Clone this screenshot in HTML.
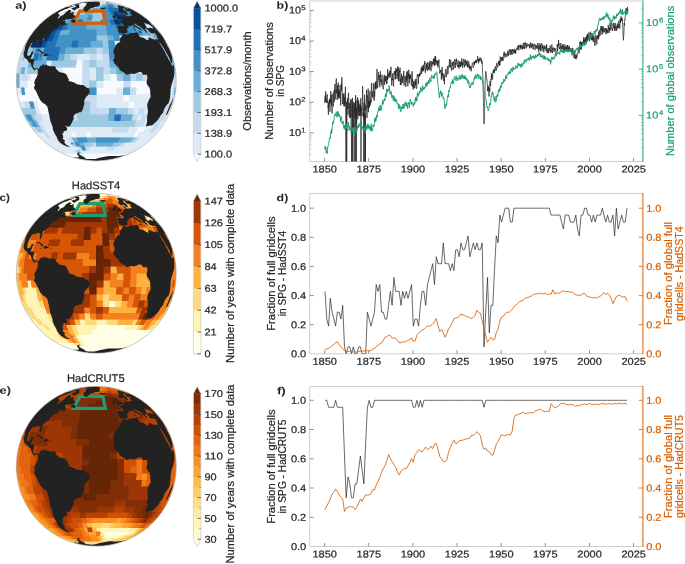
<!DOCTYPE html>
<html lang="en"><head><meta charset="utf-8"><title>Observation coverage: HadSST4 and HadCRUT5</title>
<style>
html,body{margin:0;padding:0;background:#ffffff;}
body{width:685px;height:564px;overflow:hidden;font-family:"Liberation Sans",sans-serif;}
svg{display:block;font-family:"Liberation Sans",sans-serif;will-change:transform;opacity:0.999;}
</style></head><body>
<svg width="685" height="564" viewBox="0 0 685 564">
<defs>
<path id="land" d="M-33.1,63.9 -33.9,63.5 -34.6,63 -35.6,62.2 -36.6,61.3 -37.4,60.4 -38.2,59.5 -38.6,58.5 -39,57.5 -39.4,56.6 -39.8,55.6 -40.5,54.6 -41.1,53.5 -41.7,52.5 -42.2,51.4 -42.6,50.6 -42.9,49.8 -43.3,49 -43.6,48.1 -43.7,47 -43.8,45.9 -44.2,44.7 -44.5,43.6 -45,42.4 -45.5,41.2 -45.9,40 -46.1,39 -46.4,38 -46.6,36.9 -46.7,35.9 -46.9,34.9 -47.1,33.8 -47.4,32.5 -47.7,31.3 -48,30 -48.3,28.7 -48.5,27.4 -48.9,26.2 -49.3,25.1 -50.3,24.3 -51.2,23.4 -52.3,22.7 -53.4,22.1 -54.6,20.8 -55.8,19.6 -56.5,18.3 -57.2,17 -57.8,15.7 -58.5,14.3 -59.1,12.9 -59.7,11.5 -60.3,10.3 -60.9,9.1 -61.5,8.7 -62,8.4 -62.1,7.3 -62.3,6.1 -61.8,5.4 -61.4,4.6 -61.2,3.5 -62.1,2.5 -61.9,1.6 -61.7,0.7 -61.5,-0.2 -61.3,-1.1 -60.4,-2.1 -59.9,-3.5 -59.4,-4.4 -58.9,-5.3 -58.7,-6.5 -58.5,-7.7 -58.5,-8.7 -58.5,-9.7 -58.5,-10.7 -58.4,-11.6 -58.7,-11.1 -59.2,-11.8 -59.6,-12.5 -60.7,-11.4 -61.7,-10.2 -62.3,-10.8 -62.8,-11.4 -63.4,-12.2 -63.9,-12.9 -64.4,-14.1 -64.9,-15.3 -65.3,-16.6 -65.7,-18 -66.3,-18.2 -66.8,-18.4 -67.4,-18.7 -67.9,-19.4 -68.4,-20 -68.9,-20.7 -69.3,-21.4 -69.7,-22.1 -70.2,-22.2 -70.7,-22.3 -71.2,-22.5 -71.5,-23 -71.8,-23.6 -72.1,-24.2 -72.4,-24.7 -72.5,-25.4 -72.6,-26 -72.7,-26.7 -72.7,-27.4 -72.4,-28.5 -72.1,-29.5 -71.7,-30.6 -71.6,-31.5 -71.5,-32.3 -71.3,-33.2 -71.1,-34.1 -70.8,-35.1 -70.5,-36.1 -70.1,-37.1 -69.7,-38.2 -69.2,-39.2 -68.6,-40.2 -68.1,-41.2 -68.6,-40.6 -69,-40 -68.5,-41 -67.9,-42 -67.4,-43 -66.9,-43.8 -66.4,-44.5 -65.9,-45.3 -65.1,-46.5 -64.3,-47.6 -63.5,-48.7 -62.6,-49.8 -61.7,-50.9 -60.8,-52 -59.9,-53 -59,-54 -58,-55.1 -57.1,-56.1 -56.1,-57.1 -55.1,-58 -54,-59 -53,-59.9 -52,-60.8 -50.9,-61.7 -49.8,-62.6 -48.7,-63.5 -47.6,-64.3 -46.5,-65.1 -45.3,-65.9 -44.2,-66.7 -43,-67.5 -41.8,-68.2 -40.6,-68.9 -39.4,-69.6 -38.2,-70.3 -36.9,-71 -35.7,-71.6 -34.4,-72.2 -33.2,-72.8 -31.9,-73.4 -30.6,-73.9 -29.3,-74.4 -28,-74.9 -28.3,-74.8 -28.5,-74.7 -28.8,-74.6 -29,-74.5 -29.2,-74.4 -29.3,-74.4 -29.4,-74.3 -29.5,-74.2 -29.3,-74.2 -29.1,-74.3 -28.8,-74.3 -28.6,-74.4 -28.3,-74.4 -28.3,-74.3 -28.2,-74.2 -28,-74.2 -27.8,-74.2 -27.6,-74.2 -27.4,-74.2 -26.6,-74.4 -25.8,-74.7 -25,-74.9 -24.9,-74.9 -24.9,-74.8 -24.8,-74.7 -25,-74.5 -25.1,-74.3 -25.3,-74.2 -24.1,-74.6 -22.9,-75 -22.6,-75 -22.4,-75 -22.1,-75 -21.9,-75 -22.4,-74.7 -22.9,-74.4 -23.7,-74.2 -24.5,-73.9 -25.3,-73.6 -25.9,-73.5 -26.5,-73.3 -27.1,-73.1 -28.3,-72.6 -29.5,-72 -30,-71.9 -30.4,-71.8 -30.9,-71.7 -31.7,-71.3 -32.6,-71 -33.6,-70.5 -34.5,-70.1 -35.5,-69.6 -36.5,-69 -37.4,-68.4 -37.9,-67.8 -38.4,-67.2 -38.1,-67.2 -37.7,-67.2 -37.6,-67.1 -37.5,-66.9 -37.4,-66.7 -37.4,-66.4 -37.3,-66.1 -37.2,-65.9 -36.9,-65.7 -36.6,-65.6 -36.3,-65.5 -36.9,-64.9 -37.5,-64.3 -38.1,-63.7 -38.4,-63.1 -38.6,-62.4 -38.2,-62.4 -37.8,-62.4 -37.4,-63 -37,-63.5 -36,-64.3 -35.1,-65.1 -34.1,-65.5 -33.1,-65.9 -32.3,-66.6 -31.5,-67.3 -31.2,-67.9 -30.9,-68.4 -30,-69 -29,-69.6 -28.3,-70.3 -27.5,-70.9 -27.1,-70.9 -26.7,-70.9 -26.2,-70.9 -25.8,-70.9 -25.4,-70.8 -25.4,-70.5 -25.5,-70.2 -25.1,-70 -24.8,-69.8 -25.7,-69.2 -26.5,-68.6 -26.1,-68.4 -25.7,-68.2 -25,-68.4 -24.2,-68.6 -23.3,-69 -22.5,-69.5 -22.5,-68.8 -22.5,-68.3 -22.5,-67.8 -22.7,-67.4 -22.9,-66.9 -22.8,-66.4 -22.7,-65.9 -22.2,-65.7 -21.6,-65.4 -21.4,-64.9 -21.1,-64.5 -21,-63.6 -22.1,-62.9 -22.8,-62.7 -23.5,-62.4 -24.5,-62 -25.6,-61.6 -26.3,-61.6 -27.1,-61.6 -27.8,-61.6 -28.6,-61.5 -29.4,-61.5 -30.1,-61.5 -30.8,-61.1 -31.5,-60.7 -32.4,-60.3 -33.2,-59.9 -34,-59.5 -35,-58.9 -35.9,-58.4 -34.7,-59.1 -33.5,-59.7 -32.8,-59.9 -32.1,-60.2 -31.4,-60.4 -31,-60.1 -30.5,-59.7 -30.8,-59.2 -31,-58.7 -30.9,-58.1 -30.7,-57.5 -29.9,-57.5 -29,-57.5 -28.3,-57.8 -27.5,-58 -28.5,-57.5 -29.4,-56.9 -30.5,-56.4 -31.5,-56 -32.6,-55.6 -33.3,-55.4 -34,-55.3 -34.1,-55.8 -34.2,-56.4 -34.9,-56.2 -35.6,-56 -36.4,-55.7 -37.3,-55.4 -38.4,-54.4 -38.2,-53.5 -38.9,-53.1 -39.6,-52.9 -40.3,-52.6 -41.3,-52.3 -42.2,-52.1 -42.9,-51.1 -43.7,-50.5 -44.4,-49.8 -45,-49.5 -45.6,-49.3 -45.8,-48.6 -46.1,-47.9 -46.6,-47 -47,-46.1 -48.1,-45.5 -48.9,-45.1 -49.7,-44.6 -50.7,-43.9 -51.6,-43.1 -52.4,-42.5 -53.2,-41.8 -53.6,-40.9 -54.1,-40 -54.2,-39.1 -54.3,-38.2 -54.5,-37.2 -54.7,-36.3 -55.1,-35.4 -55.6,-34.4 -56.3,-34.1 -56.5,-35.1 -56.5,-36 -56.4,-36.9 -56.2,-37.9 -55.9,-38.8 -56,-39.4 -56.2,-40 -56.6,-40 -57.1,-40 -57.7,-40.2 -58.2,-40.5 -58.9,-40.4 -59.6,-40.2 -60,-39.2 -60.5,-39 -61,-39.3 -61.4,-39.5 -62,-39.4 -62.5,-39.4 -63.1,-39.3 -63.9,-38.5 -64.8,-37.8 -65.3,-36.9 -65.8,-36 -66.3,-35.1 -66.9,-34 -67.4,-33 -67.9,-31.9 -68.2,-30.8 -68.5,-29.8 -68.9,-28.7 -68.9,-27.7 -69,-26.7 -69.1,-25.8 -68.8,-25.4 -68.5,-25 -67.9,-25.1 -67.3,-25.3 -66.7,-25.4 -65.8,-26.4 -65.4,-27.6 -64.9,-28.7 -64.2,-29 -63.5,-29.3 -63,-29.2 -62.4,-29.1 -63.1,-27.9 -63.7,-26.7 -64.3,-25.4 -64.8,-24.1 -65.4,-22.9 -65.8,-21.8 -65.4,-21.8 -64.9,-21.8 -64.3,-21.8 -63.7,-21.9 -63,-21.9 -62.5,-21.3 -61.9,-20.7 -62.3,-19.4 -62.7,-18 -62.9,-17 -63.1,-16.1 -63.2,-15.1 -62.9,-14.2 -62.6,-13.2 -62,-12.8 -61.4,-12.4 -60.5,-12.9 -59.5,-13.3 -58.8,-12.7 -58.1,-12 -57.3,-12.5 -56.7,-13.7 -56.1,-14.9 -55.3,-15.2 -54.5,-15.5 -53.6,-16.1 -52.7,-16.6 -51.8,-17.2 -52.1,-16.2 -52.3,-15.3 -51.8,-15 -51,-15.9 -50.3,-16.8 -49.6,-16 -48.9,-15.3 -48,-15.1 -47.1,-14.9 -46.2,-14.7 -45.1,-14.6 -44,-14.6 -42.8,-14.7 -41.7,-14.9 -40.6,-13.5 -40.4,-12.7 -40.2,-11.8 -39,-10.8 -37.9,-9.7 -37,-9.1 -36.1,-8.4 -34.9,-8.3 -33.6,-8.2 -32.7,-7.9 -31.8,-7.7 -30.6,-6.8 -29.5,-6 -29.1,-4.7 -28.6,-3.5 -28,-2.4 -27.4,-1.4 -27.8,0 -26.6,0.3 -25.4,0.7 -24.1,1 -23.1,1.3 -22,1.7 -21,2.4 -20,3.2 -19,3.4 -18,3.5 -16.6,3.8 -15.2,4 -14.2,4.1 -13.2,4.2 -12.1,4.9 -11.1,5.6 -10.1,6.3 -9,7 -8.2,7.2 -7.4,7.4 -7.1,8.6 -6.8,9.7 -6.8,11.1 -6.9,12.5 -7.8,13.5 -8.6,14.6 -9.4,15.4 -10.2,16.2 -10.9,17.1 -11.5,18 -11.8,19 -12.1,20 -12.1,21.2 -12,22.3 -12,23.4 -12.4,24.4 -12.8,25.4 -12.9,26.4 -13.1,27.4 -13.6,28.5 -14.2,29.7 -14.7,30.5 -15.3,31.3 -16.3,31.3 -17.2,31.3 -18.1,31.8 -18.9,32.3 -19.8,32.6 -20.7,32.9 -21.5,33.7 -22.3,34.4 -22.8,35.7 -22.7,36.8 -22.6,37.9 -23.1,39 -23.7,40 -24.1,40.9 -24.4,41.8 -25,42.7 -25.5,43.6 -25.9,44.3 -26.4,45 -27,45.4 -27.5,45.8 -28.4,45.7 -29.3,45.7 -30.4,45.2 -31.4,44.7 -30.5,45.6 -29.6,46.5 -29.3,47.2 -29.1,47.9 -29.3,48.8 -29.5,49.6 -30.3,49.9 -31.1,50.2 -32,50.3 -32.9,50.3 -32.7,51.3 -32.4,52.3 -33.1,52.3 -33.9,52.4 -34.6,52.5 -33.9,53.3 -33.2,54 -33.3,54.6 -33.5,55.1 -33.2,55.8 -32.8,56.6 -33.3,57 -33.8,57.4 -33.5,58 -32.6,58.7 -31.6,59.3 -31.6,60.1 -31.6,60.8 -31.8,61.3 -32,61.7 -31.2,62.5 -30.5,63.3 -29.9,63.8 -29.3,64.3 -28.7,64.6 -28.1,64.8 -27.4,65.1 -26.6,65.3 -26.8,65.4 -26.5,65.5 -26.9,65.7 -27.3,65.9 -27.8,65.9 -28.4,65.8 -29,65.8 -29.8,65.4 -30.6,65.1 -31.5,64.7 -32.3,64.3 -33.1,63.9ZM-25.6,62.6 -24.9,62.6 -24.2,62.5 -23.5,62.4 -23,63 -23.5,63.1 -24,63.2 -24.5,63.3 -25.6,62.6ZM-55.9,-24.5 -56.3,-24.8 -56.7,-25.1 -56.1,-25.3 -55.5,-25.4 -54.9,-24.7 -55.9,-24.5ZM-45.9,-25.4 -45.1,-25.3 -44.3,-25.3 -44.5,-24.7 -45.3,-24.7 -46,-24.7 -45.9,-25.4ZM-51.8,-25 -52.5,-25.1 -53.1,-25.3 -52.4,-26.2 -51.6,-27.2 -50.7,-27.2 -49.8,-27.2 -49.1,-26.9 -48.3,-26.6 -47.7,-26 -47.1,-25.5 -47.7,-25.3 -48.3,-25.1 -49.1,-25.1 -49.9,-25 -50.6,-24.3 -51.2,-24.7 -51.8,-25ZM-53.7,-27.2 -54.3,-27.2 -55,-27.2 -55.6,-27.2 -54.9,-28.1 -55.4,-28.5 -55.9,-28.9 -56.6,-29.4 -57.2,-30 -58,-30.2 -58.7,-30.4 -59.4,-30.1 -60.1,-29.8 -60.7,-29.8 -59.8,-30.5 -58.9,-31.1 -58,-31.3 -57.2,-31.4 -56.5,-31 -55.8,-30.6 -55.1,-30 -54.4,-29.3 -53.7,-28.7 -53,-28 -52.4,-27.5 -53,-27.4 -53.7,-27.2ZM-20.8,-59.1 -21.4,-58.2 -22.3,-58.3 -22.9,-58.4 -23.5,-58.4 -24,-58.7 -24.5,-59.1 -25.1,-59.1 -25.7,-59.1 -26.3,-59.2 -25.3,-60 -24.7,-60.6 -24.1,-61.1 -23.3,-61.7 -22.6,-62.3 -22.1,-62.4 -21.6,-62.5 -22,-61.8 -22.4,-61.1 -21.8,-60.9 -21.2,-60.7 -20.8,-60 -20.8,-59.1ZM8.5,-71.9 8,-71.8 7.6,-71.7 7.1,-71.5 6.5,-71.6 5.9,-71.6 5.2,-71.7 4.6,-71.8 4.4,-72.4 4,-72.6 3.5,-72.8 3.8,-73.1 4.2,-73.3 4.8,-73.2 5.4,-73.1 5.9,-73.1 6.5,-73.1 7,-73.2 7.5,-73.3 8,-73.3 8.5,-73.2 8.9,-72.9 9.4,-72.7 9.2,-72.2 8.8,-72.1 8.5,-71.9ZM-20.1,-74.6 -20.1,-74.8 -20.1,-75 -20,-75.2 -20.3,-75.2 -20.7,-75.2 -21,-75.2 -21.2,-75.2 -21.4,-75.2 -21.7,-75.3 -21.9,-75.3 -22.1,-75.3 -22.2,-75.4 -22.2,-75.5 -22.3,-75.6 -21.3,-76.1 -20.3,-76.5 -19.8,-76.6 -19.4,-76.7 -18.9,-76.7 -18.5,-76.8 -18.3,-76.8 -18.1,-76.8 -18,-76.8 -17.8,-76.8 -17.6,-76.7 -17.5,-76.7 -17.5,-76.6 -17.4,-76.5 -17.3,-76.4 -17.3,-76.3 -17.2,-76.2 -17.2,-76.1 -17.1,-76 -17,-75.9 -17,-75.7 -17,-75.5 -17,-75.4 -17,-75.2 -17.2,-74.9 -17.3,-74.7 -17.2,-74.4 -17.2,-74.2 -17.1,-73.9 -17,-73.7 -16.8,-73.6 -16.6,-73.4 -17.6,-73 -18.7,-72.5 -19.1,-72.4 -19.5,-72.4 -20.1,-71.8 -20.6,-71.3 -21.1,-70.8 -21.6,-70.3 -21.7,-70.6 -21.9,-70.8 -22.2,-70.9 -22.6,-70.9 -23,-71 -23.2,-71.1 -23.5,-71.3 -23.7,-71.4 -23.9,-71.6 -24.1,-71.8 -24.2,-72 -24.4,-72.2 -24.8,-72.2 -25.2,-72.2 -25.6,-72.2 -24.5,-72.7 -23.4,-73.1 -22.6,-73.4 -21.7,-73.6 -20.9,-73.9 -20.5,-74.3 -20.1,-74.6ZM-11.1,-75.4 -10.5,-75.9 -10,-76.3 -9.8,-76.6 -9.7,-76.9 -9.6,-77.2 -9.4,-77.5 -9.6,-77.5 -9.8,-77.6 -10,-77.6 -10.1,-77.7 -10.4,-77.7 -10.7,-77.7 -11,-77.7 -11.3,-77.6 -11.6,-77.6 -11.9,-77.6 -11.8,-77.8 -11.7,-77.9 -11.5,-78.1 -11.3,-78.2 -10.8,-78.3 -10.3,-78.4 -9.7,-78.5 -9.2,-78.6 -8.7,-78.7 -8.2,-78.8 -7.7,-78.9 -7.3,-78.9 -6.8,-79 -6.4,-79.1 -6,-79.2 -5.6,-79.2 -5.4,-79.2 -5.2,-79.2 -5,-79.3 -4.8,-79.3 -4.6,-79.3 -4.4,-79.3 -4.2,-79.3 -4,-79.3 -3.8,-79.3 -3.6,-79.3 -3.4,-79.3 -3.2,-79.3 -3,-79.4 -2.8,-79.4 -2.6,-79.4 -2.4,-79.4 -2.2,-79.4 -2,-79.4 -1.8,-79.4 -1.6,-79.5 -1.5,-79.5 -1.3,-79.5 -1.1,-79.5 -1,-79.5 -0.8,-79.5 -0.6,-79.5 -0.5,-79.5 -0.3,-79.5 -0.2,-79.5 0,-79.5 0.2,-79.5 0.3,-79.4 0.5,-79.4 0.7,-79.4 0.9,-79.4 1.1,-79.4 1.3,-79.3 1.5,-79.3 1.7,-79.3 1.9,-79.3 2.1,-79.3 2.3,-79.2 2.5,-79.2 2.7,-79.2 3,-79.2 3.2,-79.2 3.2,-79 3.2,-78.9 3.1,-78.8 3.2,-78.5 3.2,-78.3 3.4,-77.9 3.7,-77.6 3.8,-77.3 3.8,-76.9 3.6,-76.6 3.3,-76.3 3.3,-75.9 3.3,-75.4 2.9,-75.3 2.5,-75.3 2.1,-75.2 2.6,-75.1 3.1,-75.1 3.6,-75.1 3.2,-74.9 2.9,-74.8 2.5,-74.6 2,-74.4 1.5,-74.4 1,-74.3 0.5,-74.3 0,-74.2 -0.5,-74.1 -1.1,-74 -1.6,-73.9 -2.1,-73.6 -2.6,-73.4 -3.1,-73.1 -3.6,-73 -4.1,-72.9 -4.6,-72.9 -5.2,-72.7 -5.9,-72.5 -6.3,-72.1 -6.8,-71.6 -7.5,-71.1 -8.1,-70.6 -8.5,-70.1 -8.9,-69.6 -9.4,-69.2 -10,-69.4 -10.6,-69.5 -11.1,-69.7 -11.5,-69.8 -12,-70 -12.3,-70.5 -12.6,-71 -12.8,-71.4 -12.9,-71.9 -12.8,-72.5 -12.7,-73.1 -12.5,-73.5 -12.2,-73.9 -11.5,-74.3 -10.7,-74.6 -10,-74.9 -10.3,-75.1 -10.6,-75.2 -10.8,-75.3 -11.1,-75.4ZM-5.7,-79.3 -6.1,-79.2 -6.5,-79.2 -6.9,-79.1 -7.3,-79 -7.7,-79 -8.1,-78.9 -8.5,-78.9 -8.9,-78.8 -9.2,-78.7 -9.6,-78.7 -10,-78.6 -10.4,-78.6 -10.8,-78.5 -11.6,-78.3 -12.5,-78.2 -13.4,-77.9 -14.2,-77.8 -15,-77.6 -15.3,-77.5 -15.6,-77.5 -15.9,-77.5 -16.1,-77.5 -16.4,-77.5 -16.8,-77.4 -17.1,-77.4 -17.5,-77.3 -17.8,-77.2 -18.2,-77.2 -18.5,-77.1 -18.9,-77.1 -20,-76.8 -21.2,-76.4 -22.4,-76.1 -23.4,-75.8 -24.4,-75.5 -25.4,-75.2 -25.6,-75.1 -25.9,-75.1 -26.2,-75.1 -26.4,-75 -26.7,-75 -26.9,-74.9 -26.9,-75 -26.8,-75.1 -26.7,-75.2 -26.5,-75.3 -26.4,-75.3 -26.3,-75.4 -26.3,-75.5 -26.2,-75.5 -26.2,-75.6 -26.1,-75.6 -26,-75.6 -25.9,-75.7 -25.7,-75.8 -24.5,-76.2 -23.4,-76.5 -22.2,-76.9 -21,-77.2 -19.9,-77.5 -18.7,-77.8 -18.5,-77.8 -18.3,-77.9 -18,-77.9 -17.8,-78 -17.6,-78 -17.4,-78.1 -17.1,-78.1 -16.9,-78.2 -16.6,-78.2 -16.4,-78.3 -16.1,-78.3 -15.9,-78.3 -15.6,-78.4 -15.3,-78.4 -15.1,-78.5 -14.8,-78.5 -14.5,-78.5 -14.3,-78.6 -14,-78.6 -13.7,-78.7 -13.4,-78.7 -13,-78.8 -12.7,-78.8 -12.4,-78.8 -12,-78.9 -11.7,-78.9 -11.4,-79 -11,-79 -10.7,-79.1 -10.4,-79.1 -10.1,-79.1 -9.7,-79.2 -9.4,-79.2 -9.1,-79.2 -8.8,-79.3 -8.6,-79.3 -8.5,-79.3 -8.3,-79.3 -8.1,-79.3 -8,-79.3 -7.8,-79.3 -7.6,-79.3 -7.5,-79.3 -7.3,-79.4 -7.1,-79.4 -7,-79.4 -6.8,-79.4 -6.6,-79.4 -6.4,-79.4 -6.3,-79.4 -6.2,-79.4 -6.1,-79.4 -6,-79.3 -5.9,-79.3 -5.8,-79.3 -5.7,-79.3ZM-22.6,76.3 -22.4,76.3 -22.2,76.3 -22,76.3 -21.8,76.3 -21.6,76.4 -21.4,76.4 -21.2,76.4 -21,76.4 -20.7,76.4 -20.5,76.4 -20.3,76.4 -20,76.4 -19.8,76.4 -19.5,76.5 -19.3,76.5 -19,76.5 -18.7,76.5 -18.5,76.5 -18.2,76.5 -17.9,76.5 -17.9,76.4 -17.8,76.3 -17.7,76.3 -17.6,76.2 -17.5,76.1 -17.5,75.9 -17.6,75.7 -17.6,75.6 -17.6,75.4 -17.6,75.2 -18,74.8 -18.5,74.3 -18.8,73.9 -19,73.5 -19.1,73.1 -19.1,72.8 -19.1,72.5 -19,72.2 -18.7,72.1 -18.5,71.9 -18.2,71.7 -17.8,71.6 -17.3,71.6 -16.8,71.5 -16.3,71.5 -16.5,71.8 -16.7,72.2 -17,72.4 -17.3,72.6 -17.6,72.8 -17.1,73.3 -16.6,73.7 -16.1,74.2 -15.2,74.7 -14.3,75.2 -13.4,75.6 -12.8,76 -12.2,76.4 -11.5,76.7 -11.3,77 -11,77.3 -10.9,77.5 -10.8,77.6 -10.7,77.8 -10.3,77.9 -9.9,77.9 -9.5,78 -9.1,78 -8.7,78.1 -8.4,78.1 -8.1,78.1 -7.8,78.1 -7.5,78.1 -7.2,78.1 -6.9,78.2 -6.7,78.2 -6.4,78.2 -6.1,78.2 -5.8,78.2 -5.5,78.2 -5.2,78.2 -4.9,78.2 -4.6,78.2 -4.3,78.2 -4.1,78.2 -3.8,78.2 -3.5,78.2 -3.2,78.2 -2.9,78.3 -2.6,78.2 -2.4,78.2 -2.1,78.2 -1.8,78.1 -1.5,78.1 -1.2,78 -0.9,78 -0.6,77.9 -0.3,77.8 0,77.8 0.3,77.7 0.7,77.6 1,77.5 1.4,77.4 1.8,77.3 2.2,77.2 2.6,77.1 3,76.9 3.5,76.8 3.9,76.7 4.4,76.6 4.8,76.6 5.3,76.5 5.7,76.4 6.2,76.3 6.7,76.2 7.2,76.2 7.6,76.1 8.2,75.9 8.7,75.8 9.3,75.7 9.9,75.5 10.4,75.5 10.9,75.4 11.4,75.3 11.9,75.3 12.3,75.2 12.8,75.2 13.3,75.1 13.8,75.1 14.2,75.1 14.6,75.1 15,75.1 15.4,75.1 15.8,75.1 16.1,75.1 16.5,75.1 16.9,75.2 17.2,75.2 17.6,75.2 17.9,75.2 18.3,75.2 18.6,75.2 18.9,75.2 19.3,75.2 19.6,75.2 19.9,75.2 20.2,75.3 20.5,75.3 20.8,75.3 21.2,75.2 21.5,75.2 21.9,75.1 22.3,75.1 22.7,75.1 23.1,75 23.4,75 23.8,74.9 24.1,74.9 24.5,74.8 24.8,74.8 25.1,74.8 25.4,74.7 25.7,74.7 26,74.7 26.3,74.6 26.6,74.6 26.9,74.5 27.3,74.5 27.6,74.4 28,74.3 28.4,74.2 28.8,74.1 29.2,74 29.6,73.9 30,73.8 30.3,73.7 30.7,73.6 31.1,73.5 31.4,73.4 31.6,73.3 31.8,73.3 32,73.2 32.2,73.1 32.4,73.1 32.1,73.2 31.8,73.4 31.5,73.5 31.2,73.7 30.9,73.8 29.6,74.3 28.3,74.8 27,75.3 25.7,75.8 24.4,76.2 23.1,76.6 21.8,77 20.4,77.3 19.1,77.7 17.8,78 16.4,78.3 15.1,78.6 13.7,78.8 12.4,79 11,79.2 9.6,79.4 8.3,79.6 6.9,79.7 5.5,79.8 4.1,79.9 2.8,80 1.4,80 0,80 -1.3,80 -2.7,80 -4,79.9 -5.3,79.8 -6.7,79.7 -8,79.6 -9.3,79.5 -10.6,79.3 -12,79.1 -13.3,78.9 -14.6,78.7 -15.9,78.4 -17.2,78.1 -18.5,77.8 -19.8,77.5 -21.1,77.2 -22.4,76.8 -22.3,76.8 -22.2,76.8 -22.2,76.9 -22.1,76.9 -22,76.9 -22.1,76.9 -22.2,76.8 -22.3,76.7 -22.4,76.7 -22.5,76.6 -22.6,76.5 -22.6,76.4 -22.6,76.3ZM72,28 72.5,26.9 72.9,25.7 73.3,24.6 73.7,23.4 74.3,22.5 74.9,21.5 75.3,20.6 75.7,19.6 76.1,18.7 76.5,17.7 76.9,16.6 76.7,17.8 76.5,19 76.2,20.2 76,21.4 75.5,22.7 75,24.1 74.5,25.4 74,26.7 73.4,28 72.9,29.1 72.4,30.3 71.9,31.4 71.4,32.5 70.8,33.6 70.4,34 69.9,34.4 69.8,34.1 69.7,33.8 70.2,32.5 70.6,31.3 71.1,30.2 71.6,29.1 72,28ZM38.5,-48.1 39.2,-48.3 40,-48.4 40.7,-48.5 41.3,-48.3 41.9,-48.1 41.8,-47 42.4,-46.2 43.1,-45.3 42.8,-44.7 43.9,-43.9 44.6,-43.7 45.4,-43.5 46.3,-43.2 47.3,-43 48.4,-42.4 49.5,-41.7 50.6,-41.1 51.5,-40.8 52.4,-40.6 52.2,-41.5 52,-42.4 52.3,-42.9 52.6,-43.5 53.2,-43.3 53.8,-43.1 54.8,-42.6 55.8,-42 56.5,-41.8 57.3,-41.6 58.1,-41.3 58.8,-41.1 59.1,-41.4 59.4,-41.7 59.9,-41.6 60.4,-41.6 60.9,-40.8 61.5,-40 61.2,-40.7 61,-41.3 61.3,-41.6 61.6,-41.8 61.3,-42.6 60.9,-43.3 60.6,-44.3 60.1,-45.3 59.5,-46.5 59,-47.2 58.5,-47.9 58.2,-47.7 57.9,-47.5 57.4,-47.4 56.9,-47.4 56.5,-47.5 56,-47.6 55.5,-47.7 55,-47.7 54.6,-47.8 53.6,-48.4 52.9,-49.3 52.2,-50.1 51.5,-50.9 50.8,-51.6 50.2,-52.3 49.7,-52.2 49.1,-52.1 48.8,-52 48.5,-51.8 49,-51.3 49.4,-50.7 50.2,-50 51,-49.3 50.6,-49 51,-48.3 51.4,-47.6 50.7,-47.8 49.8,-48.7 48.9,-49.6 48.2,-50.2 47.4,-50.9 46.3,-51.8 45.8,-52.6 45.3,-53.3 44.5,-53.7 43.8,-54.2 43,-54.6 42.2,-55 41.4,-55.4 40.7,-55.8 39.4,-56.8 38.6,-57.3 38.2,-57.1 37.8,-57 38.2,-56.4 38.6,-55.9 39.3,-55.5 40,-55.2 40.7,-54.5 41.5,-53.8 42.2,-53.6 42.9,-53.3 43.9,-52.9 44.9,-52.5 45.8,-51.5 44.9,-52 44.4,-51.6 45.2,-51 45.3,-50.1 45.2,-49.5 44.7,-50.2 44.3,-50.9 43.2,-51.6 42.3,-52.2 41.4,-52.7 40.6,-53.1 39.8,-53.4 39,-53.9 38.1,-54.5 37.3,-55.4 36.7,-55.7 36,-56 35.5,-55.5 35.1,-55.1 34.7,-54.7 33.8,-54.8 32.9,-55 32.4,-54.8 32,-54.6 32.3,-54 32.6,-53.4 32.1,-53.1 31.5,-52.8 30.9,-52.5 30.8,-51.7 30.6,-50.9 31.3,-50.1 31.1,-49.5 31,-48.8 30.5,-48.4 29.9,-47.9 29.1,-47.9 28.4,-47.8 27.6,-47.8 27.2,-47.4 26.7,-47 25.8,-47.7 25.1,-48 24.4,-48.3 23.7,-48.2 23,-48.1 22.6,-49.1 22.2,-50 21.9,-50.1 22,-50.8 22.1,-51.4 21.9,-52.2 21.7,-53 21.2,-53.8 20.8,-54.6 21.2,-54.9 21.7,-55.3 22.6,-55.2 23.6,-55.2 24.5,-55.1 25.5,-55 26.1,-55 26.8,-55 27.5,-55 27.6,-55.6 27.4,-56.3 27.1,-57.1 26.1,-57.8 25.1,-58.8 24.2,-59 23.4,-59.3 22.7,-59.8 23.3,-60 23.9,-60.2 24.5,-60.1 25,-60.1 25.1,-60.7 25.6,-60.8 26.1,-60.9 26.4,-61.2 26.8,-61.5 26.5,-62.2 26.9,-62.3 27.2,-62.4 27.5,-63 27.5,-63.6 27.5,-64.1 28.1,-64.2 28.6,-64.3 29.1,-64.5 29.5,-64.7 28.7,-65.3 28,-65.9 27.6,-66.5 27.1,-67.1 27.5,-67.3 27.9,-67.5 28.5,-66.9 29.2,-66.3 29.5,-65.7 29.9,-65.1 30.5,-64.9 31.2,-64.7 31.7,-64.7 32.2,-64.7 32.7,-64.7 33,-64.9 33.4,-65 33.7,-65.1 34.3,-65.1 34.9,-65.1 35.4,-65 35.5,-65.3 35.7,-65.5 35,-66.1 34.3,-66.7 33.9,-67.5 34,-67.7 34.1,-67.8 33.6,-68.3 33,-68.8 33.4,-68.8 33.8,-68.9 34.1,-68.9 34.4,-68.9 34.3,-69.3 33.8,-69.4 33.3,-69.4 32.9,-69.5 32.6,-69.4 32.3,-69.4 32,-69.3 31.7,-69.3 31,-69.6 30.3,-70 29.6,-70.6 28.8,-71.3 28.7,-71.6 28.6,-71.9 28.4,-72.2 27.2,-72.8 26.8,-72.8 26.5,-72.8 26.1,-72.8 26.7,-72.3 27.3,-71.8 27.2,-71.6 27.2,-71.4 27.2,-71.2 27.7,-70.7 28.1,-70.3 29.1,-69.8 30.1,-69.3 30.1,-68.9 30.1,-68.6 30.9,-67.8 31.6,-67.1 31.5,-66.7 31.4,-66.3 31.1,-66.1 30.9,-65.9 29.8,-66.7 28.7,-67.5 27.6,-68.2 26.4,-68.9 26.3,-68.5 26.2,-68.1 25.8,-68 25.5,-67.8 24.7,-68.2 23.9,-68.6 23.3,-69.1 22.6,-69.6 22.2,-70.1 21.8,-70.6 22,-70.9 22.2,-71.2 22.4,-71.5 22.5,-71.7 22.5,-72 22.6,-72.2 22.4,-72.7 22.2,-73.1 21.7,-73.6 21.2,-74.2 21.2,-74.4 21.1,-74.6 21,-74.8 21.1,-75 21.2,-75.1 21.3,-75.2 21.3,-75.3 21.3,-75.4 21.3,-75.5 21.3,-75.6 21.6,-75.6 21.8,-75.6 22.1,-75.6 22.7,-75.5 23.3,-75.3 23.9,-75.2 24.3,-75.1 24.7,-75 25.1,-75 25.5,-74.9 25.8,-74.8 26.3,-74.7 26.8,-74.6 27.3,-74.4 27.8,-74.3 28.3,-74.2 29.2,-73.8 30.1,-73.4 29.8,-73.4 29.5,-73.5 29.2,-73.5 28.9,-73.6 28.6,-73.6 28.4,-73.6 28.3,-73.5 28.2,-73.5 29.4,-73 30.6,-72.5 31.2,-72.4 31.7,-72.2 31.8,-72.3 31.9,-72.3 32,-72.4 31.1,-72.9 30.2,-73.4 30.3,-73.4 30.5,-73.4 30.7,-73.4 29.6,-73.9 28.6,-74.3 28.8,-74.3 29,-74.3 29.2,-74.2 29.3,-74.2 29.5,-74.2 29.4,-74.3 29.3,-74.4 29.2,-74.4 29.1,-74.5 29,-74.5 28.9,-74.6 28.8,-74.6 28.7,-74.7 30,-74.2 31.2,-73.6 32.5,-73.1 33.8,-72.5 35,-71.9 36.3,-71.3 37.5,-70.7 38.7,-70 39.9,-69.3 41.1,-68.6 42.3,-67.9 43.5,-67.2 44.6,-66.4 45.8,-65.6 46.9,-64.8 48,-64 49.1,-63.1 50.2,-62.3 51.3,-61.4 52.3,-60.5 53.4,-59.6 54.4,-58.7 55.4,-57.7 56.4,-56.7 57.4,-55.8 58.3,-54.8 59.3,-53.7 60.2,-52.7 61.1,-51.6 62,-50.6 62.8,-49.5 63.7,-48.4 64.5,-47.3 65.3,-46.2 66.1,-45 66.9,-43.9 67.6,-42.7 68.4,-41.5 69.1,-40.3 69.8,-39.1 70.4,-37.9 71.1,-36.7 71.7,-35.5 72.3,-34.2 72.3,-34.3 72.2,-34.4 71.7,-35.4 71.2,-36.3 71.2,-36.2 71.1,-36.1 71.1,-35.9 70.7,-36.5 70.3,-37 69.9,-37.6 69.1,-38.8 68.2,-40 68.1,-40 67.9,-40 68.4,-39.1 68.9,-38.2 69.8,-36.9 70.6,-35.7 71.3,-34.4 71.8,-33.7 72.2,-32.9 72.3,-33 72.4,-33.1 72.5,-33.2 72.1,-34.1 71.7,-35.1 72.2,-34.1 72.7,-33.2 72.9,-32.7 73.2,-32.3 73.5,-31.5 73.9,-30.6 74.4,-29.5 74.8,-28.3 75.2,-27.2 75.6,-26 75.7,-25.4 75.9,-24.7 76,-24.1 76.1,-23.5 76.1,-22.9 76.1,-22.3 76.1,-21.6 76.1,-20.8 76,-20.1 75.9,-19.4 75.8,-18.8 75.6,-18.2 75.4,-17.6 75,-17.8 74.7,-18 74.3,-19.1 74,-20.3 73.6,-21.4 73,-22.7 72.4,-24.1 71.8,-25 71.3,-26 70.8,-27 70.1,-28.1 69.5,-29.3 68.8,-30.5 68.1,-31.6 67.4,-32.8 66.7,-33.9 65.9,-35.1 65,-36.3 64,-37.6 63.6,-38.5 63.1,-39.4 63.5,-38.2 63.2,-37.6 64.1,-36.3 64.9,-35.1 65.7,-33.8 66.5,-32.5 67.3,-31.3 68,-30 68.9,-28.7 69.3,-27.4 69.8,-26 70.3,-25.4 70.8,-24.7 71.4,-23.4 72,-22.1 72.6,-21 73.2,-20 73.8,-18.9 74.4,-17.7 75,-16.4 75.4,-15.5 75.8,-14.6 76,-14.8 76.2,-15 76.5,-15.3 76.8,-15.5 77,-15.9 77.2,-16.2 77.3,-16.5 77.5,-15.5 77.7,-14.6 77.9,-13.2 78,-11.8 78,-10.4 78,-9.1 78,-7.7 78,-6.3 77.8,-4.9 77.5,-3.5 77.2,-2.4 76.9,-1.4 76.6,-0.3 76.3,0.7 76,1.7 75.6,2.8 75.3,3.8 75,4.9 74.8,5.9 74.6,7 74.4,8 74.2,9.1 74.2,10.1 74.2,11.1 74.1,12.5 74,13.9 74,14.9 73.9,15.9 73.7,17.1 73.5,18.2 73.2,19.4 72.8,20.7 72.3,22.1 71.6,22.9 70.8,23.8 70.4,24.3 69.9,24.7 69.2,25.9 68.4,27.1 67.9,28.2 67.5,29.3 67.1,30.6 66.8,31.9 66,32.7 65.3,33.6 64.7,34.2 64.1,34.8 63.6,35.9 63.1,36.9 62.5,37.7 61.9,38.5 61.1,39.5 60.3,40.4 59.5,41.2 58.6,42 57.8,42.7 57,43.5 56.2,44 55.4,44.5 54.9,44.6 54.3,44.7 53.7,44.7 53,44.7 52.1,45 51.3,45.2 50.3,45.7 50,45.4 49.7,45.1 49.8,44.2 50.2,43.3 50.5,42.4 50.6,41.5 50.7,40.6 50.8,39.5 50.9,38.4 50.8,37.4 50.7,36.3 50.9,35.1 51.2,33.8 51.4,32.8 51.5,31.7 51.7,30.6 51.6,29.6 51.4,28.7 51.3,27.4 51.1,26 51,25.1 50.9,24.1 51.2,22.7 51.6,21.4 52.2,20 52.8,18.7 53.4,17.7 54.1,16.6 54.2,15.6 54.3,14.6 54.1,13.5 53.9,12.5 53.9,11.1 54,9.7 53.4,8.4 53.3,7 52.4,5.6 51.6,4.5 50.8,3.5 50.5,2.4 50.1,1.4 50.4,0.6 50.7,-0.3 50.8,-1.2 51,-2.1 51.1,-3.1 51.1,-4.2 50.8,-5.6 50,-6.3 49.3,-6.2 48.6,-6.1 47.8,-6.1 47.1,-6 46,-7.3 45.5,-8 45,-8.8 44.2,-8.8 43.3,-8.9 42.4,-8.7 41.6,-8.5 40.4,-7.9 39.2,-7.4 38,-6.8 37.1,-7 36.2,-7.1 35.2,-7.2 34.3,-7.3 33.4,-7 32.4,-6.7 31.5,-6.4 30.5,-6.1 29.2,-7 27.9,-8.1 27,-8.7 26.1,-9.3 25.2,-9.7 23.8,-10.6 22.9,-11.8 22.6,-12.7 22.4,-13.5 21.5,-14.3 20.6,-15.1 19.6,-16.2 18.8,-16.7 18,-17.2 17.9,-17.9 17.8,-18.7 17.3,-19.5 16.7,-20.3 17.6,-21.6 18,-22.7 18.2,-23.7 18.3,-24.7 18.1,-25.7 17.9,-26.7 17.5,-27.7 17.1,-28.7 16.7,-29.3 17.5,-30.6 17.6,-31.5 17.7,-32.3 18.2,-33 18.8,-33.8 19,-34.6 19.2,-35.3 20.2,-36.3 20.7,-37.3 21.5,-37.7 22.3,-38.2 23,-38.7 23.6,-39.2 23.8,-39.9 23.9,-40.6 23.6,-41.8 24,-43 24.5,-43.6 25,-44.2 25.5,-44.6 26.1,-45 26.4,-46.1 26.5,-46.8 27.1,-46.9 27.9,-46.7 28.8,-46.5 29.6,-46.2 30.7,-46 31.6,-46.4 32.4,-46.8 33,-47.2 33.6,-47.6 34.2,-47.8 34.9,-47.9 35.8,-47.9 36.7,-47.9 37.6,-48 38.5,-48.1ZM53.2,-53.5 53.5,-53.5 53.9,-53.5 54.5,-53.2 55.1,-52.8 55.7,-52.6 56.3,-52.4 56.5,-52.4 56.7,-52.5 56.7,-52.8 56.7,-53.1 56.2,-53.7 55.6,-54.4 54.9,-54.8 54.2,-55.3 53.5,-55.7 52.9,-56.1 52.1,-56.6 51.6,-56.9 51.4,-56.8 51.1,-56.8 51.1,-56.4 51.1,-56.1 50.4,-56.7 49.8,-57.3 48.9,-57.7 48.5,-57.9 48.1,-58 48.3,-57.4 48.7,-56.6 49.2,-55.6 49.6,-54.6 50.1,-53.7 51,-52.8 51.7,-52.6 52.1,-52.6 52.5,-52.7 52.9,-52.7 53.1,-53.1 53.2,-53.5ZM58.2,-53.5 59.1,-52.6 60,-51.7 60.7,-50.8 61.5,-49.8 62.1,-49.1 62.7,-48.5 63.1,-48.2 63.4,-47.9 63.4,-48.2 63.3,-48.5 62.5,-49.4 61.7,-50.3 61.1,-51.2 60.4,-52 59.7,-52.7 58.9,-53.5 58.3,-54 57.7,-54.6 57.1,-55.2 56.6,-55.9 56.6,-56 56.6,-56.1 55.9,-56.8 55.2,-57.5 54.6,-57.9 54.1,-58.3 54.1,-58.2 54.1,-58 54.4,-57.5 54.6,-57.1 55.4,-56.3 56.1,-55.6 57.1,-54.6 58.2,-53.5ZM58.5,-45.4 58,-45.9 58.3,-46.1 58.5,-46.3 58.7,-46.6 59,-45.8 58.7,-45.6 58.5,-45.4ZM52.4,-46.5 53.1,-46.3 53.7,-46.2 54.4,-46.1 54.3,-45.9 53.8,-46 53.2,-46 52.6,-46.1 52.4,-46.5ZM42.6,-49.3 43.4,-49.3 44.1,-49.4 44.8,-49.5 45.2,-48.7 45.5,-47.9 44.8,-48.1 44.1,-48.3 43.4,-48.5 42.6,-49.3ZM38.7,-50.3 38.1,-51.4 37.4,-52.5 38,-52.5 38.5,-52.5 39,-51.5 39.5,-50.6 39.1,-50.5 38.7,-50.3ZM36.8,-54 37.2,-54.6 37.7,-53.8 38.1,-53 37.5,-53 36.8,-54ZM19.4,-64.3 19.5,-63.8 19.7,-63.2 19.2,-63 18.6,-62.7 17.8,-62.7 17,-62.7 16.6,-63.2 16.8,-64.1 16,-64.9 16.5,-65 17.1,-65 17,-65.7 17.6,-65.7 18.2,-65.7 19.3,-65.1 19.4,-64.3ZM19.5,-65.4 19,-65.9 18.6,-66.3 18,-66.9 17.5,-67.5 17.6,-67.9 17.6,-68.3 18.2,-68.3 18.8,-68.3 19.1,-67.6 19.6,-67.5 20.2,-67.5 20.2,-67 20.3,-66.6 21,-66.3 21.9,-65.5 22.6,-65.1 23.4,-64.7 24.3,-63.9 24.9,-63.8 25.5,-63.6 25.8,-63 26,-62.3 25.6,-62.2 25.1,-62.1 24.6,-61.9 24,-61.8 23.4,-61.7 22.8,-61.6 22.2,-61.5 21.7,-61.4 21.1,-61.4 21.4,-61.8 21.7,-62.2 22.2,-62.6 21.5,-62.7 20.8,-62.9 21.3,-63.3 20.6,-64.1 21.1,-64.2 21.6,-64.3 21.2,-64.8 20.8,-65.4 20.1,-65.4 19.5,-65.4ZM26.3,-75.5 26.2,-75.5 26.1,-75.6 25.9,-75.6 25.8,-75.6 24.5,-76.1 23.2,-76.5 22.4,-76.8 21.5,-77 20.7,-77.3 20.4,-77.4 20.1,-77.4 19.8,-77.5 19.5,-77.6 20.8,-77.2 22.1,-76.9 22.9,-76.6 23.8,-76.4 24.7,-76.1 25.5,-75.8 26.3,-75.5ZM10.2,-78.8 10.3,-78.8 10.4,-78.8 10.5,-78.8 10.6,-78.8 10.7,-78.8 10.8,-78.8 10.9,-78.8 11,-78.9 11.6,-78.8 12.2,-78.7 12.3,-78.6 12.4,-78.5 12.5,-78.5 12.6,-78.4 12.7,-78.3 13.2,-78.1 13.6,-77.9 13.2,-77.9 12.9,-78 12.6,-78 12.2,-78 11.3,-78.3 10.4,-78.5 9.6,-78.7 9.7,-78.7 9.8,-78.7 9.9,-78.7 10,-78.7 10.1,-78.8 10.2,-78.8Z" fill="#222222" fill-rule="evenodd"/>
<clipPath id="clipa"><circle cx="96.3" cy="80.9" r="80.0"/></clipPath>
<clipPath id="clipc"><circle cx="96.3" cy="273.3" r="80.0"/></clipPath>
<clipPath id="clipe"><circle cx="96.3" cy="466.2" r="80.0"/></clipPath>
</defs>
<g clip-path="url(#clipa)">
<circle cx="96.3" cy="80.9" r="80.0" fill="#ffffff"/>
<path d="M96.3,0.9 96.3,0.9 99.8,1 103.3,1.2 89.3,1.2 92.8,1ZM89.3,1.2 103.3,1.2 106.7,1.6 110.2,2.1 82.4,2.1 85.9,1.6ZM82.4,2.1 98.7,2.1 99.3,2.8 99.9,3.6 75.6,3.6 79,2.8ZM103.2,2.1 110.2,2.1 113.6,2.8 117,3.6 106.7,3.6 105,2.8ZM75.6,3.6 98.1,3.6 98.4,4.6 98.7,5.7 68.9,5.7 72.2,4.6ZM115.8,3.6 117,3.6 120.4,4.6 123.7,5.7 122,5.7 118.9,4.6ZM68.9,5.7 80.6,5.7 78.7,7 76.9,8.4 62.5,8.4 65.7,7ZM84.7,5.7 91.5,5.7 91,7 90.4,8.4 82,8.4 83.4,7ZM122.7,5.7 123.7,5.7 126.9,7 130.1,8.4 129,8.4 125.9,7ZM62.5,8.4 74.6,8.4 72.6,9.9 70.6,11.6 56.3,11.6 59.4,9.9ZM56.3,11.6 63.5,11.6 61.1,13.4 58.7,15.4 50.4,15.4 53.3,13.4ZM136.1,11.6 136.3,11.6 139.3,13.4 142.2,15.4 142,15.4 139.1,13.4ZM142,15.4 142.2,15.4 145,17.4 147.7,19.6 147.5,19.6 144.8,17.4ZM142.9,19.6 144.6,19.6 147.1,21.9 149.5,24.3 147.6,24.3 145.3,21.9ZM118.7,35 124,35 124.8,37.9 125.6,40.9 120,40.9 119.4,37.9ZM76.3,60.2 82.9,60.2 82.7,63.6 82.6,67 75.9,67 76.1,63.6ZM63,67 82.6,67 82.5,70.5 82.5,73.9 62.6,73.9 62.8,70.5ZM31,73.9 82.5,73.9 82.4,77.4 82.4,80.9 30.8,80.9 30.8,77.4ZM110.1,73.9 116.9,73.9 117,77.4 117,80.9 110.2,80.9 110.2,77.4ZM27,80.9 82.4,80.9 82.4,84.4 82.5,87.9 27.3,87.9 27.1,84.4ZM103.3,80.9 123.7,80.9 123.6,84.4 123.6,87.9 103.2,87.9 103.3,84.4ZM130.1,80.9 147.7,80.9 147.7,84.4 147.5,87.9 130,87.9 130.1,84.4ZM16.6,87.9 17.8,87.9 18.2,91.3 18.7,94.8 17.5,94.8 17,91.3ZM24.1,87.9 89.4,87.9 89.4,91.3 89.4,94.8 24.9,94.8 24.4,91.3ZM96.3,87.9 116.9,87.9 116.8,91.3 116.7,94.8 96.3,94.8 96.3,91.3ZM136.1,87.9 152.7,87.9 152.4,91.3 152,94.8 135.7,94.8 136,91.3ZM17.5,94.8 82.6,94.8 82.7,98.2 82.9,101.6 19,101.6 18.2,98.2ZM123.2,94.8 129.6,94.8 129.3,98.2 129,101.6 122.7,101.6 123,98.2ZM19,101.6 19.3,101.6 20.3,105 21.4,108.3 21.1,108.3 20,105ZM37.1,101.6 46.6,101.6 47.3,105 48,108.3 38.7,108.3 37.9,105ZM129,101.6 134.9,101.6 134.4,105 133.9,108.3 128.1,108.3 128.5,105ZM38.7,108.3 48,108.3 48.8,111.5 49.7,114.7 40.8,114.7 39.7,111.5ZM50,126.8 58.7,126.8 59.9,129.6 61.1,132.3 53,132.3 51.4,129.6ZM138.4,126.8 146.5,126.8 144.9,129.6 143.2,132.3 135.7,132.3 137.1,129.6ZM70.4,132.3 75.3,132.3 76.1,134.9 77,137.5 72.4,137.5 71.4,134.9ZM85.7,132.3 91,132.3 91.2,134.9 91.4,137.5 86.5,137.5 86.1,134.9ZM135.7,132.3 139.6,132.3 138,134.9 136.3,137.5 132.7,137.5 134.2,134.9ZM62.5,153.4 76.9,153.4 78.7,154.8 80.6,156.1 68.9,156.1 65.7,154.8ZM82,153.4 130.1,153.4 126.9,154.8 123.7,156.1 84.7,156.1 83.4,154.8ZM68.9,156.1 123.7,156.1 120.4,157.2 117,158.2 75.6,158.2 72.2,157.2ZM75.6,158.2 117,158.2 113.6,159 110.2,159.7 82.4,159.7 79,159ZM82.4,159.7 110.2,159.7 106.7,160.2 103.3,160.6 89.3,160.6 85.9,160.2ZM89.3,160.6 103.3,160.6 99.8,160.8 96.3,160.9 96.3,160.9 92.8,160.8Z" fill="#f7fbff" stroke="#f7fbff" stroke-width="0.6" shape-rendering="crispEdges"/><path d="M98.7,2.1 103.2,2.1 105,2.8 106.7,3.6 99.9,3.6 99.3,2.8ZM98.1,3.6 99.9,3.6 100.5,4.6 101.1,5.7 98.7,5.7 98.4,4.6ZM114.2,3.6 115.8,3.6 118.9,4.6 122,5.7 120,5.7 117.1,4.6ZM80.6,5.7 84.7,5.7 83.4,7 82,8.4 76.9,8.4 78.7,7ZM91.5,5.7 93.9,5.7 93.6,7 93.4,8.4 90.4,8.4 91,7ZM121.1,5.7 122.7,5.7 125.9,7 129,8.4 126.9,8.4 124,7ZM74.6,8.4 82,8.4 80.7,9.9 79.4,11.6 70.6,11.6 72.6,9.9ZM129.6,8.4 130.1,8.4 133.2,9.9 136.3,11.6 135.7,11.6 132.7,9.9ZM63.5,11.6 76.3,11.6 74.8,13.4 73.4,15.4 58.7,15.4 61.1,13.4ZM134.9,11.6 136.1,11.6 139.1,13.4 142,15.4 140.6,15.4 137.8,13.4ZM50.4,15.4 66.8,15.4 65,17.4 63.2,19.6 44.9,19.6 47.6,17.4ZM140.6,15.4 142,15.4 144.8,17.4 147.5,19.6 146,19.6 143.3,17.4ZM44.9,19.6 63.2,19.6 61.6,21.9 59.9,24.3 39.7,24.3 42.3,21.9ZM138.4,19.6 142.9,19.6 145.3,21.9 147.6,24.3 142.6,24.3 140.6,21.9ZM146.9,19.6 147.7,19.6 150.3,21.9 152.9,24.3 152,24.3 149.5,21.9ZM39.7,24.3 56.3,24.3 54.6,26.9 53,29.5 35,29.5 37.3,26.9ZM145.3,24.3 149.5,24.3 151.7,26.9 153.9,29.5 149.4,29.5 147.4,26.9ZM150.9,24.3 152,24.3 154.4,26.9 156.7,29.5 155.5,29.5 153.3,26.9ZM152.7,24.3 152.9,24.3 155.3,26.9 157.6,29.5 157.4,29.5 155.1,26.9ZM35,29.5 49.4,29.5 47.7,32.2 46.1,35 30.8,35 32.8,32.2ZM153.9,29.5 156.7,29.5 158.8,32.2 160.8,35 157.9,35 155.9,32.2ZM157.4,29.5 157.6,29.5 159.8,32.2 161.8,35 161.6,35 159.5,32.2ZM30.8,35 46.1,35 44.6,37.9 43.2,40.9 27,40.9 28.8,37.9ZM142.6,35 146.5,35 148,37.9 149.4,40.9 145.3,40.9 144,37.9ZM159.6,35 160.8,35 162.7,37.9 164.5,40.9 163.2,40.9 161.5,37.9ZM114.2,40.9 156.3,40.9 157.8,44 159.1,47.1 115.1,47.1 114.7,44ZM115.1,47.1 162,47.1 163.3,50.3 164.4,53.5 115.8,53.5 115.4,50.3ZM21.1,53.5 21.4,53.5 20.3,56.8 19.3,60.2 19,60.2 20,56.8ZM76.8,53.5 89.7,53.5 89.7,56.8 89.6,60.2 76.3,60.2 76.6,56.8ZM96.3,53.5 102.9,53.5 102.9,56.8 103,60.2 96.3,60.2 96.3,56.8ZM115.8,53.5 164.4,53.5 165.4,56.8 166.3,60.2 116.3,60.2 116,56.8ZM19,60.2 19.3,60.2 18.5,63.6 17.8,67 17.5,67 18.2,63.6ZM46.6,60.2 52,60.2 51.5,63.6 51.1,67 45.7,67 46.1,63.6ZM122.7,60.2 168.9,60.2 169.7,63.6 170.3,67 123.2,67 123,63.6ZM17.5,67 18.7,67 18.2,70.5 17.8,73.9 16.6,73.9 17,70.5ZM40.6,67 63,67 62.8,70.5 62.6,73.9 39.9,73.9 40.2,70.5ZM89.4,67 96.3,67 96.3,70.5 96.3,73.9 89.4,73.9 89.4,70.5ZM123.2,67 172.4,67 172.9,70.5 173.3,73.9 123.6,73.9 123.4,70.5ZM19.3,73.9 21.4,73.9 21.2,77.4 21.1,80.9 19,80.9 19.1,77.4ZM27.3,73.9 31,73.9 30.8,77.4 30.8,80.9 27,80.9 27.1,77.4ZM89.4,73.9 96.3,73.9 96.3,77.4 96.3,80.9 89.3,80.9 89.3,77.4ZM103.2,73.9 110.1,73.9 110.2,77.4 110.2,80.9 103.3,80.9 103.3,77.4ZM147.5,73.9 173.3,73.9 173.5,77.4 173.6,80.9 147.7,80.9 147.7,77.4ZM175.7,73.9 176,73.9 176.2,77.4 176.3,80.9 176,80.9 175.9,77.4ZM19,80.9 27,80.9 27.1,84.4 27.3,87.9 19.3,87.9 19.1,84.4ZM96.3,80.9 103.3,80.9 103.3,84.4 103.2,87.9 96.3,87.9 96.3,84.4ZM147.7,80.9 173.6,80.9 173.5,84.4 173.3,87.9 147.5,87.9 147.7,84.4ZM176,80.9 176.3,80.9 176.2,84.4 176,87.9 175.7,87.9 175.9,84.4ZM17.8,87.9 21.4,87.9 21.8,91.3 22.3,94.8 18.7,94.8 18.2,91.3ZM116.9,87.9 123.6,87.9 123.4,91.3 123.2,94.8 116.7,94.8 116.8,91.3ZM152.7,87.9 173.3,87.9 172.9,91.3 172.4,94.8 152,94.8 152.4,91.3ZM96.3,94.8 123.2,94.8 123,98.2 122.7,101.6 96.3,101.6 96.3,98.2ZM129.6,94.8 172.4,94.8 171.7,98.2 170.9,101.6 129,101.6 129.3,98.2ZM174.8,94.8 175.1,94.8 174.4,98.2 173.6,101.6 173.3,101.6 174.1,98.2ZM19.3,101.6 23.7,101.6 24.6,105 25.7,108.3 21.4,108.3 20.3,105ZM33,101.6 37.1,101.6 37.9,105 38.7,108.3 34.7,108.3 33.8,105ZM46.6,101.6 82.9,101.6 83.1,105 83.2,108.3 48,108.3 47.3,105ZM96.3,101.6 129,101.6 128.5,105 128.1,108.3 96.3,108.3 96.3,105ZM134.9,101.6 166.3,101.6 165.4,105 164.4,108.3 133.9,108.3 134.4,105ZM170.9,101.6 173.6,101.6 172.6,105 171.5,108.3 168.9,108.3 170,105ZM21.1,108.3 21.4,108.3 22.7,111.5 24.1,114.7 23.8,114.7 22.4,111.5ZM34.7,108.3 38.7,108.3 39.7,111.5 40.8,114.7 36.9,114.7 35.8,111.5ZM48,108.3 76.8,108.3 77.2,111.5 77.5,114.7 49.7,114.7 48.8,111.5ZM133.9,108.3 139.4,108.3 138.7,111.5 137.9,114.7 132.6,114.7 133.3,111.5ZM144.6,108.3 164.4,108.3 163.3,111.5 162,114.7 142.9,114.7 143.8,111.5ZM168.9,108.3 171.5,108.3 170.2,111.5 168.8,114.7 166.3,114.7 167.7,111.5ZM40.8,114.7 71.5,114.7 72,117.8 72.6,120.9 43.2,120.9 41.9,117.8ZM137.9,114.7 142.9,114.7 141.9,117.8 140.8,120.9 136,120.9 137,117.8ZM147.6,114.7 159.1,114.7 157.8,117.8 156.3,120.9 145.3,120.9 146.5,117.8ZM166.3,114.7 168.8,114.7 167.3,117.8 165.6,120.9 163.2,120.9 164.8,117.8ZM27,120.9 27.3,120.9 29.1,123.9 31,126.8 30.8,126.8 28.8,123.9ZM39.5,120.9 67,120.9 67.8,123.9 68.6,126.8 42.6,126.8 41,123.9ZM145.3,120.9 156.3,120.9 154.7,123.9 153.1,126.8 142.6,126.8 144,123.9ZM161.4,120.9 165.6,120.9 163.8,123.9 161.8,126.8 157.9,126.8 159.7,123.9ZM30.8,126.8 31.8,126.8 33.8,129.6 35.9,132.3 35,132.3 32.8,129.6ZM42.6,126.8 50,126.8 51.4,129.6 53,132.3 46.1,132.3 44.3,129.6ZM58.7,126.8 113.3,126.8 112.7,129.6 112.2,132.3 61.1,132.3 59.9,129.6ZM129.1,126.8 138.4,126.8 137.1,129.6 135.7,132.3 126.9,132.3 128,129.6ZM146.5,126.8 153.1,126.8 151.3,129.6 149.4,132.3 143.2,132.3 144.9,129.6ZM157.9,126.8 161.8,126.8 159.8,129.6 157.6,132.3 153.9,132.3 155.9,129.6ZM35,132.3 43.2,132.3 45.2,134.9 47.3,137.5 39.7,137.5 37.3,134.9ZM46.1,132.3 70.4,132.3 71.4,134.9 72.4,137.5 50,137.5 48,134.9ZM75.3,132.3 85.7,132.3 86.1,134.9 86.5,137.5 77,137.5 76.1,134.9ZM91,132.3 135.7,132.3 134.2,134.9 132.7,137.5 91.4,137.5 91.2,134.9ZM139.6,132.3 157.6,132.3 155.3,134.9 152.9,137.5 136.3,137.5 138,134.9ZM39.7,137.5 68,137.5 69.3,139.9 70.6,142.2 44.9,142.2 42.3,139.9ZM139.6,137.5 152.9,137.5 150.3,139.9 147.7,142.2 135.7,142.2 137.7,139.9ZM44.9,142.2 70.6,142.2 71.9,144.4 73.4,146.4 50.4,146.4 47.6,144.4ZM125.8,142.2 147.7,142.2 145,144.4 142.2,146.4 122.6,146.4 124.2,144.4ZM50.4,146.4 76.9,146.4 78.1,148.4 79.4,150.2 56.3,150.2 53.3,148.4ZM88.3,146.4 108.2,146.4 107.4,148.4 106.7,150.2 89.4,150.2 88.8,148.4ZM115.7,146.4 142.2,146.4 139.3,148.4 136.3,150.2 113.2,150.2 114.5,148.4ZM56.3,150.2 73.4,150.2 75.1,151.9 76.9,153.4 62.5,153.4 59.4,151.9ZM79.4,150.2 136.3,150.2 133.2,151.9 130.1,153.4 82,153.4 80.7,151.9ZM76.9,153.4 82,153.4 83.4,154.8 84.7,156.1 80.6,156.1 78.7,154.8Z" fill="#deebf7" stroke="#deebf7" stroke-width="0.6" shape-rendering="crispEdges"/><path d="M99.9,3.6 101.7,3.6 102.5,4.6 103.4,5.7 101.1,5.7 100.5,4.6ZM112.2,3.6 114.2,3.6 117.1,4.6 120,5.7 117.3,5.7 114.7,4.6ZM93.9,5.7 96.3,5.7 96.3,7 96.3,8.4 93.4,8.4 93.6,7ZM117.3,5.7 121.1,5.7 124,7 126.9,8.4 122.2,8.4 119.8,7ZM82,8.4 87.5,8.4 86.7,9.9 85.9,11.6 79.4,11.6 80.7,9.9ZM128.1,8.4 129.6,8.4 132.7,9.9 135.7,11.6 133.9,11.6 131,9.9ZM76.3,11.6 79.4,11.6 78.1,13.4 76.9,15.4 73.4,15.4 74.8,13.4ZM132.6,11.6 134.9,11.6 137.8,13.4 140.6,15.4 137.9,15.4 135.3,13.4ZM66.8,15.4 70,15.4 68.4,17.4 66.8,19.6 63.2,19.6 65,17.4ZM137.9,15.4 140.6,15.4 143.3,17.4 146,19.6 142.9,19.6 140.4,17.4ZM144.6,19.6 146.9,19.6 149.5,21.9 152,24.3 149.5,24.3 147.1,21.9ZM142.6,24.3 145.3,24.3 147.4,26.9 149.4,29.5 146.5,29.5 144.6,26.9ZM149.5,24.3 150.9,24.3 153.3,26.9 155.5,29.5 153.9,29.5 151.7,26.9ZM152,24.3 152.7,24.3 155.1,26.9 157.4,29.5 156.7,29.5 154.4,26.9ZM151.8,29.5 153.9,29.5 155.9,32.2 157.9,35 155.7,35 153.8,32.2ZM156.7,29.5 157.4,29.5 159.5,32.2 161.6,35 160.8,35 158.8,32.2ZM124,35 142.6,35 144,37.9 145.3,40.9 125.6,40.9 124.8,37.9ZM146.5,35 150,35 151.6,37.9 153.1,40.9 149.4,40.9 148,37.9ZM155.7,35 159.6,35 161.5,37.9 163.2,40.9 159.1,40.9 157.4,37.9ZM161.6,35 161.8,35 163.8,37.9 165.6,40.9 165.3,40.9 163.5,37.9ZM27,40.9 27.3,40.9 25.6,44 24.1,47.1 23.8,47.1 25.3,44ZM161.4,40.9 163.2,40.9 164.8,44 166.3,47.1 164.4,47.1 163,44ZM23.8,47.1 24.9,47.1 23.5,50.3 22.3,53.5 21.1,53.5 22.4,50.3ZM96.3,47.1 102.6,47.1 102.7,50.3 102.9,53.5 96.3,53.5 96.3,50.3ZM166.3,47.1 168.5,47.1 169.9,50.3 171.2,53.5 168.9,53.5 167.7,50.3ZM21.4,53.5 23.7,53.5 22.6,56.8 21.7,60.2 19.3,60.2 20.3,56.8ZM25.7,53.5 31.2,53.5 30.2,56.8 29.4,60.2 23.7,60.2 24.6,56.8ZM70.6,53.5 76.8,53.5 76.6,56.8 76.3,60.2 69.9,60.2 70.2,56.8ZM89.7,53.5 96.3,53.5 96.3,56.8 96.3,60.2 89.6,60.2 89.7,56.8ZM102.9,53.5 109.4,53.5 109.5,56.8 109.7,60.2 103,60.2 102.9,56.8ZM168.9,53.5 171.5,53.5 172.6,56.8 173.6,60.2 170.9,60.2 170,56.8ZM19.3,60.2 29.4,60.2 28.7,63.6 28.1,67 17.8,67 18.5,63.6ZM82.9,60.2 89.6,60.2 89.5,63.6 89.4,67 82.6,67 82.7,63.6ZM96.3,60.2 109.7,60.2 109.9,63.6 110,67 96.3,67 96.3,63.6ZM173.3,60.2 173.6,60.2 174.4,63.6 175.1,67 174.8,67 174.1,63.6ZM18.7,67 20.2,67 19.7,70.5 19.3,73.9 17.8,73.9 18.2,70.5ZM24.9,67 28.1,67 27.6,70.5 27.3,73.9 24.1,73.9 24.4,70.5ZM82.6,67 89.4,67 89.4,70.5 89.4,73.9 82.5,73.9 82.5,70.5ZM103.2,67 110,67 110.1,70.5 110.1,73.9 103.2,73.9 103.2,70.5ZM172.4,67 173.9,67 174.4,70.5 174.8,73.9 173.3,73.9 172.9,70.5ZM174.8,67 175.1,67 175.6,70.5 176,73.9 175.7,73.9 175.3,70.5ZM21.4,73.9 27.3,73.9 27.1,77.4 27,80.9 21.1,80.9 21.2,77.4ZM82.5,73.9 89.4,73.9 89.3,77.4 89.3,80.9 82.4,80.9 82.4,77.4ZM130,73.9 136.1,73.9 136.3,77.4 136.3,80.9 130.1,80.9 130.1,77.4ZM142,73.9 147.5,73.9 147.7,77.4 147.7,80.9 142.2,80.9 142.1,77.4ZM173.3,73.9 175.7,73.9 175.9,77.4 176,80.9 173.6,80.9 173.5,77.4ZM82.4,80.9 89.3,80.9 89.3,84.4 89.4,87.9 82.5,87.9 82.4,84.4ZM123.7,80.9 130.1,80.9 130.1,84.4 130,87.9 123.6,87.9 123.6,84.4ZM173.6,80.9 176,80.9 175.9,84.4 175.7,87.9 173.3,87.9 173.5,84.4ZM130,87.9 136.1,87.9 136,91.3 135.7,94.8 129.6,94.8 129.8,91.3ZM173.3,87.9 174.8,87.9 174.4,91.3 173.9,94.8 172.4,94.8 172.9,91.3ZM175.7,87.9 176,87.9 175.6,91.3 175.1,94.8 174.8,94.8 175.3,91.3ZM82.6,94.8 96.3,94.8 96.3,98.2 96.3,101.6 82.9,101.6 82.7,98.2ZM172.4,94.8 174.8,94.8 174.1,98.2 173.3,101.6 170.9,101.6 171.7,98.2ZM23.7,101.6 29.4,101.6 30.2,105 31.2,108.3 25.7,108.3 24.6,105ZM89.6,101.6 96.3,101.6 96.3,105 96.3,108.3 89.7,108.3 89.7,105ZM166.3,101.6 170.9,101.6 170,105 168.9,108.3 164.4,108.3 165.4,105ZM21.4,108.3 22.3,108.3 23.5,111.5 24.9,114.7 24.1,114.7 22.7,111.5ZM89.7,108.3 109.4,108.3 109.1,111.5 108.9,114.7 90,114.7 89.9,111.5ZM128.1,108.3 133.9,108.3 133.3,111.5 132.6,114.7 126.9,114.7 127.5,111.5ZM139.4,108.3 144.6,108.3 143.8,111.5 142.9,114.7 137.9,114.7 138.7,111.5ZM164.4,108.3 168.9,108.3 167.7,111.5 166.3,114.7 162,114.7 163.3,111.5ZM23.8,114.7 24.1,114.7 25.6,117.8 27.3,120.9 27,120.9 25.3,117.8ZM33.5,114.7 40.8,114.7 41.9,117.8 43.2,120.9 36.3,120.9 34.8,117.8ZM71.5,114.7 77.5,114.7 77.9,117.8 78.4,120.9 72.6,120.9 72,117.8ZM132.6,114.7 137.9,114.7 137,117.8 136,120.9 130.9,120.9 131.8,117.8ZM142.9,114.7 147.6,114.7 146.5,117.8 145.3,120.9 140.8,120.9 141.9,117.8ZM159.1,114.7 166.3,114.7 164.8,117.8 163.2,120.9 156.3,120.9 157.8,117.8ZM27.3,120.9 28.1,120.9 29.9,123.9 31.8,126.8 31,126.8 29.1,123.9ZM36.3,120.9 39.5,120.9 41,123.9 42.6,126.8 39.5,126.8 37.9,123.9ZM136,120.9 145.3,120.9 144,123.9 142.6,126.8 133.9,126.8 135,123.9ZM156.3,120.9 161.4,120.9 159.7,123.9 157.9,126.8 153.1,126.8 154.7,123.9ZM31.8,126.8 34.7,126.8 36.7,129.6 38.7,132.3 35.9,132.3 33.8,129.6ZM39.5,126.8 42.6,126.8 44.3,129.6 46.1,132.3 43.2,132.3 41.3,129.6ZM113.3,126.8 129.1,126.8 128,129.6 126.9,132.3 112.2,132.3 112.7,129.6ZM153.1,126.8 157.9,126.8 155.9,129.6 153.9,132.3 149.4,132.3 151.3,129.6ZM43.2,132.3 46.1,132.3 48,134.9 50,137.5 47.3,137.5 45.2,134.9ZM68,137.5 72.4,137.5 73.5,139.9 74.6,142.2 70.6,142.2 69.3,139.9ZM136.3,137.5 139.6,137.5 137.7,139.9 135.7,142.2 132.7,142.2 134.5,139.9ZM91.8,142.2 96.3,142.2 96.3,144.4 96.3,146.4 92.3,146.4 92.1,144.4ZM122,142.2 125.8,142.2 124.2,144.4 122.6,146.4 119.2,146.4 120.7,144.4ZM76.9,146.4 80.6,146.4 81.6,148.4 82.6,150.2 79.4,150.2 78.1,148.4ZM84.4,146.4 88.3,146.4 88.8,148.4 89.4,150.2 85.9,150.2 85.2,148.4ZM108.2,146.4 115.7,146.4 114.5,148.4 113.2,150.2 106.7,150.2 107.4,148.4ZM73.4,150.2 76.3,150.2 77.8,151.9 79.4,153.4 76.9,153.4 75.1,151.9Z" fill="#c6dbef" stroke="#c6dbef" stroke-width="0.6" shape-rendering="crispEdges"/><path d="M101.7,3.6 105.1,3.6 106.5,4.6 107.9,5.7 103.4,5.7 102.5,4.6ZM110.9,3.6 112.2,3.6 114.7,4.6 117.3,5.7 115.6,5.7 113.3,4.6ZM96.3,5.7 101.1,5.7 101.6,7 102.2,8.4 96.3,8.4 96.3,7ZM113.9,5.7 117.3,5.7 119.8,7 122.2,8.4 118,8.4 116,7ZM87.5,8.4 93.4,8.4 93.1,9.9 92.8,11.6 85.9,11.6 86.7,9.9ZM125.6,8.4 128.1,8.4 131,9.9 133.9,11.6 130.9,11.6 128.3,9.9ZM79.4,11.6 85.9,11.6 85.2,13.4 84.4,15.4 76.9,15.4 78.1,13.4ZM92.8,11.6 103.2,11.6 103.8,13.4 104.3,15.4 92.3,15.4 92.6,13.4ZM129.1,11.6 132.6,11.6 135.3,13.4 137.9,15.4 133.9,15.4 131.5,13.4ZM70,15.4 76.9,15.4 75.7,17.4 74.6,19.6 66.8,19.6 68.4,17.4ZM92.3,15.4 104.3,15.4 104.8,17.4 105.2,19.6 91.8,19.6 92.1,17.4ZM133.9,15.4 137.9,15.4 140.4,17.4 142.9,19.6 138.4,19.6 136.2,17.4ZM63.2,19.6 66.8,19.6 65.3,21.9 63.9,24.3 59.9,24.3 61.6,21.9ZM91.8,19.6 100.8,19.6 101,21.9 101.2,24.3 91.4,24.3 91.6,21.9ZM139.6,24.3 142.6,24.3 144.6,26.9 146.5,29.5 143.2,29.5 141.5,26.9ZM146.5,29.5 151.8,29.5 153.8,32.2 155.7,35 150,35 148.3,32.2ZM96.3,35 107.7,35 108,37.9 108.3,40.9 96.3,40.9 96.3,37.9ZM150,35 153.1,35 154.7,37.9 156.3,40.9 153.1,40.9 151.6,37.9ZM160.8,35 161.6,35 163.5,37.9 165.3,40.9 164.5,40.9 162.7,37.9ZM27.3,40.9 33.5,40.9 32,44 30.6,47.1 24.1,47.1 25.6,44ZM102.3,40.9 108.3,40.9 108.6,44 108.9,47.1 102.6,47.1 102.5,44ZM156.3,40.9 161.4,40.9 163,44 164.4,47.1 159.1,47.1 157.8,44ZM165.3,40.9 165.6,40.9 167.3,44 168.8,47.1 168.5,47.1 167,44ZM24.9,47.1 33.5,47.1 32.3,50.3 31.2,53.5 22.3,53.5 23.5,50.3ZM83.7,47.1 96.3,47.1 96.3,50.3 96.3,53.5 83.2,53.5 83.5,50.3ZM102.6,47.1 108.9,47.1 109.1,50.3 109.4,53.5 102.9,53.5 102.7,50.3ZM162,47.1 166.3,47.1 167.7,50.3 168.9,53.5 164.4,53.5 163.3,50.3ZM168.5,47.1 168.8,47.1 170.2,50.3 171.5,53.5 171.2,53.5 169.9,50.3ZM23.7,53.5 25.7,53.5 24.6,56.8 23.7,60.2 21.7,60.2 22.6,56.8ZM31.2,53.5 34.7,53.5 33.8,56.8 33,60.2 29.4,60.2 30.2,56.8ZM64.5,53.5 70.6,53.5 70.2,56.8 69.9,60.2 63.6,60.2 64.1,56.8ZM164.4,53.5 168.9,53.5 170,56.8 170.9,60.2 166.3,60.2 165.4,56.8ZM52,60.2 76.3,60.2 76.1,63.6 75.9,67 51.1,67 51.5,63.6ZM89.6,60.2 96.3,60.2 96.3,63.6 96.3,67 89.4,67 89.5,63.6ZM172.4,60.2 173.3,60.2 174.1,63.6 174.8,67 173.9,67 173.2,63.6ZM20.2,67 22.3,67 21.8,70.5 21.4,73.9 19.3,73.9 19.7,70.5ZM28.1,67 40.6,67 40.2,70.5 39.9,73.9 27.3,73.9 27.6,70.5ZM96.3,67 103.2,67 103.2,70.5 103.2,73.9 96.3,73.9 96.3,70.5ZM110,67 116.7,67 116.8,70.5 116.9,73.9 110.1,73.9 110.1,70.5ZM173.9,67 174.8,67 175.3,70.5 175.7,73.9 174.8,73.9 174.4,70.5ZM96.3,73.9 103.2,73.9 103.3,77.4 103.3,80.9 96.3,80.9 96.3,77.4ZM116.9,73.9 123.6,73.9 123.6,77.4 123.7,80.9 117,80.9 117,77.4ZM136.1,73.9 142,73.9 142.1,77.4 142.2,80.9 136.3,80.9 136.3,77.4ZM89.3,80.9 96.3,80.9 96.3,84.4 96.3,87.9 89.4,87.9 89.3,84.4ZM82.9,101.6 89.6,101.6 89.7,105 89.7,108.3 83.2,108.3 83.1,105ZM22.3,108.3 34.7,108.3 35.8,111.5 36.9,114.7 24.9,114.7 23.5,111.5ZM76.8,108.3 89.7,108.3 89.9,111.5 90,114.7 77.5,114.7 77.2,111.5ZM115.8,108.3 128.1,108.3 127.5,111.5 126.9,114.7 115.1,114.7 115.4,111.5ZM24.1,114.7 24.9,114.7 26.4,117.8 28.1,120.9 27.3,120.9 25.6,117.8ZM30.6,114.7 33.5,114.7 34.8,117.8 36.3,120.9 33.5,120.9 32,117.8ZM77.5,114.7 108.9,114.7 108.6,117.8 108.3,120.9 78.4,120.9 77.9,117.8ZM28.1,120.9 29.4,120.9 31.1,123.9 33,126.8 31.8,126.8 29.9,123.9ZM67,120.9 136,120.9 135,123.9 133.9,126.8 68.6,126.8 67.8,123.9ZM34.7,126.8 39.5,126.8 41.3,129.6 43.2,132.3 38.7,132.3 36.7,129.6ZM132.7,137.5 136.3,137.5 134.5,139.9 132.7,142.2 129.4,142.2 131,139.9ZM70.6,142.2 74.6,142.2 75.7,144.4 76.9,146.4 73.4,146.4 71.9,144.4ZM83,142.2 91.8,142.2 92.1,144.4 92.3,146.4 84.4,146.4 83.7,144.4ZM113.9,142.2 122,142.2 120.7,144.4 119.2,146.4 112,146.4 113,144.4ZM76.3,150.2 79.4,150.2 80.7,151.9 82,153.4 79.4,153.4 77.8,151.9Z" fill="#9dcae1" stroke="#9dcae1" stroke-width="0.6" shape-rendering="crispEdges"/><path d="M105.1,3.6 106.7,3.6 108.3,4.6 110,5.7 107.9,5.7 106.5,4.6ZM109.6,3.6 110.9,3.6 113.3,4.6 115.6,5.7 113.9,5.7 111.8,4.6ZM101.1,5.7 103.4,5.7 104.2,7 105.1,8.4 102.2,8.4 101.6,7ZM112,5.7 113.9,5.7 116,7 118,8.4 115.7,8.4 113.9,7ZM93.4,8.4 102.2,8.4 102.7,9.9 103.2,11.6 92.8,11.6 93.1,9.9ZM122.2,8.4 125.6,8.4 128.3,9.9 130.9,11.6 126.9,11.6 124.6,9.9ZM85.9,11.6 92.8,11.6 92.6,13.4 92.3,15.4 84.4,15.4 85.2,13.4ZM126.9,11.6 129.1,11.6 131.5,13.4 133.9,15.4 131.5,15.4 129.2,13.4ZM76.9,15.4 88.3,15.4 87.8,17.4 87.4,19.6 74.6,19.6 75.7,17.4ZM66.8,19.6 70.6,19.6 69.3,21.9 68,24.3 63.9,24.3 65.3,21.9ZM74.6,19.6 78.7,19.6 77.8,21.9 77,24.3 72.4,24.3 73.5,21.9ZM83,19.6 91.8,19.6 91.6,21.9 91.4,24.3 81.7,24.3 82.3,21.9ZM86.5,24.3 106.1,24.3 106.5,26.9 106.9,29.5 85.7,29.5 86.1,26.9ZM132.7,24.3 139.6,24.3 141.5,26.9 143.2,29.5 135.7,29.5 134.2,26.9ZM61.1,29.5 70.4,29.5 69.5,32.2 68.6,35 58.7,35 59.9,32.2ZM96.3,29.5 106.9,29.5 107.3,32.2 107.7,35 96.3,35 96.3,32.2ZM139.6,29.5 146.5,29.5 148.3,32.2 150,35 142.6,35 141.2,32.2ZM107.7,35 113.3,35 113.8,37.9 114.2,40.9 108.3,40.9 108,37.9ZM153.1,35 155.7,35 157.4,37.9 159.1,40.9 156.3,40.9 154.7,37.9ZM90.3,40.9 102.3,40.9 102.5,44 102.6,47.1 90,47.1 90.1,44ZM163.2,40.9 165.3,40.9 167,44 168.5,47.1 166.3,47.1 164.8,44ZM33.5,47.1 36.9,47.1 35.8,50.3 34.7,53.5 31.2,53.5 32.3,50.3ZM40.8,47.1 45,47.1 44,50.3 43.1,53.5 38.7,53.5 39.7,50.3ZM65.7,47.1 83.7,47.1 83.5,50.3 83.2,53.5 64.5,53.5 65.1,50.3ZM43.1,53.5 48,53.5 47.3,56.8 46.6,60.2 41.7,60.2 42.3,56.8ZM58.7,53.5 64.5,53.5 64.1,56.8 63.6,60.2 57.7,60.2 58.2,56.8ZM29.4,60.2 46.6,60.2 46.1,63.6 45.7,67 28.1,67 28.7,63.6ZM109.7,60.2 116.3,60.2 116.5,63.6 116.7,67 110,67 109.9,63.6ZM168.9,60.2 172.4,60.2 173.2,63.6 173.9,67 170.3,67 169.7,63.6ZM22.3,67 24.9,67 24.4,70.5 24.1,73.9 21.4,73.9 21.8,70.5ZM116.7,67 123.2,67 123.4,70.5 123.6,73.9 116.9,73.9 116.8,70.5ZM16.6,73.9 19.3,73.9 19.1,77.4 19,80.9 16.3,80.9 16.4,77.4ZM123.6,73.9 130,73.9 130.1,77.4 130.1,80.9 123.7,80.9 123.6,77.4ZM16.3,80.9 19,80.9 19.1,84.4 19.3,87.9 16.6,87.9 16.4,84.4ZM123.6,87.9 130,87.9 129.8,91.3 129.6,94.8 123.2,94.8 123.4,91.3ZM174.8,87.9 175.7,87.9 175.3,91.3 174.8,94.8 173.9,94.8 174.4,91.3ZM109.4,108.3 115.8,108.3 115.4,111.5 115.1,114.7 108.9,114.7 109.1,111.5ZM24.9,114.7 26.3,114.7 27.8,117.8 29.4,120.9 28.1,120.9 26.4,117.8ZM108.9,114.7 115.1,114.7 114.7,117.8 114.2,120.9 108.3,120.9 108.6,117.8ZM121.1,114.7 132.6,114.7 131.8,117.8 130.9,120.9 120,120.9 120.6,117.8ZM29.4,120.9 31.2,120.9 32.9,123.9 34.7,126.8 33,126.8 31.1,123.9ZM33.5,120.9 36.3,120.9 37.9,123.9 39.5,126.8 36.9,126.8 35.2,123.9ZM72.4,137.5 77,137.5 77.8,139.9 78.7,142.2 74.6,142.2 73.5,139.9ZM86.5,137.5 96.3,137.5 96.3,139.9 96.3,142.2 87.4,142.2 86.9,139.9ZM120.2,137.5 132.7,137.5 131,139.9 129.4,142.2 118,142.2 119.1,139.9ZM78.7,142.2 83,142.2 83.7,144.4 84.4,146.4 80.6,146.4 79.6,144.4ZM96.3,142.2 113.9,142.2 113,144.4 112,146.4 96.3,146.4 96.3,144.4Z" fill="#6aaed6" stroke="#6aaed6" stroke-width="0.6" shape-rendering="crispEdges"/><path d="M106.7,3.6 109.6,3.6 111.8,4.6 113.9,5.7 110,5.7 108.3,4.6ZM103.4,5.7 107.9,5.7 109.2,7 110.6,8.4 105.1,8.4 104.2,7ZM110,5.7 112,5.7 113.9,7 115.7,8.4 113.2,8.4 111.6,7ZM102.2,8.4 107.9,8.4 108.9,9.9 110,11.6 103.2,11.6 102.7,9.9ZM118,8.4 122.2,8.4 124.6,9.9 126.9,11.6 122,11.6 120,9.9ZM103.2,11.6 110,11.6 111,13.4 112,15.4 104.3,15.4 103.8,13.4ZM122,11.6 126.9,11.6 129.2,13.4 131.5,15.4 125.8,15.4 123.9,13.4ZM88.3,15.4 92.3,15.4 92.1,17.4 91.8,19.6 87.4,19.6 87.8,17.4ZM104.3,15.4 112,15.4 113,17.4 113.9,19.6 105.2,19.6 104.8,17.4ZM125.8,15.4 133.9,15.4 136.2,17.4 138.4,19.6 129.4,19.6 127.6,17.4ZM70.6,19.6 74.6,19.6 73.5,21.9 72.4,24.3 68,24.3 69.3,21.9ZM100.8,19.6 109.6,19.6 110.3,21.9 110.9,24.3 101.2,24.3 101,21.9ZM122,19.6 138.4,19.6 140.6,21.9 142.6,24.3 124.6,24.3 123.3,21.9ZM68,24.3 86.5,24.3 86.1,26.9 85.7,29.5 65.7,29.5 66.8,26.9ZM106.1,24.3 115.6,24.3 116.5,26.9 117.3,29.5 106.9,29.5 106.5,26.9ZM124.6,24.3 132.7,24.3 134.2,26.9 135.7,29.5 126.9,29.5 125.8,26.9ZM70.4,29.5 96.3,29.5 96.3,32.2 96.3,35 68.6,35 69.5,32.2ZM106.9,29.5 117.3,29.5 118,32.2 118.7,35 107.7,35 107.3,32.2ZM126.9,29.5 139.6,29.5 141.2,32.2 142.6,35 129.1,35 128,32.2ZM58.7,35 96.3,35 96.3,37.9 96.3,40.9 56.6,40.9 57.6,37.9ZM113.3,35 118.7,35 119.4,37.9 120,40.9 114.2,40.9 113.8,37.9ZM56.6,40.9 72.6,40.9 72,44 71.5,47.1 54.7,47.1 55.6,44ZM78.4,40.9 90.3,40.9 90.1,44 90,47.1 77.5,47.1 77.9,44ZM108.3,40.9 114.2,40.9 114.7,44 115.1,47.1 108.9,47.1 108.6,44ZM36.9,47.1 40.8,47.1 39.7,50.3 38.7,53.5 34.7,53.5 35.8,50.3ZM60,47.1 65.7,47.1 65.1,50.3 64.5,53.5 58.7,53.5 59.3,50.3ZM108.9,47.1 115.1,47.1 115.4,50.3 115.8,53.5 109.4,53.5 109.1,50.3ZM38.7,53.5 43.1,53.5 42.3,56.8 41.7,60.2 37.1,60.2 37.9,56.8ZM109.4,53.5 115.8,53.5 116,56.8 116.3,60.2 109.7,60.2 109.5,56.8ZM116.3,60.2 122.7,60.2 123,63.6 123.2,67 116.7,67 116.5,63.6ZM21.4,87.9 24.1,87.9 24.4,91.3 24.9,94.8 22.3,94.8 21.8,91.3ZM89.4,87.9 96.3,87.9 96.3,91.3 96.3,94.8 89.4,94.8 89.4,91.3ZM29.4,101.6 33,101.6 33.8,105 34.7,108.3 31.2,108.3 30.2,105ZM26.3,114.7 30.6,114.7 32,117.8 33.5,120.9 29.4,120.9 27.8,117.8ZM31.2,120.9 33.5,120.9 35.2,123.9 36.9,126.8 34.7,126.8 32.9,123.9ZM77,137.5 86.5,137.5 86.9,139.9 87.4,142.2 78.7,142.2 77.8,139.9ZM96.3,137.5 120.2,137.5 119.1,139.9 118,142.2 96.3,142.2 96.3,139.9ZM74.6,142.2 78.7,142.2 79.6,144.4 80.6,146.4 76.9,146.4 75.7,144.4ZM80.6,146.4 84.4,146.4 85.2,148.4 85.9,150.2 82.6,150.2 81.6,148.4Z" fill="#4292c6" stroke="#4292c6" stroke-width="0.6" shape-rendering="crispEdges"/><path d="M107.9,5.7 110,5.7 111.6,7 113.2,8.4 110.6,8.4 109.2,7ZM107.9,8.4 118,8.4 120,9.9 122,11.6 110,11.6 108.9,9.9ZM110,11.6 113.2,11.6 114.5,13.4 115.7,15.4 112,15.4 111,13.4ZM112,15.4 115.7,15.4 116.9,17.4 118,19.6 113.9,19.6 113,17.4ZM78.7,19.6 83,19.6 82.3,21.9 81.7,24.3 77,24.3 77.8,21.9ZM109.6,19.6 113.9,19.6 114.8,21.9 115.6,24.3 110.9,24.3 110.3,21.9ZM63.9,24.3 68,24.3 66.8,26.9 65.7,29.5 61.1,29.5 62.5,26.9ZM115.6,24.3 124.6,24.3 125.8,26.9 126.9,29.5 117.3,29.5 116.5,26.9ZM56.9,29.5 61.1,29.5 59.9,32.2 58.7,35 54.2,35 55.5,32.2ZM117.3,29.5 126.9,29.5 128,32.2 129.1,35 118.7,35 118,32.2ZM54.2,35 58.7,35 57.6,37.9 56.6,40.9 51.8,40.9 52.9,37.9ZM47.3,40.9 56.6,40.9 55.6,44 54.7,47.1 45,47.1 46.1,44ZM72.6,40.9 78.4,40.9 77.9,44 77.5,47.1 71.5,47.1 72,44ZM45,47.1 60,47.1 59.3,50.3 58.7,53.5 43.1,53.5 44,50.3ZM34.7,53.5 38.7,53.5 37.9,56.8 37.1,60.2 33,60.2 33.8,56.8ZM48,53.5 58.7,53.5 58.2,56.8 57.7,60.2 46.6,60.2 47.3,56.8ZM115.1,114.7 121.1,114.7 120.6,117.8 120,120.9 114.2,120.9 114.7,117.8Z" fill="#2171b5" stroke="#2171b5" stroke-width="0.6" shape-rendering="crispEdges"/><path d="M113.2,11.6 122,11.6 123.9,13.4 125.8,15.4 115.7,15.4 114.5,13.4ZM115.7,15.4 119.2,15.4 120.7,17.4 122,19.6 118,19.6 116.9,17.4ZM122.6,15.4 125.8,15.4 127.6,17.4 129.4,19.6 125.8,19.6 124.2,17.4ZM118,19.6 122,19.6 123.3,21.9 124.6,24.3 120.2,24.3 119.1,21.9ZM59.9,24.3 63.9,24.3 62.5,26.9 61.1,29.5 56.9,29.5 58.4,26.9ZM53,29.5 56.9,29.5 55.5,32.2 54.2,35 50,35 51.4,32.2ZM50,35 54.2,35 52.9,37.9 51.8,40.9 47.3,40.9 48.6,37.9ZM43.2,40.9 47.3,40.9 46.1,44 45,47.1 40.8,47.1 41.9,44Z" fill="#08519c" stroke="#08519c" stroke-width="0.6" shape-rendering="crispEdges"/><path d="M119.2,15.4 122.6,15.4 124.2,17.4 125.8,19.6 122,19.6 120.7,17.4ZM113.9,19.6 118,19.6 119.1,21.9 120.2,24.3 115.6,24.3 114.8,21.9ZM56.3,24.3 59.9,24.3 58.4,26.9 56.9,29.5 53,29.5 54.6,26.9ZM49.4,29.5 53,29.5 51.4,32.2 50,35 46.1,35 47.7,32.2ZM46.1,35 50,35 48.6,37.9 47.3,40.9 43.2,40.9 44.6,37.9ZM33.5,40.9 43.2,40.9 41.9,44 40.8,47.1 30.6,47.1 32,44Z" fill="#08306b" stroke="#08306b" stroke-width="0.6" shape-rendering="crispEdges"/>
<polygon points="79.9,11.1 102.8,11.1 105.4,23.1 73.5,23.1" fill="none" stroke="#d95f02" stroke-width="3.2" stroke-linejoin="miter"/>
<use href="#land" x="96.3" y="80.9"/>
</g>
<circle cx="96.3" cy="80.9" r="80.0" fill="none" stroke="#b0b0b0" stroke-width="0.7"/>
<g clip-path="url(#clipc)">
<circle cx="96.3" cy="273.3" r="80.0" fill="#ffffff"/>
<path d="M96.3,193.3 96.3,193.3 99.8,193.4 103.3,193.6 89.3,193.6 92.8,193.4ZM89.3,193.6 103.3,193.6 106.7,194 110.2,194.5 82.4,194.5 85.9,194ZM82.4,194.5 110.2,194.5 113.6,195.2 117,196 75.6,196 79,195.2ZM75.6,196 98.1,196 98.4,197 98.7,198.1 68.9,198.1 72.2,197ZM115.8,196 117,196 120.4,197 123.7,198.1 122,198.1 118.9,197ZM68.9,198.1 91.5,198.1 91,199.4 90.4,200.8 62.5,200.8 65.7,199.4ZM122,198.1 123.7,198.1 126.9,199.4 130.1,200.8 128.1,200.8 125.1,199.4ZM62.5,200.8 82,200.8 80.7,202.3 79.4,204 56.3,204 59.4,202.3ZM129,200.8 130.1,200.8 133.2,202.3 136.3,204 134.9,204 132,202.3ZM56.3,204 76.3,204 74.8,205.8 73.4,207.8 50.4,207.8 53.3,205.8ZM134.9,204 136.3,204 139.3,205.8 142.2,207.8 140.6,207.8 137.8,205.8ZM50.4,207.8 73.4,207.8 71.9,209.8 70.6,212 44.9,212 47.6,209.8ZM140.6,207.8 142.2,207.8 145,209.8 147.7,212 146,212 143.3,209.8ZM44.9,212 63.2,212 61.6,214.3 59.9,216.7 39.7,216.7 42.3,214.3ZM109.4,300.7 115.8,300.7 115.4,303.9 115.1,307.1 108.9,307.1 109.1,303.9ZM96.3,324.7 126.9,324.7 125.8,327.3 124.6,329.9 96.3,329.9 96.3,327.3ZM157.4,324.7 157.6,324.7 155.3,327.3 152.9,329.9 152.7,329.9 155.1,327.3ZM91.4,329.9 152.9,329.9 150.3,332.3 147.7,334.6 91.8,334.6 91.6,332.3ZM78.7,334.6 147.7,334.6 145,336.8 142.2,338.8 80.6,338.8 79.6,336.8ZM80.6,338.8 142.2,338.8 139.3,340.8 136.3,342.6 82.6,342.6 81.6,340.8ZM56.3,342.6 70.6,342.6 72.6,344.3 74.6,345.8 62.5,345.8 59.4,344.3ZM82.6,342.6 136.3,342.6 133.2,344.3 130.1,345.8 84.7,345.8 83.7,344.3ZM62.5,345.8 130.1,345.8 126.9,347.2 123.7,348.5 68.9,348.5 65.7,347.2ZM68.9,348.5 123.7,348.5 120.4,349.6 117,350.6 75.6,350.6 72.2,349.6ZM75.6,350.6 117,350.6 113.6,351.4 110.2,352.1 82.4,352.1 79,351.4ZM82.4,352.1 110.2,352.1 106.7,352.6 103.3,353 89.3,353 85.9,352.6ZM89.3,353 103.3,353 99.8,353.2 96.3,353.3 96.3,353.3 92.8,353.2Z" fill="#ffffe5" stroke="#ffffe5" stroke-width="0.6" shape-rendering="crispEdges"/><path d="M98.1,196 101.7,196 102.5,197 103.4,198.1 98.7,198.1 98.4,197ZM114.2,196 115.8,196 118.9,197 122,198.1 120,198.1 117.1,197ZM91.5,198.1 93.9,198.1 93.6,199.4 93.4,200.8 90.4,200.8 91,199.4ZM120,198.1 122,198.1 125.1,199.4 128.1,200.8 125.6,200.8 122.8,199.4ZM82,200.8 84.7,200.8 83.7,202.3 82.6,204 79.4,204 80.7,202.3ZM126.9,200.8 129,200.8 132,202.3 134.9,204 132.6,204 129.8,202.3ZM76.3,204 79.4,204 78.1,205.8 76.9,207.8 73.4,207.8 74.8,205.8ZM132.6,204 134.9,204 137.8,205.8 140.6,207.8 137.9,207.8 135.3,205.8ZM137.9,207.8 140.6,207.8 143.3,209.8 146,212 142.9,212 140.4,209.8ZM63.2,212 66.8,212 65.3,214.3 63.9,216.7 59.9,216.7 61.6,214.3ZM140.8,212 144.6,212 147.1,214.3 149.5,216.7 145.3,216.7 143.1,214.3ZM146.9,212 147.7,212 150.3,214.3 152.9,216.7 152,216.7 149.5,214.3ZM145.3,216.7 149.5,216.7 151.7,219.3 153.9,221.9 149.4,221.9 147.4,219.3ZM152.7,216.7 152.9,216.7 155.3,219.3 157.6,221.9 157.4,221.9 155.1,219.3ZM19,252.6 19.3,252.6 18.5,256 17.8,259.4 17.5,259.4 18.2,256ZM17.5,259.4 17.8,259.4 17.3,262.9 16.9,266.3 16.6,266.3 17,262.9ZM16.6,266.3 17.8,266.3 17.6,269.8 17.5,273.3 16.3,273.3 16.4,269.8ZM16.6,280.3 16.9,280.3 17.3,283.7 17.8,287.2 17.5,287.2 17,283.7ZM27.3,280.3 31,280.3 31.3,283.7 31.8,287.2 28.1,287.2 27.6,283.7ZM17.5,287.2 17.8,287.2 18.5,290.6 19.3,294 19,294 18.2,290.6ZM24.9,287.2 35.9,287.2 36.5,290.6 37.1,294 26.3,294 25.5,290.6ZM19,294 19.3,294 20.3,297.4 21.4,300.7 21.1,300.7 20,297.4ZM23.7,294 37.1,294 37.9,297.4 38.7,300.7 25.7,300.7 24.6,297.4ZM21.1,300.7 21.4,300.7 22.7,303.9 24.1,307.1 23.8,307.1 22.4,303.9ZM25.7,300.7 38.7,300.7 39.7,303.9 40.8,307.1 28.2,307.1 26.8,303.9ZM23.8,307.1 24.9,307.1 26.4,310.2 28.1,313.3 27,313.3 25.3,310.2ZM30.6,307.1 45,307.1 46.1,310.2 47.3,313.3 33.5,313.3 32,310.2ZM27,313.3 29.4,313.3 31.1,316.3 33,319.2 30.8,319.2 28.8,316.3ZM33.5,313.3 47.3,313.3 48.6,316.3 50,319.2 36.9,319.2 35.2,316.3ZM30.8,319.2 34.7,319.2 36.7,322 38.7,324.7 35,324.7 32.8,322ZM39.5,319.2 50,319.2 51.4,322 53,324.7 43.2,324.7 41.3,322ZM79.3,319.2 84.9,319.2 85.3,322 85.7,324.7 80.4,324.7 79.9,322ZM96.3,319.2 107.7,319.2 107.3,322 106.9,324.7 96.3,324.7 96.3,322ZM160.8,319.2 161.8,319.2 159.8,322 157.6,324.7 156.7,324.7 158.8,322ZM35,324.7 43.2,324.7 45.2,327.3 47.3,329.9 39.7,329.9 37.3,327.3ZM46.1,324.7 53,324.7 54.6,327.3 56.3,329.9 50,329.9 48,327.3ZM75.3,324.7 96.3,324.7 96.3,327.3 96.3,329.9 77,329.9 76.1,327.3ZM126.9,324.7 139.6,324.7 138,327.3 136.3,329.9 124.6,329.9 125.8,327.3ZM155.5,324.7 157.4,324.7 155.1,327.3 152.7,329.9 150.9,329.9 153.3,327.3ZM39.7,329.9 56.3,329.9 58.1,332.3 59.9,334.6 44.9,334.6 42.3,332.3ZM77,329.9 91.4,329.9 91.6,332.3 91.8,334.6 78.7,334.6 77.8,332.3ZM44.9,334.6 56.9,334.6 59,336.8 61.1,338.8 50.4,338.8 47.6,336.8ZM74.6,334.6 78.7,334.6 79.6,336.8 80.6,338.8 76.9,338.8 75.7,336.8ZM50.4,338.8 63.9,338.8 65.9,340.8 68,342.6 56.3,342.6 53.3,340.8ZM76.9,338.8 80.6,338.8 81.6,340.8 82.6,342.6 79.4,342.6 78.1,340.8ZM70.6,342.6 73.4,342.6 75.1,344.3 76.9,345.8 74.6,345.8 72.6,344.3ZM79.4,342.6 82.6,342.6 83.7,344.3 84.7,345.8 82,345.8 80.7,344.3Z" fill="#fff4b6" stroke="#fff4b6" stroke-width="0.6" shape-rendering="crispEdges"/><path d="M101.7,196 105.1,196 106.5,197 107.9,198.1 103.4,198.1 102.5,197ZM112.2,196 114.2,196 117.1,197 120,198.1 117.3,198.1 114.7,197ZM93.9,198.1 98.7,198.1 99,199.4 99.2,200.8 93.4,200.8 93.6,199.4ZM117.3,198.1 120,198.1 122.8,199.4 125.6,200.8 122.2,200.8 119.8,199.4ZM84.7,200.8 90.4,200.8 89.9,202.3 89.4,204 82.6,204 83.7,202.3ZM124,200.8 126.9,200.8 129.8,202.3 132.6,204 129.1,204 126.6,202.3ZM129.1,204 132.6,204 135.3,205.8 137.9,207.8 133.9,207.8 131.5,205.8ZM73.4,207.8 76.9,207.8 75.7,209.8 74.6,212 70.6,212 71.9,209.8ZM133.9,207.8 137.9,207.8 140.4,209.8 142.9,212 138.4,212 136.2,209.8ZM66.8,212 70.6,212 69.3,214.3 68,216.7 63.9,216.7 65.3,214.3ZM138.4,212 140.8,212 143.1,214.3 145.3,216.7 142.6,216.7 140.6,214.3ZM144.6,212 146.9,212 149.5,214.3 152,216.7 149.5,216.7 147.1,214.3ZM142.6,216.7 145.3,216.7 147.4,219.3 149.4,221.9 146.5,221.9 144.6,219.3ZM150.9,216.7 152.7,216.7 155.1,219.3 157.4,221.9 155.5,221.9 153.3,219.3ZM155.5,221.9 157.4,221.9 159.5,224.6 161.6,227.4 159.6,227.4 157.6,224.6ZM159.6,227.4 160.8,227.4 162.7,230.3 164.5,233.3 163.2,233.3 161.5,230.3ZM21.1,245.9 21.4,245.9 20.3,249.2 19.3,252.6 19,252.6 20,249.2ZM19.3,252.6 20.2,252.6 19.4,256 18.7,259.4 17.8,259.4 18.5,256ZM17.8,259.4 18.7,259.4 18.2,262.9 17.8,266.3 16.9,266.3 17.3,262.9ZM17.8,266.3 19.3,266.3 19.1,269.8 19,273.3 17.5,273.3 17.6,269.8ZM16.3,273.3 16.6,273.3 16.7,276.8 16.9,280.3 16.6,280.3 16.4,276.8ZM16.9,280.3 17.8,280.3 18.2,283.7 18.7,287.2 17.8,287.2 17.3,283.7ZM17.8,287.2 18.7,287.2 19.4,290.6 20.2,294 19.3,294 18.5,290.6ZM22.3,287.2 24.9,287.2 25.5,290.6 26.3,294 23.7,294 22.9,290.6ZM19.3,294 20.2,294 21.2,297.4 22.3,300.7 21.4,300.7 20.3,297.4ZM21.7,294 23.7,294 24.6,297.4 25.7,300.7 23.7,300.7 22.6,297.4ZM103,294 109.7,294 109.5,297.4 109.4,300.7 102.9,300.7 102.9,297.4ZM21.4,300.7 25.7,300.7 26.8,303.9 28.2,307.1 24.1,307.1 22.7,303.9ZM38.7,300.7 43.1,300.7 44,303.9 45,307.1 40.8,307.1 39.7,303.9ZM102.9,300.7 109.4,300.7 109.1,303.9 108.9,307.1 102.6,307.1 102.7,303.9ZM115.8,300.7 122,300.7 121.6,303.9 121.1,307.1 115.1,307.1 115.4,303.9ZM24.9,307.1 30.6,307.1 32,310.2 33.5,313.3 28.1,313.3 26.4,310.2ZM168.5,307.1 168.8,307.1 167.3,310.2 165.6,313.3 165.3,313.3 167,310.2ZM29.4,313.3 33.5,313.3 35.2,316.3 36.9,319.2 33,319.2 31.1,316.3ZM47.3,313.3 51.8,313.3 52.9,316.3 54.2,319.2 50,319.2 48.6,316.3ZM84.3,313.3 90.3,313.3 90.4,316.3 90.6,319.2 84.9,319.2 84.6,316.3ZM164.5,313.3 165.6,313.3 163.8,316.3 161.8,319.2 160.8,319.2 162.7,316.3ZM34.7,319.2 39.5,319.2 41.3,322 43.2,324.7 38.7,324.7 36.7,322ZM50,319.2 54.2,319.2 55.5,322 56.9,324.7 53,324.7 51.4,322ZM84.9,319.2 96.3,319.2 96.3,322 96.3,324.7 85.7,324.7 85.3,322ZM107.7,319.2 118.7,319.2 118,322 117.3,324.7 106.9,324.7 107.3,322ZM133.9,319.2 138.4,319.2 137.1,322 135.7,324.7 131.5,324.7 132.7,322ZM157.9,319.2 160.8,319.2 158.8,322 156.7,324.7 153.9,324.7 155.9,322ZM43.2,324.7 46.1,324.7 48,327.3 50,329.9 47.3,329.9 45.2,327.3ZM53,324.7 56.9,324.7 58.4,327.3 59.9,329.9 56.3,329.9 54.6,327.3ZM70.4,324.7 75.3,324.7 76.1,327.3 77,329.9 72.4,329.9 71.4,327.3ZM139.6,324.7 143.2,324.7 141.5,327.3 139.6,329.9 136.3,329.9 138,327.3ZM151.8,324.7 155.5,324.7 153.3,327.3 150.9,329.9 147.6,329.9 149.8,327.3ZM72.4,329.9 77,329.9 77.8,332.3 78.7,334.6 74.6,334.6 73.5,332.3ZM56.9,334.6 59.9,334.6 61.9,336.8 63.9,338.8 61.1,338.8 59,336.8ZM63.9,338.8 66.8,338.8 68.7,340.8 70.6,342.6 68,342.6 65.9,340.8ZM73.4,342.6 79.4,342.6 80.7,344.3 82,345.8 76.9,345.8 75.1,344.3Z" fill="#feda7e" stroke="#feda7e" stroke-width="0.6" shape-rendering="crispEdges"/><path d="M105.1,196 108.2,196 110.1,197 112,198.1 107.9,198.1 106.5,197ZM110.9,196 112.2,196 114.7,197 117.3,198.1 115.6,198.1 113.3,197ZM98.7,198.1 103.4,198.1 104.2,199.4 105.1,200.8 99.2,200.8 99,199.4ZM112,198.1 117.3,198.1 119.8,199.4 122.2,200.8 115.7,200.8 113.9,199.4ZM90.4,200.8 99.2,200.8 99.5,202.3 99.8,204 89.4,204 89.9,202.3ZM118,200.8 124,200.8 126.6,202.3 129.1,204 122,204 120,202.3ZM79.4,204 92.8,204 92.6,205.8 92.3,207.8 76.9,207.8 78.1,205.8ZM122,204 129.1,204 131.5,205.8 133.9,207.8 125.8,207.8 123.9,205.8ZM76.9,207.8 80.6,207.8 79.6,209.8 78.7,212 74.6,212 75.7,209.8ZM125.8,207.8 133.9,207.8 136.2,209.8 138.4,212 129.4,212 127.6,209.8ZM39.7,216.7 56.3,216.7 54.6,219.3 53,221.9 35,221.9 37.3,219.3ZM149.5,216.7 150.9,216.7 153.3,219.3 155.5,221.9 153.9,221.9 151.7,219.3ZM35,221.9 49.4,221.9 47.7,224.6 46.1,227.4 30.8,227.4 32.8,224.6ZM146.5,221.9 149.4,221.9 151.3,224.6 153.1,227.4 150,227.4 148.3,224.6ZM151.8,221.9 155.5,221.9 157.6,224.6 159.6,227.4 155.7,227.4 153.8,224.6ZM157.4,221.9 157.6,221.9 159.8,224.6 161.8,227.4 161.6,227.4 159.5,224.6ZM30.8,227.4 46.1,227.4 44.6,230.3 43.2,233.3 27,233.3 28.8,230.3ZM142.6,227.4 146.5,227.4 148,230.3 149.4,233.3 145.3,233.3 144,230.3ZM155.7,227.4 159.6,227.4 161.5,230.3 163.2,233.3 159.1,233.3 157.4,230.3ZM160.8,227.4 161.6,227.4 163.5,230.3 165.3,233.3 164.5,233.3 162.7,230.3ZM27,233.3 27.3,233.3 25.6,236.4 24.1,239.5 23.8,239.5 25.3,236.4ZM23.8,239.5 24.1,239.5 22.7,242.7 21.4,245.9 21.1,245.9 22.4,242.7ZM21.4,245.9 22.3,245.9 21.2,249.2 20.2,252.6 19.3,252.6 20.3,249.2ZM20.2,252.6 23.7,252.6 22.9,256 22.3,259.4 18.7,259.4 19.4,256ZM18.7,259.4 20.2,259.4 19.7,262.9 19.3,266.3 17.8,266.3 18.2,262.9ZM19.3,266.3 21.4,266.3 21.2,269.8 21.1,273.3 19,273.3 19.1,269.8ZM110.1,266.3 116.9,266.3 117,269.8 117,273.3 110.2,273.3 110.2,269.8ZM175.7,266.3 176,266.3 176.2,269.8 176.3,273.3 176,273.3 175.9,269.8ZM16.6,273.3 19,273.3 19.1,276.8 19.3,280.3 16.9,280.3 16.7,276.8ZM117,273.3 123.7,273.3 123.6,276.8 123.6,280.3 116.9,280.3 117,276.8ZM136.3,273.3 147.7,273.3 147.7,276.8 147.5,280.3 136.1,280.3 136.3,276.8ZM176,273.3 176.3,273.3 176.2,276.8 176,280.3 175.7,280.3 175.9,276.8ZM17.8,280.3 21.4,280.3 21.8,283.7 22.3,287.2 18.7,287.2 18.2,283.7ZM103.2,280.3 110.1,280.3 110.1,283.7 110,287.2 103.2,287.2 103.2,283.7ZM136.1,280.3 152.7,280.3 152.4,283.7 152,287.2 135.7,287.2 136,283.7ZM175.7,280.3 176,280.3 175.6,283.7 175.1,287.2 174.8,287.2 175.3,283.7ZM18.7,287.2 22.3,287.2 22.9,290.6 23.7,294 20.2,294 19.4,290.6ZM35.9,287.2 40.6,287.2 41.1,290.6 41.7,294 37.1,294 36.5,290.6ZM103.2,287.2 116.7,287.2 116.5,290.6 116.3,294 103,294 103.1,290.6ZM141.5,287.2 146.9,287.2 146.5,290.6 146,294 140.6,294 141.1,290.6ZM174.8,287.2 175.1,287.2 174.4,290.6 173.6,294 173.3,294 174.1,290.6ZM20.2,294 21.7,294 22.6,297.4 23.7,300.7 22.3,300.7 21.2,297.4ZM37.1,294 41.7,294 42.3,297.4 43.1,300.7 38.7,300.7 37.9,297.4ZM96.3,294 103,294 102.9,297.4 102.9,300.7 96.3,300.7 96.3,297.4ZM109.7,294 122.7,294 122.4,297.4 122,300.7 109.4,300.7 109.5,297.4ZM172.4,294 173.6,294 172.6,297.4 171.5,300.7 170.3,300.7 171.4,297.4ZM122,300.7 128.1,300.7 127.5,303.9 126.9,307.1 121.1,307.1 121.6,303.9ZM168.9,300.7 171.5,300.7 170.2,303.9 168.8,307.1 166.3,307.1 167.7,303.9ZM108.9,307.1 137.9,307.1 137,310.2 136,313.3 108.3,313.3 108.6,310.2ZM166.3,307.1 168.5,307.1 167,310.2 165.3,313.3 163.2,313.3 164.8,310.2ZM161.4,313.3 164.5,313.3 162.7,316.3 160.8,319.2 157.9,319.2 159.7,316.3ZM73.9,319.2 79.3,319.2 79.9,322 80.4,324.7 75.3,324.7 74.6,322ZM118.7,319.2 133.9,319.2 132.7,322 131.5,324.7 117.3,324.7 118,322ZM153.1,319.2 157.9,319.2 155.9,322 153.9,324.7 149.4,324.7 151.3,322ZM65.7,324.7 70.4,324.7 71.4,327.3 72.4,329.9 68,329.9 66.8,327.3ZM143.2,324.7 146.5,324.7 144.6,327.3 142.6,329.9 139.6,329.9 141.5,327.3ZM149.4,324.7 151.8,324.7 149.8,327.3 147.6,329.9 145.3,329.9 147.4,327.3ZM68,329.9 72.4,329.9 73.5,332.3 74.6,334.6 70.6,334.6 69.3,332.3ZM59.9,334.6 63.2,334.6 65,336.8 66.8,338.8 63.9,338.8 61.9,336.8ZM70.6,334.6 74.6,334.6 75.7,336.8 76.9,338.8 73.4,338.8 71.9,336.8ZM66.8,338.8 70,338.8 71.6,340.8 73.4,342.6 70.6,342.6 68.7,340.8ZM73.4,338.8 76.9,338.8 78.1,340.8 79.4,342.6 76.3,342.6 74.8,340.8Z" fill="#feb23f" stroke="#feb23f" stroke-width="0.6" shape-rendering="crispEdges"/><path d="M108.2,196 110.9,196 113.3,197 115.6,198.1 112,198.1 110.1,197ZM103.4,198.1 107.9,198.1 109.2,199.4 110.6,200.8 105.1,200.8 104.2,199.4ZM110,198.1 112,198.1 113.9,199.4 115.7,200.8 113.2,200.8 111.6,199.4ZM99.2,200.8 105.1,200.8 105.9,202.3 106.7,204 99.8,204 99.5,202.3ZM110.6,200.8 118,200.8 120,202.3 122,204 113.2,204 111.9,202.3ZM92.8,204 96.3,204 96.3,205.8 96.3,207.8 92.3,207.8 92.6,205.8ZM116.3,204 122,204 123.9,205.8 125.8,207.8 119.2,207.8 117.8,205.8ZM80.6,207.8 88.3,207.8 87.8,209.8 87.4,212 78.7,212 79.6,209.8ZM122.6,207.8 125.8,207.8 127.6,209.8 129.4,212 125.8,212 124.2,209.8ZM70.6,212 78.7,212 77.8,214.3 77,216.7 68,216.7 69.3,214.3ZM122,212 138.4,212 140.6,214.3 142.6,216.7 124.6,216.7 123.3,214.3ZM139.6,216.7 142.6,216.7 144.6,219.3 146.5,221.9 143.2,221.9 141.5,219.3ZM143.2,221.9 146.5,221.9 148.3,224.6 150,227.4 146.5,227.4 144.9,224.6ZM149.4,221.9 151.8,221.9 153.8,224.6 155.7,227.4 153.1,227.4 151.3,224.6ZM118.7,227.4 142.6,227.4 144,230.3 145.3,233.3 120,233.3 119.4,230.3ZM146.5,227.4 153.1,227.4 154.7,230.3 156.3,233.3 149.4,233.3 148,230.3ZM161.6,227.4 161.8,227.4 163.8,230.3 165.6,233.3 165.3,233.3 163.5,230.3ZM27.3,233.3 33.5,233.3 32,236.4 30.6,239.5 24.1,239.5 25.6,236.4ZM120,233.3 156.3,233.3 157.8,236.4 159.1,239.5 121.1,239.5 120.6,236.4ZM161.4,233.3 165.6,233.3 167.3,236.4 168.8,239.5 164.4,239.5 163,236.4ZM24.1,239.5 36.9,239.5 35.8,242.7 34.7,245.9 21.4,245.9 22.7,242.7ZM115.1,239.5 162,239.5 163.3,242.7 164.4,245.9 115.8,245.9 115.4,242.7ZM164.4,239.5 168.8,239.5 170.2,242.7 171.5,245.9 166.9,245.9 165.8,242.7ZM22.3,245.9 34.7,245.9 33.8,249.2 33,252.6 20.2,252.6 21.2,249.2ZM115.8,245.9 164.4,245.9 165.4,249.2 166.3,252.6 116.3,252.6 116,249.2ZM166.9,245.9 171.5,245.9 172.6,249.2 173.6,252.6 168.9,252.6 168,249.2ZM23.7,252.6 26.3,252.6 25.5,256 24.9,259.4 22.3,259.4 22.9,256ZM29.4,252.6 37.1,252.6 36.5,256 35.9,259.4 28.1,259.4 28.7,256ZM76.3,252.6 89.6,252.6 89.5,256 89.4,259.4 75.9,259.4 76.1,256ZM122.7,252.6 168.9,252.6 169.7,256 170.3,259.4 123.2,259.4 123,256ZM172.4,252.6 173.6,252.6 174.4,256 175.1,259.4 173.9,259.4 173.2,256ZM20.2,259.4 24.9,259.4 24.4,262.9 24.1,266.3 19.3,266.3 19.7,262.9ZM82.6,259.4 96.3,259.4 96.3,262.9 96.3,266.3 82.5,266.3 82.5,262.9ZM123.2,259.4 175.1,259.4 175.6,262.9 176,266.3 123.6,266.3 123.4,262.9ZM21.4,266.3 24.1,266.3 23.9,269.8 23.8,273.3 21.1,273.3 21.2,269.8ZM130,266.3 175.7,266.3 175.9,269.8 176,273.3 130.1,273.3 130.1,269.8ZM19,273.3 27,273.3 27.1,276.8 27.3,280.3 19.3,280.3 19.1,276.8ZM110.2,273.3 117,273.3 117,276.8 116.9,280.3 110.1,280.3 110.2,276.8ZM130.1,273.3 136.3,273.3 136.3,276.8 136.1,280.3 130,280.3 130.1,276.8ZM147.7,273.3 176,273.3 175.9,276.8 175.7,280.3 147.5,280.3 147.7,276.8ZM21.4,280.3 27.3,280.3 27.6,283.7 28.1,287.2 22.3,287.2 21.8,283.7ZM31,280.3 82.5,280.3 82.5,283.7 82.6,287.2 31.8,287.2 31.3,283.7ZM110.1,280.3 123.6,280.3 123.4,283.7 123.2,287.2 110,287.2 110.1,283.7ZM130,280.3 136.1,280.3 136,283.7 135.7,287.2 129.6,287.2 129.8,283.7ZM152.7,280.3 173.3,280.3 172.9,283.7 172.4,287.2 152,287.2 152.4,283.7ZM174.8,280.3 175.7,280.3 175.3,283.7 174.8,287.2 173.9,287.2 174.4,283.7ZM40.6,287.2 82.6,287.2 82.7,290.6 82.9,294 41.7,294 41.1,290.6ZM96.3,287.2 103.2,287.2 103.1,290.6 103,294 96.3,294 96.3,290.6ZM123.2,287.2 129.6,287.2 129.3,290.6 129,294 122.7,294 123,290.6ZM135.7,287.2 141.5,287.2 141.1,290.6 140.6,294 134.9,294 135.4,290.6ZM146.9,287.2 174.8,287.2 174.1,290.6 173.3,294 146,294 146.5,290.6ZM41.7,294 76.3,294 76.6,297.4 76.8,300.7 43.1,300.7 42.3,297.4ZM129,294 134.9,294 134.4,297.4 133.9,300.7 128.1,300.7 128.5,297.4ZM140.6,294 172.4,294 171.4,297.4 170.3,300.7 139.4,300.7 140.1,297.4ZM43.1,300.7 70.6,300.7 71,303.9 71.5,307.1 45,307.1 44,303.9ZM96.3,300.7 102.9,300.7 102.7,303.9 102.6,307.1 96.3,307.1 96.3,303.9ZM128.1,300.7 133.9,300.7 133.3,303.9 132.6,307.1 126.9,307.1 127.5,303.9ZM149.5,300.7 168.9,300.7 167.7,303.9 166.3,307.1 147.6,307.1 148.6,303.9ZM45,307.1 65.7,307.1 66.3,310.2 67,313.3 47.3,313.3 46.1,310.2ZM83.7,307.1 90,307.1 90.1,310.2 90.3,313.3 84.3,313.3 84,310.2ZM159.1,307.1 166.3,307.1 164.8,310.2 163.2,313.3 156.3,313.3 157.8,310.2ZM51.8,313.3 61.7,313.3 62.6,316.3 63.5,319.2 54.2,319.2 52.9,316.3ZM78.4,313.3 84.3,313.3 84.6,316.3 84.9,319.2 79.3,319.2 78.8,316.3ZM90.3,313.3 96.3,313.3 96.3,316.3 96.3,319.2 90.6,319.2 90.4,316.3ZM102.3,313.3 140.8,313.3 139.7,316.3 138.4,319.2 102,319.2 102.2,316.3ZM156.3,313.3 161.4,313.3 159.7,316.3 157.9,319.2 153.1,319.2 154.7,316.3ZM54.2,319.2 63.5,319.2 64.6,322 65.7,324.7 56.9,324.7 55.5,322ZM138.4,319.2 142.6,319.2 141.2,322 139.6,324.7 135.7,324.7 137.1,322ZM146.5,319.2 153.1,319.2 151.3,322 149.4,324.7 143.2,324.7 144.9,322ZM56.9,324.7 61.1,324.7 62.5,327.3 63.9,329.9 59.9,329.9 58.4,327.3ZM146.5,324.7 149.4,324.7 147.4,327.3 145.3,329.9 142.6,329.9 144.6,327.3ZM56.3,329.9 68,329.9 69.3,332.3 70.6,334.6 59.9,334.6 58.1,332.3ZM63.2,334.6 70.6,334.6 71.9,336.8 73.4,338.8 66.8,338.8 65,336.8ZM70,338.8 73.4,338.8 74.8,340.8 76.3,342.6 73.4,342.6 71.6,340.8Z" fill="#f4811d" stroke="#f4811d" stroke-width="0.6" shape-rendering="crispEdges"/><path d="M107.9,198.1 110,198.1 111.6,199.4 113.2,200.8 110.6,200.8 109.2,199.4ZM105.1,200.8 110.6,200.8 111.9,202.3 113.2,204 106.7,204 105.9,202.3ZM96.3,204 106.7,204 107.4,205.8 108.2,207.8 96.3,207.8 96.3,205.8ZM113.2,204 116.3,204 117.8,205.8 119.2,207.8 115.7,207.8 114.5,205.8ZM88.3,207.8 96.3,207.8 96.3,209.8 96.3,212 87.4,212 87.8,209.8ZM119.2,207.8 122.6,207.8 124.2,209.8 125.8,212 122,212 120.7,209.8ZM78.7,212 83,212 82.3,214.3 81.7,216.7 77,216.7 77.8,214.3ZM118,212 122,212 123.3,214.3 124.6,216.7 120.2,216.7 119.1,214.3ZM120.2,216.7 124.6,216.7 125.8,219.3 126.9,221.9 122.2,221.9 121.2,219.3ZM128.7,216.7 139.6,216.7 141.5,219.3 143.2,221.9 131.5,221.9 130.1,219.3ZM117.3,221.9 122.2,221.9 123.1,224.6 124,227.4 118.7,227.4 118,224.6ZM131.5,221.9 143.2,221.9 144.9,224.6 146.5,227.4 133.9,227.4 132.7,224.6ZM58.7,227.4 63.5,227.4 62.6,230.3 61.7,233.3 56.6,233.3 57.6,230.3ZM96.3,227.4 102,227.4 102.2,230.3 102.3,233.3 96.3,233.3 96.3,230.3ZM153.1,227.4 155.7,227.4 157.4,230.3 159.1,233.3 156.3,233.3 154.7,230.3ZM33.5,233.3 78.4,233.3 77.9,236.4 77.5,239.5 30.6,239.5 32,236.4ZM90.3,233.3 102.3,233.3 102.5,236.4 102.6,239.5 90,239.5 90.1,236.4ZM114.2,233.3 120,233.3 120.6,236.4 121.1,239.5 115.1,239.5 114.7,236.4ZM156.3,233.3 161.4,233.3 163,236.4 164.4,239.5 159.1,239.5 157.8,236.4ZM36.9,239.5 49.7,239.5 48.8,242.7 48,245.9 34.7,245.9 35.8,242.7ZM60,239.5 71.5,239.5 71,242.7 70.6,245.9 58.7,245.9 59.3,242.7ZM83.7,239.5 102.6,239.5 102.7,242.7 102.9,245.9 83.2,245.9 83.5,242.7ZM108.9,239.5 115.1,239.5 115.4,242.7 115.8,245.9 109.4,245.9 109.1,242.7ZM162,239.5 164.4,239.5 165.8,242.7 166.9,245.9 164.4,245.9 163.3,242.7ZM34.7,245.9 96.3,245.9 96.3,249.2 96.3,252.6 33,252.6 33.8,249.2ZM109.4,245.9 115.8,245.9 116,249.2 116.3,252.6 109.7,252.6 109.5,249.2ZM164.4,245.9 166.9,245.9 168,249.2 168.9,252.6 166.3,252.6 165.4,249.2ZM26.3,252.6 29.4,252.6 28.7,256 28.1,259.4 24.9,259.4 25.5,256ZM37.1,252.6 52,252.6 51.5,256 51.1,259.4 35.9,259.4 36.5,256ZM57.7,252.6 63.6,252.6 63.3,256 63,259.4 56.9,259.4 57.2,256ZM89.6,252.6 96.3,252.6 96.3,256 96.3,259.4 89.4,259.4 89.5,256ZM168.9,252.6 172.4,252.6 173.2,256 173.9,259.4 170.3,259.4 169.7,256ZM24.9,259.4 82.6,259.4 82.5,262.9 82.5,266.3 24.1,266.3 24.4,262.9ZM24.1,266.3 89.4,266.3 89.3,269.8 89.3,273.3 23.8,273.3 23.9,269.8ZM116.9,266.3 130,266.3 130.1,269.8 130.1,273.3 117,273.3 117,269.8ZM27,273.3 82.4,273.3 82.4,276.8 82.5,280.3 27.3,280.3 27.1,276.8ZM103.3,273.3 110.2,273.3 110.2,276.8 110.1,280.3 103.2,280.3 103.3,276.8ZM123.7,273.3 130.1,273.3 130.1,276.8 130,280.3 123.6,280.3 123.6,276.8ZM123.6,280.3 130,280.3 129.8,283.7 129.6,287.2 123.2,287.2 123.4,283.7ZM173.3,280.3 174.8,280.3 174.4,283.7 173.9,287.2 172.4,287.2 172.9,283.7ZM82.6,287.2 89.4,287.2 89.5,290.6 89.6,294 82.9,294 82.7,290.6ZM116.7,287.2 123.2,287.2 123,290.6 122.7,294 116.3,294 116.5,290.6ZM129.6,287.2 135.7,287.2 135.4,290.6 134.9,294 129,294 129.3,290.6ZM76.3,294 82.9,294 83.1,297.4 83.2,300.7 76.8,300.7 76.6,297.4ZM89.6,294 96.3,294 96.3,297.4 96.3,300.7 89.7,300.7 89.7,297.4ZM122.7,294 129,294 128.5,297.4 128.1,300.7 122,300.7 122.4,297.4ZM134.9,294 140.6,294 140.1,297.4 139.4,300.7 133.9,300.7 134.4,297.4ZM70.6,300.7 76.8,300.7 77.2,303.9 77.5,307.1 71.5,307.1 71,303.9ZM89.7,300.7 96.3,300.7 96.3,303.9 96.3,307.1 90,307.1 89.9,303.9ZM133.9,300.7 139.4,300.7 138.7,303.9 137.9,307.1 132.6,307.1 133.3,303.9ZM144.6,300.7 149.5,300.7 148.6,303.9 147.6,307.1 142.9,307.1 143.8,303.9ZM65.7,307.1 71.5,307.1 72,310.2 72.6,313.3 67,313.3 66.3,310.2ZM90,307.1 96.3,307.1 96.3,310.2 96.3,313.3 90.3,313.3 90.1,310.2ZM102.6,307.1 108.9,307.1 108.6,310.2 108.3,313.3 102.3,313.3 102.5,310.2ZM137.9,307.1 142.9,307.1 141.9,310.2 140.8,313.3 136,313.3 137,310.2ZM147.6,307.1 159.1,307.1 157.8,310.2 156.3,313.3 145.3,313.3 146.5,310.2ZM72.6,313.3 78.4,313.3 78.8,316.3 79.3,319.2 73.9,319.2 73.2,316.3ZM96.3,313.3 102.3,313.3 102.2,316.3 102,319.2 96.3,319.2 96.3,316.3ZM153.1,313.3 156.3,313.3 154.7,316.3 153.1,319.2 150,319.2 151.6,316.3ZM68.6,319.2 73.9,319.2 74.6,322 75.3,324.7 70.4,324.7 69.5,322ZM142.6,319.2 146.5,319.2 144.9,322 143.2,324.7 139.6,324.7 141.2,322ZM61.1,324.7 65.7,324.7 66.8,327.3 68,329.9 63.9,329.9 62.5,327.3Z" fill="#d55607" stroke="#d55607" stroke-width="0.6" shape-rendering="crispEdges"/><path d="M106.7,204 113.2,204 114.5,205.8 115.7,207.8 108.2,207.8 107.4,205.8ZM96.3,207.8 108.2,207.8 108.9,209.8 109.6,212 96.3,212 96.3,209.8ZM115.7,207.8 119.2,207.8 120.7,209.8 122,212 118,212 116.9,209.8ZM83,212 105.2,212 105.7,214.3 106.1,216.7 81.7,216.7 82.3,214.3ZM101.2,216.7 106.1,216.7 106.5,219.3 106.9,221.9 101.6,221.9 101.4,219.3ZM115.6,216.7 120.2,216.7 121.2,219.3 122.2,221.9 117.3,221.9 116.5,219.3ZM124.6,216.7 128.7,216.7 130.1,219.3 131.5,221.9 126.9,221.9 125.8,219.3ZM49.4,221.9 53,221.9 51.4,224.6 50,227.4 46.1,227.4 47.7,224.6ZM65.7,221.9 106.9,221.9 107.3,224.6 107.7,227.4 63.5,227.4 64.6,224.6ZM122.2,221.9 131.5,221.9 132.7,224.6 133.9,227.4 124,227.4 123.1,224.6ZM46.1,227.4 58.7,227.4 57.6,230.3 56.6,233.3 43.2,233.3 44.6,230.3ZM63.5,227.4 84.9,227.4 84.6,230.3 84.3,233.3 61.7,233.3 62.6,230.3ZM90.6,227.4 96.3,227.4 96.3,230.3 96.3,233.3 90.3,233.3 90.4,230.3ZM102,227.4 107.7,227.4 108,230.3 108.3,233.3 102.3,233.3 102.2,230.3ZM113.3,227.4 118.7,227.4 119.4,230.3 120,233.3 114.2,233.3 113.8,230.3ZM78.4,233.3 84.3,233.3 84,236.4 83.7,239.5 77.5,239.5 77.9,236.4ZM108.3,233.3 114.2,233.3 114.7,236.4 115.1,239.5 108.9,239.5 108.6,236.4ZM49.7,239.5 60,239.5 59.3,242.7 58.7,245.9 48,245.9 48.8,242.7ZM71.5,239.5 83.7,239.5 83.5,242.7 83.2,245.9 70.6,245.9 71,242.7ZM102.9,245.9 109.4,245.9 109.5,249.2 109.7,252.6 103,252.6 102.9,249.2ZM52,252.6 57.7,252.6 57.2,256 56.9,259.4 51.1,259.4 51.5,256ZM63.6,252.6 76.3,252.6 76.1,256 75.9,259.4 63,259.4 63.3,256ZM103,252.6 122.7,252.6 123,256 123.2,259.4 103.2,259.4 103.1,256ZM110,259.4 123.2,259.4 123.4,262.9 123.6,266.3 110.1,266.3 110.1,262.9ZM89.4,266.3 96.3,266.3 96.3,269.8 96.3,273.3 89.3,273.3 89.3,269.8ZM103.2,266.3 110.1,266.3 110.2,269.8 110.2,273.3 103.3,273.3 103.3,269.8ZM82.4,273.3 89.3,273.3 89.3,276.8 89.4,280.3 82.5,280.3 82.4,276.8ZM82.5,280.3 89.4,280.3 89.4,283.7 89.4,287.2 82.6,287.2 82.5,283.7ZM96.3,280.3 103.2,280.3 103.2,283.7 103.2,287.2 96.3,287.2 96.3,283.7ZM82.9,294 89.6,294 89.7,297.4 89.7,300.7 83.2,300.7 83.1,297.4ZM76.8,300.7 89.7,300.7 89.9,303.9 90,307.1 77.5,307.1 77.2,303.9ZM139.4,300.7 144.6,300.7 143.8,303.9 142.9,307.1 137.9,307.1 138.7,303.9ZM71.5,307.1 83.7,307.1 84,310.2 84.3,313.3 72.6,313.3 72,310.2ZM96.3,307.1 102.6,307.1 102.5,310.2 102.3,313.3 96.3,313.3 96.3,310.2ZM142.9,307.1 147.6,307.1 146.5,310.2 145.3,313.3 140.8,313.3 141.9,310.2ZM61.7,313.3 72.6,313.3 73.2,316.3 73.9,319.2 63.5,319.2 62.6,316.3ZM140.8,313.3 145.3,313.3 144,316.3 142.6,319.2 138.4,319.2 139.7,316.3ZM149.4,313.3 153.1,313.3 151.6,316.3 150,319.2 146.5,319.2 148,316.3ZM63.5,319.2 68.6,319.2 69.5,322 70.4,324.7 65.7,324.7 64.6,322Z" fill="#a03704" stroke="#a03704" stroke-width="0.6" shape-rendering="crispEdges"/><path d="M108.2,207.8 115.7,207.8 116.9,209.8 118,212 109.6,212 108.9,209.8ZM105.2,212 118,212 119.1,214.3 120.2,216.7 106.1,216.7 105.7,214.3ZM56.3,216.7 101.2,216.7 101.4,219.3 101.6,221.9 53,221.9 54.6,219.3ZM106.1,216.7 115.6,216.7 116.5,219.3 117.3,221.9 106.9,221.9 106.5,219.3ZM53,221.9 65.7,221.9 64.6,224.6 63.5,227.4 50,227.4 51.4,224.6ZM106.9,221.9 117.3,221.9 118,224.6 118.7,227.4 107.7,227.4 107.3,224.6ZM84.9,227.4 90.6,227.4 90.4,230.3 90.3,233.3 84.3,233.3 84.6,230.3ZM107.7,227.4 113.3,227.4 113.8,230.3 114.2,233.3 108.3,233.3 108,230.3ZM84.3,233.3 90.3,233.3 90.1,236.4 90,239.5 83.7,239.5 84,236.4ZM102.3,233.3 108.3,233.3 108.6,236.4 108.9,239.5 102.6,239.5 102.5,236.4ZM102.6,239.5 108.9,239.5 109.1,242.7 109.4,245.9 102.9,245.9 102.7,242.7ZM96.3,245.9 102.9,245.9 102.9,249.2 103,252.6 96.3,252.6 96.3,249.2ZM96.3,252.6 103,252.6 103.1,256 103.2,259.4 96.3,259.4 96.3,256ZM96.3,259.4 110,259.4 110.1,262.9 110.1,266.3 96.3,266.3 96.3,262.9ZM96.3,266.3 103.2,266.3 103.3,269.8 103.3,273.3 96.3,273.3 96.3,269.8ZM89.3,273.3 103.3,273.3 103.3,276.8 103.2,280.3 89.4,280.3 89.3,276.8ZM89.4,280.3 96.3,280.3 96.3,283.7 96.3,287.2 89.4,287.2 89.4,283.7ZM89.4,287.2 96.3,287.2 96.3,290.6 96.3,294 89.6,294 89.5,290.6ZM145.3,313.3 149.4,313.3 148,316.3 146.5,319.2 142.6,319.2 144,316.3Z" fill="#662506" stroke="#662506" stroke-width="0.6" shape-rendering="crispEdges"/>
<polygon points="79.9,203.5 102.8,203.5 105.4,215.5 73.5,215.5" fill="none" stroke="#1b9e77" stroke-width="3.2" stroke-linejoin="miter"/>
<use href="#land" x="96.3" y="273.3"/>
</g>
<circle cx="96.3" cy="273.3" r="80.0" fill="none" stroke="#b0b0b0" stroke-width="0.7"/>
<g clip-path="url(#clipe)">
<circle cx="96.3" cy="466.2" r="80.0" fill="#ffffff"/>
<path d="M108.2,531.7 128.7,531.7 126.7,533.7 124.6,535.5 106.7,535.5 107.4,533.7ZM106.7,535.5 113.2,535.5 111.9,537.2 110.6,538.7 105.1,538.7 105.9,537.2Z" fill="#ffffe5" stroke="#ffffe5" stroke-width="0.6" shape-rendering="crispEdges"/><path d="M104.3,531.7 108.2,531.7 107.4,533.7 106.7,535.5 103.2,535.5 103.8,533.7ZM128.7,531.7 131.5,531.7 129.2,533.7 126.9,535.5 124.6,535.5 126.7,533.7ZM113.2,535.5 119.2,535.5 117.5,537.2 115.7,538.7 110.6,538.7 111.9,537.2Z" fill="#fffbcf" stroke="#fffbcf" stroke-width="0.6" shape-rendering="crispEdges"/><path d="M100.8,527.5 132.7,527.5 130.7,529.7 128.7,531.7 100.3,531.7 100.5,529.7ZM131.5,531.7 133.9,531.7 131.5,533.7 129.1,535.5 126.9,535.5 129.2,533.7ZM103.2,535.5 106.7,535.5 105.9,537.2 105.1,538.7 102.2,538.7 102.7,537.2ZM119.2,535.5 122,535.5 120,537.2 118,538.7 115.7,538.7 117.5,537.2Z" fill="#fff6b9" stroke="#fff6b9" stroke-width="0.6" shape-rendering="crispEdges"/><path d="M96.3,527.5 100.8,527.5 100.5,529.7 100.3,531.7 96.3,531.7 96.3,529.7ZM132.7,527.5 138.4,527.5 136.2,529.7 133.9,531.7 128.7,531.7 130.7,529.7ZM100.3,531.7 104.3,531.7 103.8,533.7 103.2,535.5 99.8,535.5 100,533.7ZM133.9,531.7 136,531.7 133.5,533.7 130.9,535.5 129.1,535.5 131.5,533.7ZM122,535.5 124.6,535.5 122.4,537.2 120.2,538.7 118,538.7 120,537.2ZM105.1,538.7 113.2,538.7 111.6,540.1 110,541.4 103.4,541.4 104.2,540.1ZM75.6,543.5 117,543.5 113.6,544.3 110.2,545 82.4,545 79,544.3ZM82.4,545 110.2,545 106.7,545.5 103.3,545.9 89.3,545.9 85.9,545.5ZM89.3,545.9 103.3,545.9 99.8,546.1 96.3,546.2 96.3,546.2 92.8,546.1Z" fill="#feeba2" stroke="#feeba2" stroke-width="0.6" shape-rendering="crispEdges"/><path d="M101.2,522.8 110.9,522.8 110.3,525.2 109.6,527.5 100.8,527.5 101,525.2ZM138.4,527.5 140.8,527.5 138.5,529.7 136,531.7 133.9,531.7 136.2,529.7ZM124.6,535.5 126.9,535.5 124.6,537.2 122.2,538.7 120.2,538.7 122.4,537.2ZM102.2,538.7 105.1,538.7 104.2,540.1 103.4,541.4 101.1,541.4 101.6,540.1ZM113.2,538.7 118,538.7 116,540.1 113.9,541.4 110,541.4 111.6,540.1ZM68.9,541.4 123.7,541.4 120.4,542.5 117,543.5 75.6,543.5 72.2,542.5Z" fill="#fedf88" stroke="#fedf88" stroke-width="0.6" shape-rendering="crispEdges"/><path d="M91.4,522.8 101.2,522.8 101,525.2 100.8,527.5 91.8,527.5 91.6,525.2ZM110.9,522.8 115.6,522.8 114.8,525.2 113.9,527.5 109.6,527.5 110.3,525.2ZM136,531.7 137.9,531.7 135.3,533.7 132.6,535.5 130.9,535.5 133.5,533.7ZM99.8,535.5 103.2,535.5 102.7,537.2 102.2,538.7 99.2,538.7 99.5,537.2ZM126.9,535.5 130.9,535.5 128.3,537.2 125.6,538.7 122.2,538.7 124.6,537.2ZM62.5,538.7 64.5,538.7 67.5,540.1 70.6,541.4 68.9,541.4 65.7,540.1ZM118,538.7 130.1,538.7 126.9,540.1 123.7,541.4 113.9,541.4 116,540.1Z" fill="#fece65" stroke="#fece65" stroke-width="0.6" shape-rendering="crispEdges"/><path d="M86.5,522.8 91.4,522.8 91.6,525.2 91.8,527.5 87.4,527.5 86.9,525.2ZM115.6,522.8 124.6,522.8 123.3,525.2 122,527.5 113.9,527.5 114.8,525.2ZM91.8,527.5 96.3,527.5 96.3,529.7 96.3,531.7 92.3,531.7 92.1,529.7ZM140.8,527.5 142.9,527.5 140.4,529.7 137.9,531.7 136,531.7 138.5,529.7ZM137.9,531.7 139.4,531.7 136.7,533.7 133.9,535.5 132.6,535.5 135.3,533.7ZM56.3,535.5 60,535.5 62.8,537.2 65.7,538.7 62.5,538.7 59.4,537.2ZM130.9,535.5 136.3,535.5 133.2,537.2 130.1,538.7 125.6,538.7 128.3,537.2ZM64.5,538.7 68.6,538.7 71.2,540.1 73.9,541.4 70.6,541.4 67.5,540.1ZM99.2,538.7 102.2,538.7 101.6,540.1 101.1,541.4 98.7,541.4 99,540.1Z" fill="#febb47" stroke="#febb47" stroke-width="0.6" shape-rendering="crispEdges"/><path d="M30.8,512.1 34.7,512.1 36.7,514.9 38.7,517.6 35,517.6 32.8,514.9ZM35,517.6 38.7,517.6 40.9,520.2 43.1,522.8 39.7,522.8 37.3,520.2ZM117.3,517.6 122.2,517.6 121.2,520.2 120.2,522.8 115.6,522.8 116.5,520.2ZM39.7,522.8 43.1,522.8 45.5,525.2 48,527.5 44.9,527.5 42.3,525.2ZM124.6,522.8 132.7,522.8 131,525.2 129.4,527.5 122,527.5 123.3,525.2ZM44.9,527.5 51.8,527.5 54.1,529.7 56.6,531.7 50.4,531.7 47.6,529.7ZM83,527.5 87.4,527.5 87.8,529.7 88.3,531.7 84.4,531.7 83.7,529.7ZM142.9,527.5 144.6,527.5 142.1,529.7 139.4,531.7 137.9,531.7 140.4,529.7ZM50.4,531.7 54.7,531.7 57.3,533.7 60,535.5 56.3,535.5 53.3,533.7ZM88.3,531.7 96.3,531.7 96.3,533.7 96.3,535.5 89.4,535.5 88.8,533.7ZM139.4,531.7 142.2,531.7 139.3,533.7 136.3,535.5 133.9,535.5 136.7,533.7ZM60,535.5 63.5,535.5 66,537.2 68.6,538.7 65.7,538.7 62.8,537.2ZM96.3,535.5 99.8,535.5 99.5,537.2 99.2,538.7 96.3,538.7 96.3,537.2ZM68.6,538.7 72.4,538.7 74.7,540.1 77,541.4 73.9,541.4 71.2,540.1Z" fill="#fea433" stroke="#fea433" stroke-width="0.6" shape-rendering="crispEdges"/><path d="M96.3,386.2 96.3,386.2 99.8,386.3 103.3,386.5 89.3,386.5 92.8,386.3ZM89.3,386.5 103.3,386.5 106.7,386.9 110.2,387.4 82.4,387.4 85.9,386.9ZM96.3,388.9 99.9,388.9 100.5,389.9 101.1,391 96.3,391 96.3,389.9ZM116.3,388.9 117,388.9 120.4,389.9 123.7,391 122.7,391 119.5,389.9ZM122.7,391 123.7,391 126.9,392.3 130.1,393.7 129,393.7 125.9,392.3ZM19,445.5 19.3,445.5 18.5,448.9 17.8,452.3 17.5,452.3 18.2,448.9ZM17.5,452.3 17.8,452.3 17.3,455.8 16.9,459.2 16.6,459.2 17,455.8ZM16.3,466.2 16.6,466.2 16.7,469.7 16.9,473.2 16.6,473.2 16.4,469.7ZM16.6,473.2 17.8,473.2 18.2,476.6 18.7,480.1 17.5,480.1 17,476.6ZM142,473.2 147.5,473.2 147.3,476.6 146.9,480.1 141.5,480.1 141.8,476.6ZM17.5,480.1 20.2,480.1 20.9,483.5 21.7,486.9 19,486.9 18.2,483.5ZM19,486.9 23.7,486.9 24.6,490.3 25.7,493.6 21.1,493.6 20,490.3ZM21.1,493.6 28.2,493.6 29.3,496.8 30.6,500 23.8,500 22.4,496.8ZM23.8,500 26.3,500 27.8,503.1 29.4,506.2 27,506.2 25.3,503.1ZM27,506.2 31.2,506.2 32.9,509.2 34.7,512.1 30.8,512.1 28.8,509.2ZM34.7,512.1 36.9,512.1 38.8,514.9 40.8,517.6 38.7,517.6 36.7,514.9ZM38.7,517.6 43.2,517.6 45.2,520.2 47.3,522.8 43.1,522.8 40.9,520.2ZM91,517.6 117.3,517.6 116.5,520.2 115.6,522.8 91.4,522.8 91.2,520.2ZM122.2,517.6 126.9,517.6 125.8,520.2 124.6,522.8 120.2,522.8 121.2,520.2ZM43.1,522.8 47.3,522.8 49.5,525.2 51.8,527.5 48,527.5 45.5,525.2ZM81.7,522.8 86.5,522.8 86.9,525.2 87.4,527.5 83,527.5 82.3,525.2ZM132.7,522.8 136.3,522.8 134.5,525.2 132.7,527.5 129.4,527.5 131,525.2ZM51.8,527.5 54.2,527.5 56.4,529.7 58.7,531.7 56.6,531.7 54.1,529.7ZM144.6,527.5 147.7,527.5 145,529.7 142.2,531.7 139.4,531.7 142.1,529.7ZM54.7,531.7 58.7,531.7 61.1,533.7 63.5,535.5 60,535.5 57.3,533.7ZM84.4,531.7 88.3,531.7 88.8,533.7 89.4,535.5 85.9,535.5 85.2,533.7ZM63.5,535.5 68,535.5 70.2,537.2 72.4,538.7 68.6,538.7 66,537.2ZM89.4,535.5 96.3,535.5 96.3,537.2 96.3,538.7 90.4,538.7 89.9,537.2ZM72.4,538.7 74.6,538.7 76.6,540.1 78.7,541.4 77,541.4 74.7,540.1ZM90.4,538.7 99.2,538.7 99,540.1 98.7,541.4 91.5,541.4 91,540.1Z" fill="#f98e23" stroke="#f98e23" stroke-width="0.6" shape-rendering="crispEdges"/><path d="M82.4,387.4 110.2,387.4 113.6,388.1 117,388.9 75.6,388.9 79,388.1ZM99.9,388.9 103.4,388.9 104.5,389.9 105.7,391 101.1,391 100.5,389.9ZM114.2,388.9 116.3,388.9 119.5,389.9 122.7,391 120,391 117.1,389.9ZM91.5,391 93.9,391 93.6,392.3 93.4,393.7 90.4,393.7 91,392.3ZM120,391 122.7,391 125.9,392.3 129,393.7 125.6,393.7 122.8,392.3ZM129.6,393.7 130.1,393.7 133.2,395.2 136.3,396.9 135.7,396.9 132.7,395.2ZM136.1,396.9 136.3,396.9 139.3,398.7 142.2,400.7 142,400.7 139.1,398.7ZM142,400.7 142.2,400.7 145,402.7 147.7,404.9 147.5,404.9 144.8,402.7ZM21.1,438.8 22.3,438.8 21.2,442.1 20.2,445.5 19,445.5 20,442.1ZM19.3,445.5 21.7,445.5 20.9,448.9 20.2,452.3 17.8,452.3 18.5,448.9ZM17.8,452.3 20.2,452.3 19.7,455.8 19.3,459.2 16.9,459.2 17.3,455.8ZM16.6,459.2 19.3,459.2 19.1,462.7 19,466.2 16.3,466.2 16.4,462.7ZM136.1,459.2 142,459.2 142.1,462.7 142.2,466.2 136.3,466.2 136.3,462.7ZM16.6,466.2 21.1,466.2 21.2,469.7 21.4,473.2 16.9,473.2 16.7,469.7ZM136.3,466.2 142.2,466.2 142.1,469.7 142,473.2 136.1,473.2 136.3,469.7ZM17.8,473.2 24.1,473.2 24.4,476.6 24.9,480.1 18.7,480.1 18.2,476.6ZM136.1,473.2 142,473.2 141.8,476.6 141.5,480.1 135.7,480.1 136,476.6ZM20.2,480.1 28.1,480.1 28.7,483.5 29.4,486.9 21.7,486.9 20.9,483.5ZM141.5,480.1 146.9,480.1 146.5,483.5 146,486.9 140.6,486.9 141.1,483.5ZM23.7,486.9 26.3,486.9 27.2,490.3 28.2,493.6 25.7,493.6 24.6,490.3ZM28.2,493.6 34.7,493.6 35.8,496.8 36.9,500 30.6,500 29.3,496.8ZM26.3,500 30.6,500 32,503.1 33.5,506.2 29.4,506.2 27.8,503.1ZM31.2,506.2 33.5,506.2 35.2,509.2 36.9,512.1 34.7,512.1 32.9,509.2ZM36.9,512.1 39.5,512.1 41.3,514.9 43.2,517.6 40.8,517.6 38.8,514.9ZM43.2,517.6 46.1,517.6 48,520.2 50,522.8 47.3,522.8 45.2,520.2ZM85.7,517.6 91,517.6 91.2,520.2 91.4,522.8 86.5,522.8 86.1,520.2ZM126.9,517.6 131.5,517.6 130.1,520.2 128.7,522.8 124.6,522.8 125.8,520.2ZM47.3,522.8 50,522.8 52,525.2 54.2,527.5 51.8,527.5 49.5,525.2ZM136.3,522.8 142.6,522.8 140.6,525.2 138.4,527.5 132.7,527.5 134.5,525.2ZM149.5,522.8 152.9,522.8 150.3,525.2 147.7,527.5 144.6,527.5 147.1,525.2ZM54.2,527.5 56.9,527.5 59,529.7 61.1,531.7 58.7,531.7 56.4,529.7ZM78.7,527.5 83,527.5 83.7,529.7 84.4,531.7 80.6,531.7 79.6,529.7ZM58.7,531.7 61.1,531.7 63.4,533.7 65.7,535.5 63.5,535.5 61.1,533.7ZM80.6,531.7 84.4,531.7 85.2,533.7 85.9,535.5 82.6,535.5 81.6,533.7ZM96.3,531.7 100.3,531.7 100,533.7 99.8,535.5 96.3,535.5 96.3,533.7ZM68,535.5 70.6,535.5 72.6,537.2 74.6,538.7 72.4,538.7 70.2,537.2ZM82.6,535.5 89.4,535.5 89.9,537.2 90.4,538.7 84.7,538.7 83.7,537.2ZM74.6,538.7 90.4,538.7 91,540.1 91.5,541.4 78.7,541.4 76.6,540.1Z" fill="#f07818" stroke="#f07818" stroke-width="0.6" shape-rendering="crispEdges"/><path d="M103.4,388.9 106.7,388.9 108.3,389.9 110,391 105.7,391 104.5,389.9ZM109.6,388.9 114.2,388.9 117.1,389.9 120,391 113.9,391 111.8,389.9ZM93.9,391 98.7,391 99,392.3 99.2,393.7 93.4,393.7 93.6,392.3ZM101.1,391 103.4,391 104.2,392.3 105.1,393.7 102.2,393.7 101.6,392.3ZM115.6,391 120,391 122.8,392.3 125.6,393.7 120.2,393.7 117.9,392.3ZM126.9,393.7 129.6,393.7 132.7,395.2 135.7,396.9 132.6,396.9 129.8,395.2ZM133.9,396.9 136.1,396.9 139.1,398.7 142,400.7 139.4,400.7 136.7,398.7ZM139.4,400.7 142,400.7 144.8,402.7 147.5,404.9 144.6,404.9 142.1,402.7ZM146.9,404.9 147.7,404.9 150.3,407.2 152.9,409.6 152,409.6 149.5,407.2ZM152,409.6 152.9,409.6 155.3,412.2 157.6,414.8 156.7,414.8 154.4,412.2ZM156.7,414.8 157.6,414.8 159.8,417.5 161.8,420.3 160.8,420.3 158.8,417.5ZM27,426.2 27.3,426.2 25.6,429.3 24.1,432.4 23.8,432.4 25.3,429.3ZM23.8,432.4 24.1,432.4 22.7,435.6 21.4,438.8 21.1,438.8 22.4,435.6ZM168.5,432.4 168.8,432.4 170.2,435.6 171.5,438.8 171.2,438.8 169.9,435.6ZM22.3,438.8 25.7,438.8 24.6,442.1 23.7,445.5 20.2,445.5 21.2,442.1ZM170.3,438.8 171.5,438.8 172.6,442.1 173.6,445.5 172.4,445.5 171.4,442.1ZM21.7,445.5 29.4,445.5 28.7,448.9 28.1,452.3 20.2,452.3 20.9,448.9ZM172.4,445.5 173.6,445.5 174.4,448.9 175.1,452.3 173.9,452.3 173.2,448.9ZM20.2,452.3 31.8,452.3 31.3,455.8 31,459.2 19.3,459.2 19.7,455.8ZM172.4,452.3 175.1,452.3 175.6,455.8 176,459.2 173.3,459.2 172.9,455.8ZM19.3,459.2 31,459.2 30.8,462.7 30.8,466.2 19,466.2 19.1,462.7ZM173.3,459.2 176,459.2 176.2,462.7 176.3,466.2 173.6,466.2 173.5,462.7ZM21.1,466.2 30.8,466.2 30.8,469.7 31,473.2 21.4,473.2 21.2,469.7ZM130.1,466.2 136.3,466.2 136.3,469.7 136.1,473.2 130,473.2 130.1,469.7ZM171.5,466.2 176.3,466.2 176.2,469.7 176,473.2 171.2,473.2 171.4,469.7ZM24.1,473.2 31,473.2 31.3,476.6 31.8,480.1 24.9,480.1 24.4,476.6ZM147.5,473.2 152.7,473.2 152.4,476.6 152,480.1 146.9,480.1 147.3,476.6ZM171.2,473.2 176,473.2 175.6,476.6 175.1,480.1 170.3,480.1 170.8,476.6ZM28.1,480.1 31.8,480.1 32.3,483.5 33,486.9 29.4,486.9 28.7,483.5ZM146.9,480.1 152,480.1 151.5,483.5 150.9,486.9 146,486.9 146.5,483.5ZM170.3,480.1 175.1,480.1 174.4,483.5 173.6,486.9 168.9,486.9 169.7,483.5ZM26.3,486.9 33,486.9 33.8,490.3 34.7,493.6 28.2,493.6 27.2,490.3ZM168.9,486.9 173.6,486.9 172.6,490.3 171.5,493.6 166.9,493.6 168,490.3ZM168.9,493.6 171.5,493.6 170.2,496.8 168.8,500 166.3,500 167.7,496.8ZM30.6,500 36.9,500 38.2,503.1 39.5,506.2 33.5,506.2 32,503.1ZM166.3,500 168.8,500 167.3,503.1 165.6,506.2 163.2,506.2 164.8,503.1ZM33.5,506.2 36.3,506.2 37.9,509.2 39.5,512.1 36.9,512.1 35.2,509.2ZM164.5,506.2 165.6,506.2 163.8,509.2 161.8,512.1 160.8,512.1 162.7,509.2ZM39.5,512.1 42.6,512.1 44.3,514.9 46.1,517.6 43.2,517.6 41.3,514.9ZM161.6,512.1 161.8,512.1 159.8,514.9 157.6,517.6 157.4,517.6 159.5,514.9ZM46.1,517.6 53,517.6 54.6,520.2 56.3,522.8 50,522.8 48,520.2ZM80.4,517.6 85.7,517.6 86.1,520.2 86.5,522.8 81.7,522.8 81,520.2ZM131.5,517.6 135.7,517.6 134.2,520.2 132.7,522.8 128.7,522.8 130.1,520.2ZM156.7,517.6 157.6,517.6 155.3,520.2 152.9,522.8 152,522.8 154.4,520.2ZM50,522.8 53,522.8 54.9,525.2 56.9,527.5 54.2,527.5 52,525.2ZM77,522.8 81.7,522.8 82.3,525.2 83,527.5 78.7,527.5 77.8,525.2ZM142.6,522.8 145.3,522.8 143.1,525.2 140.8,527.5 138.4,527.5 140.6,525.2ZM147.6,522.8 149.5,522.8 147.1,525.2 144.6,527.5 142.9,527.5 145.3,525.2ZM56.9,527.5 59.9,527.5 61.9,529.7 63.9,531.7 61.1,531.7 59,529.7ZM74.6,527.5 78.7,527.5 79.6,529.7 80.6,531.7 76.9,531.7 75.7,529.7ZM61.1,531.7 63.9,531.7 65.9,533.7 68,535.5 65.7,535.5 63.4,533.7ZM70,531.7 80.6,531.7 81.6,533.7 82.6,535.5 73.4,535.5 71.6,533.7ZM70.6,535.5 82.6,535.5 83.7,537.2 84.7,538.7 74.6,538.7 72.6,537.2Z" fill="#e1640e" stroke="#e1640e" stroke-width="0.6" shape-rendering="crispEdges"/><path d="M87.5,388.9 96.3,388.9 96.3,389.9 96.3,391 84.7,391 86.1,389.9ZM106.7,388.9 109.6,388.9 111.8,389.9 113.9,391 110,391 108.3,389.9ZM84.7,391 91.5,391 91,392.3 90.4,393.7 82,393.7 83.4,392.3ZM98.7,391 101.1,391 101.6,392.3 102.2,393.7 99.2,393.7 99,392.3ZM103.4,391 105.7,391 106.8,392.3 107.9,393.7 105.1,393.7 104.2,392.3ZM110,391 115.6,391 117.9,392.3 120.2,393.7 113.2,393.7 111.6,392.3ZM122.2,393.7 126.9,393.7 129.8,395.2 132.6,396.9 126.9,396.9 124.6,395.2ZM129.1,396.9 133.9,396.9 136.7,398.7 139.4,400.7 133.9,400.7 131.5,398.7ZM133.9,400.7 139.4,400.7 142.1,402.7 144.6,404.9 138.4,404.9 136.2,402.7ZM144.6,404.9 146.9,404.9 149.5,407.2 152,409.6 149.5,409.6 147.1,407.2ZM147.6,409.6 152,409.6 154.4,412.2 156.7,414.8 151.8,414.8 149.8,412.2ZM151.8,414.8 156.7,414.8 158.8,417.5 160.8,420.3 155.7,420.3 153.8,417.5ZM155.7,420.3 161.8,420.3 163.8,423.2 165.6,426.2 159.1,426.2 157.4,423.2ZM27.3,426.2 28.1,426.2 26.4,429.3 24.9,432.4 24.1,432.4 25.6,429.3ZM161.4,426.2 165.6,426.2 167.3,429.3 168.8,432.4 164.4,432.4 163,429.3ZM24.1,432.4 26.3,432.4 24.9,435.6 23.7,438.8 21.4,438.8 22.7,435.6ZM162,432.4 168.5,432.4 169.9,435.6 171.2,438.8 164.4,438.8 163.3,435.6ZM25.7,438.8 28.2,438.8 27.2,442.1 26.3,445.5 23.7,445.5 24.6,442.1ZM164.4,438.8 170.3,438.8 171.4,442.1 172.4,445.5 166.3,445.5 165.4,442.1ZM29.4,445.5 33,445.5 32.3,448.9 31.8,452.3 28.1,452.3 28.7,448.9ZM168.9,445.5 172.4,445.5 173.2,448.9 173.9,452.3 170.3,452.3 169.7,448.9ZM31.8,452.3 35.9,452.3 35.5,455.8 35.2,459.2 31,459.2 31.3,455.8ZM31,459.2 35.2,459.2 35.1,462.7 35,466.2 30.8,466.2 30.8,462.7ZM123.6,459.2 136.1,459.2 136.3,462.7 136.3,466.2 123.7,466.2 123.6,462.7ZM142,459.2 173.3,459.2 173.5,462.7 173.6,466.2 142.2,466.2 142.1,462.7ZM123.7,466.2 130.1,466.2 130.1,469.7 130,473.2 123.6,473.2 123.6,469.7ZM142.2,466.2 171.5,466.2 171.4,469.7 171.2,473.2 142,473.2 142.1,469.7ZM31,473.2 35.2,473.2 35.5,476.6 35.9,480.1 31.8,480.1 31.3,476.6ZM152.7,473.2 171.2,473.2 170.8,476.6 170.3,480.1 152,480.1 152.4,476.6ZM31.8,480.1 35.9,480.1 36.5,483.5 37.1,486.9 33,486.9 32.3,483.5ZM152,480.1 170.3,480.1 169.7,483.5 168.9,486.9 150.9,486.9 151.5,483.5ZM166.3,486.9 168.9,486.9 168,490.3 166.9,493.6 164.4,493.6 165.4,490.3ZM34.7,493.6 43.1,493.6 44,496.8 45,500 36.9,500 35.8,496.8ZM164.4,493.6 168.9,493.6 167.7,496.8 166.3,500 162,500 163.3,496.8ZM36.9,500 40.8,500 41.9,503.1 43.2,506.2 39.5,506.2 38.2,503.1ZM162,500 166.3,500 164.8,503.1 163.2,506.2 159.1,506.2 160.6,503.1ZM36.3,506.2 43.2,506.2 44.6,509.2 46.1,512.1 39.5,512.1 37.9,509.2ZM161.4,506.2 164.5,506.2 162.7,509.2 160.8,512.1 157.9,512.1 159.7,509.2ZM42.6,512.1 46.1,512.1 47.7,514.9 49.4,517.6 46.1,517.6 44.3,514.9ZM107.7,512.1 129.1,512.1 128,514.9 126.9,517.6 106.9,517.6 107.3,514.9ZM159.6,512.1 161.6,512.1 159.5,514.9 157.4,517.6 155.5,517.6 157.6,514.9ZM53,517.6 56.9,517.6 58.4,520.2 59.9,522.8 56.3,522.8 54.6,520.2ZM70.4,517.6 80.4,517.6 81,520.2 81.7,522.8 72.4,522.8 71.4,520.2ZM135.7,517.6 139.6,517.6 138,520.2 136.3,522.8 132.7,522.8 134.2,520.2ZM153.9,517.6 156.7,517.6 154.4,520.2 152,522.8 149.5,522.8 151.7,520.2ZM68,522.8 77,522.8 77.8,525.2 78.7,527.5 70.6,527.5 69.3,525.2ZM145.3,522.8 147.6,522.8 145.3,525.2 142.9,527.5 140.8,527.5 143.1,525.2ZM59.9,527.5 63.2,527.5 65,529.7 66.8,531.7 63.9,531.7 61.9,529.7ZM70.6,527.5 74.6,527.5 75.7,529.7 76.9,531.7 73.4,531.7 71.9,529.7ZM63.9,531.7 70,531.7 71.6,533.7 73.4,535.5 68,535.5 65.9,533.7Z" fill="#d05104" stroke="#d05104" stroke-width="0.6" shape-rendering="crispEdges"/><path d="M75.6,388.9 87.5,388.9 86.1,389.9 84.7,391 68.9,391 72.2,389.9ZM68.9,391 84.7,391 83.4,392.3 82,393.7 62.5,393.7 65.7,392.3ZM105.7,391 110,391 111.6,392.3 113.2,393.7 107.9,393.7 106.8,392.3ZM62.5,393.7 99.2,393.7 99.5,395.2 99.8,396.9 56.3,396.9 59.4,395.2ZM115.7,393.7 122.2,393.7 124.6,395.2 126.9,396.9 119.2,396.9 117.5,395.2ZM56.3,396.9 79.4,396.9 78.1,398.7 76.9,400.7 50.4,400.7 53.3,398.7ZM122,396.9 129.1,396.9 131.5,398.7 133.9,400.7 125.8,400.7 123.9,398.7ZM50.4,400.7 76.9,400.7 75.7,402.7 74.6,404.9 44.9,404.9 47.6,402.7ZM125.8,400.7 133.9,400.7 136.2,402.7 138.4,404.9 129.4,404.9 127.6,402.7ZM44.9,404.9 70.6,404.9 69.3,407.2 68,409.6 39.7,409.6 42.3,407.2ZM138.4,404.9 144.6,404.9 147.1,407.2 149.5,409.6 142.6,409.6 140.6,407.2ZM39.7,409.6 56.3,409.6 54.6,412.2 53,414.8 35,414.8 37.3,412.2ZM136.3,409.6 147.6,409.6 149.8,412.2 151.8,414.8 139.6,414.8 138,412.2ZM35,414.8 49.4,414.8 47.7,417.5 46.1,420.3 30.8,420.3 32.8,417.5ZM143.2,414.8 151.8,414.8 153.8,417.5 155.7,420.3 146.5,420.3 144.9,417.5ZM30.8,420.3 46.1,420.3 44.6,423.2 43.2,426.2 27,426.2 28.8,423.2ZM142.6,420.3 155.7,420.3 157.4,423.2 159.1,426.2 145.3,426.2 144,423.2ZM28.1,426.2 33.5,426.2 32,429.3 30.6,432.4 24.9,432.4 26.4,429.3ZM156.3,426.2 161.4,426.2 163,429.3 164.4,432.4 159.1,432.4 157.8,429.3ZM26.3,432.4 30.6,432.4 29.3,435.6 28.2,438.8 23.7,438.8 24.9,435.6ZM33,445.5 37.1,445.5 36.5,448.9 35.9,452.3 31.8,452.3 32.3,448.9ZM35.9,452.3 63,452.3 62.8,455.8 62.6,459.2 35.2,459.2 35.5,455.8ZM116.7,452.3 172.4,452.3 172.9,455.8 173.3,459.2 116.9,459.2 116.8,455.8ZM35.2,459.2 62.6,459.2 62.5,462.7 62.5,466.2 35,466.2 35.1,462.7ZM30.8,466.2 75.6,466.2 75.6,469.7 75.7,473.2 31,473.2 30.8,469.7ZM35.2,473.2 82.5,473.2 82.5,476.6 82.6,480.1 35.9,480.1 35.5,476.6ZM35.9,480.1 82.6,480.1 82.7,483.5 82.9,486.9 37.1,486.9 36.5,483.5ZM33,486.9 41.7,486.9 42.3,490.3 43.1,493.6 34.7,493.6 33.8,490.3ZM46.6,486.9 76.3,486.9 76.6,490.3 76.8,493.6 48,493.6 47.3,490.3ZM150.9,486.9 166.3,486.9 165.4,490.3 164.4,493.6 149.5,493.6 150.3,490.3ZM48,493.6 70.6,493.6 71,496.8 71.5,500 49.7,500 48.8,496.8ZM149.5,493.6 164.4,493.6 163.3,496.8 162,500 147.6,500 148.6,496.8ZM40.8,500 45,500 46.1,503.1 47.3,506.2 43.2,506.2 41.9,503.1ZM49.7,500 65.7,500 66.3,503.1 67,506.2 51.8,506.2 50.7,503.1ZM159.1,500 162,500 160.6,503.1 159.1,506.2 156.3,506.2 157.8,503.1ZM43.2,506.2 47.3,506.2 48.6,509.2 50,512.1 46.1,512.1 44.6,509.2ZM56.6,506.2 67,506.2 67.8,509.2 68.6,512.1 58.7,512.1 57.6,509.2ZM114.2,506.2 125.6,506.2 124.8,509.2 124,512.1 113.3,512.1 113.8,509.2ZM156.3,506.2 161.4,506.2 159.7,509.2 157.9,512.1 153.1,512.1 154.7,509.2ZM46.1,512.1 50,512.1 51.4,514.9 53,517.6 49.4,517.6 47.7,514.9ZM68.6,512.1 79.3,512.1 79.9,514.9 80.4,517.6 70.4,517.6 69.5,514.9ZM84.9,512.1 107.7,512.1 107.3,514.9 106.9,517.6 85.7,517.6 85.3,514.9ZM129.1,512.1 133.9,512.1 132.7,514.9 131.5,517.6 126.9,517.6 128,514.9ZM155.7,512.1 159.6,512.1 157.6,514.9 155.5,517.6 151.8,517.6 153.8,514.9ZM65.7,517.6 70.4,517.6 71.4,520.2 72.4,522.8 68,522.8 66.8,520.2ZM139.6,517.6 143.2,517.6 141.5,520.2 139.6,522.8 136.3,522.8 138,520.2ZM149.4,517.6 153.9,517.6 151.7,520.2 149.5,522.8 145.3,522.8 147.4,520.2ZM53,522.8 56.3,522.8 58.1,525.2 59.9,527.5 56.9,527.5 54.9,525.2ZM63.9,522.8 68,522.8 69.3,525.2 70.6,527.5 66.8,527.5 65.3,525.2ZM87.4,527.5 91.8,527.5 92.1,529.7 92.3,531.7 88.3,531.7 87.8,529.7Z" fill="#b84203" stroke="#b84203" stroke-width="0.6" shape-rendering="crispEdges"/><path d="M99.2,393.7 105.1,393.7 105.9,395.2 106.7,396.9 99.8,396.9 99.5,395.2ZM110.6,393.7 115.7,393.7 117.5,395.2 119.2,396.9 113.2,396.9 111.9,395.2ZM79.4,396.9 82.6,396.9 81.6,398.7 80.6,400.7 76.9,400.7 78.1,398.7ZM119.2,396.9 122,396.9 123.9,398.7 125.8,400.7 122.6,400.7 121,398.7ZM122.6,400.7 125.8,400.7 127.6,402.7 129.4,404.9 125.8,404.9 124.2,402.7ZM70.6,404.9 74.6,404.9 73.5,407.2 72.4,409.6 68,409.6 69.3,407.2ZM122,404.9 138.4,404.9 140.6,407.2 142.6,409.6 124.6,409.6 123.3,407.2ZM120.2,409.6 136.3,409.6 138,412.2 139.6,414.8 122.2,414.8 121.2,412.2ZM49.4,414.8 53,414.8 51.4,417.5 50,420.3 46.1,420.3 47.7,417.5ZM126.9,414.8 143.2,414.8 144.9,417.5 146.5,420.3 129.1,420.3 128,417.5ZM46.1,420.3 63.5,420.3 62.6,423.2 61.7,426.2 43.2,426.2 44.6,423.2ZM124,420.3 142.6,420.3 144,423.2 145.3,426.2 125.6,426.2 124.8,423.2ZM33.5,426.2 39.5,426.2 38.2,429.3 36.9,432.4 30.6,432.4 32,429.3ZM47.3,426.2 72.6,426.2 72,429.3 71.5,432.4 45,432.4 46.1,429.3ZM120,426.2 156.3,426.2 157.8,429.3 159.1,432.4 121.1,432.4 120.6,429.3ZM45,432.4 71.5,432.4 71,435.6 70.6,438.8 43.1,438.8 44,435.6ZM115.1,432.4 162,432.4 163.3,435.6 164.4,438.8 115.8,438.8 115.4,435.6ZM28.2,438.8 31.2,438.8 30.2,442.1 29.4,445.5 26.3,445.5 27.2,442.1ZM48,438.8 76.8,438.8 76.6,442.1 76.3,445.5 46.6,445.5 47.3,442.1ZM115.8,438.8 164.4,438.8 165.4,442.1 166.3,445.5 116.3,445.5 116,442.1ZM37.1,445.5 82.9,445.5 82.7,448.9 82.6,452.3 35.9,452.3 36.5,448.9ZM122.7,445.5 168.9,445.5 169.7,448.9 170.3,452.3 123.2,452.3 123,448.9ZM63,452.3 82.6,452.3 82.5,455.8 82.5,459.2 62.6,459.2 62.8,455.8ZM62.6,459.2 82.5,459.2 82.4,462.7 82.4,466.2 62.5,466.2 62.5,462.7ZM75.6,466.2 82.4,466.2 82.4,469.7 82.5,473.2 75.7,473.2 75.6,469.7ZM123.6,473.2 136.1,473.2 136,476.6 135.7,480.1 123.2,480.1 123.4,476.6ZM123.2,480.1 141.5,480.1 141.1,483.5 140.6,486.9 122.7,486.9 123,483.5ZM41.7,486.9 46.6,486.9 47.3,490.3 48,493.6 43.1,493.6 42.3,490.3ZM129,486.9 150.9,486.9 150.3,490.3 149.5,493.6 128.1,493.6 128.5,490.3ZM43.1,493.6 48,493.6 48.8,496.8 49.7,500 45,500 44,496.8ZM128.1,493.6 149.5,493.6 148.6,496.8 147.6,500 126.9,500 127.5,496.8ZM45,500 49.7,500 50.7,503.1 51.8,506.2 47.3,506.2 46.1,503.1ZM65.7,500 71.5,500 72,503.1 72.6,506.2 67,506.2 66.3,503.1ZM115.1,500 126.9,500 126.3,503.1 125.6,506.2 114.2,506.2 114.7,503.1ZM147.6,500 159.1,500 157.8,503.1 156.3,506.2 145.3,506.2 146.5,503.1ZM47.3,506.2 56.6,506.2 57.6,509.2 58.7,512.1 50,512.1 48.6,509.2ZM67,506.2 78.4,506.2 78.8,509.2 79.3,512.1 68.6,512.1 67.8,509.2ZM96.3,506.2 114.2,506.2 113.8,509.2 113.3,512.1 96.3,512.1 96.3,509.2ZM125.6,506.2 136,506.2 135,509.2 133.9,512.1 124,512.1 124.8,509.2ZM153.1,506.2 156.3,506.2 154.7,509.2 153.1,512.1 150,512.1 151.6,509.2ZM50,512.1 68.6,512.1 69.5,514.9 70.4,517.6 53,517.6 51.4,514.9ZM79.3,512.1 84.9,512.1 85.3,514.9 85.7,517.6 80.4,517.6 79.9,514.9ZM133.9,512.1 138.4,512.1 137.1,514.9 135.7,517.6 131.5,517.6 132.7,514.9ZM153.1,512.1 155.7,512.1 153.8,514.9 151.8,517.6 149.4,517.6 151.3,514.9ZM56.9,517.6 65.7,517.6 66.8,520.2 68,522.8 59.9,522.8 58.4,520.2ZM143.2,517.6 146.5,517.6 144.6,520.2 142.6,522.8 139.6,522.8 141.5,520.2ZM56.3,522.8 63.9,522.8 65.3,525.2 66.8,527.5 59.9,527.5 58.1,525.2ZM63.2,527.5 70.6,527.5 71.9,529.7 73.4,531.7 66.8,531.7 65,529.7Z" fill="#9c3604" stroke="#9c3604" stroke-width="0.6" shape-rendering="crispEdges"/><path d="M105.1,393.7 110.6,393.7 111.9,395.2 113.2,396.9 106.7,396.9 105.9,395.2ZM82.6,396.9 103.2,396.9 103.8,398.7 104.3,400.7 80.6,400.7 81.6,398.7ZM113.2,396.9 119.2,396.9 121,398.7 122.6,400.7 115.7,400.7 114.5,398.7ZM76.9,400.7 96.3,400.7 96.3,402.7 96.3,404.9 74.6,404.9 75.7,402.7ZM119.2,400.7 122.6,400.7 124.2,402.7 125.8,404.9 122,404.9 120.7,402.7ZM74.6,404.9 87.4,404.9 86.9,407.2 86.5,409.6 72.4,409.6 73.5,407.2ZM118,404.9 122,404.9 123.3,407.2 124.6,409.6 120.2,409.6 119.1,407.2ZM56.3,409.6 81.7,409.6 81,412.2 80.4,414.8 53,414.8 54.6,412.2ZM115.6,409.6 120.2,409.6 121.2,412.2 122.2,414.8 117.3,414.8 116.5,412.2ZM53,414.8 80.4,414.8 79.9,417.5 79.3,420.3 50,420.3 51.4,417.5ZM117.3,414.8 126.9,414.8 128,417.5 129.1,420.3 118.7,420.3 118,417.5ZM63.5,420.3 79.3,420.3 78.8,423.2 78.4,426.2 61.7,426.2 62.6,423.2ZM118.7,420.3 124,420.3 124.8,423.2 125.6,426.2 120,426.2 119.4,423.2ZM39.5,426.2 47.3,426.2 46.1,429.3 45,432.4 36.9,432.4 38.2,429.3ZM72.6,426.2 78.4,426.2 77.9,429.3 77.5,432.4 71.5,432.4 72,429.3ZM30.6,432.4 45,432.4 44,435.6 43.1,438.8 28.2,438.8 29.3,435.6ZM71.5,432.4 77.5,432.4 77.2,435.6 76.8,438.8 70.6,438.8 71,435.6ZM108.9,432.4 115.1,432.4 115.4,435.6 115.8,438.8 109.4,438.8 109.1,435.6ZM31.2,438.8 48,438.8 47.3,442.1 46.6,445.5 29.4,445.5 30.2,442.1ZM76.8,438.8 89.7,438.8 89.7,442.1 89.6,445.5 76.3,445.5 76.6,442.1ZM116.3,445.5 122.7,445.5 123,448.9 123.2,452.3 116.7,452.3 116.5,448.9ZM110,452.3 116.7,452.3 116.8,455.8 116.9,459.2 110.1,459.2 110.1,455.8ZM82.5,459.2 89.4,459.2 89.3,462.7 89.3,466.2 82.4,466.2 82.4,462.7ZM116.9,459.2 123.6,459.2 123.6,462.7 123.7,466.2 117,466.2 117,462.7ZM117,466.2 123.7,466.2 123.6,469.7 123.6,473.2 116.9,473.2 117,469.7ZM116.9,473.2 123.6,473.2 123.4,476.6 123.2,480.1 116.7,480.1 116.8,476.6ZM82.6,480.1 89.4,480.1 89.5,483.5 89.6,486.9 82.9,486.9 82.7,483.5ZM110,480.1 123.2,480.1 123,483.5 122.7,486.9 109.7,486.9 109.9,483.5ZM76.3,486.9 89.6,486.9 89.7,490.3 89.7,493.6 76.8,493.6 76.6,490.3ZM109.7,486.9 129,486.9 128.5,490.3 128.1,493.6 109.4,493.6 109.5,490.3ZM70.6,493.6 83.2,493.6 83.5,496.8 83.7,500 71.5,500 71,496.8ZM96.3,493.6 128.1,493.6 127.5,496.8 126.9,500 96.3,500 96.3,496.8ZM71.5,500 115.1,500 114.7,503.1 114.2,506.2 72.6,506.2 72,503.1ZM126.9,500 147.6,500 146.5,503.1 145.3,506.2 125.6,506.2 126.3,503.1ZM78.4,506.2 96.3,506.2 96.3,509.2 96.3,512.1 79.3,512.1 78.8,509.2ZM136,506.2 145.3,506.2 144,509.2 142.6,512.1 133.9,512.1 135,509.2ZM138.4,512.1 146.5,512.1 144.9,514.9 143.2,517.6 135.7,517.6 137.1,514.9ZM150,512.1 153.1,512.1 151.3,514.9 149.4,517.6 146.5,517.6 148.3,514.9ZM146.5,517.6 149.4,517.6 147.4,520.2 145.3,522.8 142.6,522.8 144.6,520.2Z" fill="#812d05" stroke="#812d05" stroke-width="0.6" shape-rendering="crispEdges"/><path d="M103.2,396.9 113.2,396.9 114.5,398.7 115.7,400.7 104.3,400.7 103.8,398.7ZM96.3,400.7 119.2,400.7 120.7,402.7 122,404.9 96.3,404.9 96.3,402.7ZM87.4,404.9 118,404.9 119.1,407.2 120.2,409.6 86.5,409.6 86.9,407.2ZM81.7,409.6 115.6,409.6 116.5,412.2 117.3,414.8 80.4,414.8 81,412.2ZM80.4,414.8 117.3,414.8 118,417.5 118.7,420.3 79.3,420.3 79.9,417.5ZM79.3,420.3 118.7,420.3 119.4,423.2 120,426.2 78.4,426.2 78.8,423.2ZM78.4,426.2 120,426.2 120.6,429.3 121.1,432.4 77.5,432.4 77.9,429.3ZM77.5,432.4 108.9,432.4 109.1,435.6 109.4,438.8 76.8,438.8 77.2,435.6ZM89.7,438.8 115.8,438.8 116,442.1 116.3,445.5 89.6,445.5 89.7,442.1ZM82.9,445.5 116.3,445.5 116.5,448.9 116.7,452.3 82.6,452.3 82.7,448.9ZM82.6,452.3 110,452.3 110.1,455.8 110.1,459.2 82.5,459.2 82.5,455.8ZM89.4,459.2 116.9,459.2 117,462.7 117,466.2 89.3,466.2 89.3,462.7ZM82.4,466.2 117,466.2 117,469.7 116.9,473.2 82.5,473.2 82.4,469.7ZM82.5,473.2 116.9,473.2 116.8,476.6 116.7,480.1 82.6,480.1 82.5,476.6ZM89.4,480.1 110,480.1 109.9,483.5 109.7,486.9 89.6,486.9 89.5,483.5ZM89.6,486.9 109.7,486.9 109.5,490.3 109.4,493.6 89.7,493.6 89.7,490.3ZM83.2,493.6 96.3,493.6 96.3,496.8 96.3,500 83.7,500 83.5,496.8ZM145.3,506.2 153.1,506.2 151.6,509.2 150,512.1 142.6,512.1 144,509.2ZM146.5,512.1 150,512.1 148.3,514.9 146.5,517.6 143.2,517.6 144.9,514.9Z" fill="#662506" stroke="#662506" stroke-width="0.6" shape-rendering="crispEdges"/>
<polygon points="79.9,396.4 102.8,396.4 105.4,408.4 73.5,408.4" fill="none" stroke="#1b9e77" stroke-width="3.2" stroke-linejoin="miter"/>
<use href="#land" x="96.3" y="466.2"/>
</g>
<circle cx="96.3" cy="466.2" r="80.0" fill="none" stroke="#b0b0b0" stroke-width="0.7"/>
<text transform="translate(96.1,189.3) rotate(0.03)" x="-24.3" y="0" font-size="11.12" fill="#262626" stroke="#262626" stroke-width="0.22" textLength="48.5" lengthAdjust="spacingAndGlyphs">HadSST4</text>
<text transform="translate(95.8,381.9) rotate(0.03)" x="-28.9" y="0" font-size="11.12" fill="#262626" stroke="#262626" stroke-width="0.22" textLength="57.7" lengthAdjust="spacingAndGlyphs">HadCRUT5</text>
<text transform="translate(15.3,8.8) rotate(0.03)" x="0" y="0" font-size="10.3" fill="#262626" font-weight="bold" textLength="11.3" lengthAdjust="spacingAndGlyphs">a)</text>
<text transform="translate(-0.5,201.1) rotate(0.03)" x="0" y="0" font-size="10.3" fill="#262626" font-weight="bold" textLength="10.5" lengthAdjust="spacingAndGlyphs">c)</text>
<text transform="translate(-0.5,393.8) rotate(0.03)" x="0" y="0" font-size="10.3" fill="#262626" font-weight="bold" textLength="11.4" lengthAdjust="spacingAndGlyphs">e)</text>
<text transform="translate(276.6,8.8) rotate(0.03)" x="0" y="0" font-size="10.3" fill="#262626" font-weight="bold" textLength="11.7" lengthAdjust="spacingAndGlyphs">b)</text>
<text transform="translate(276.6,201.3) rotate(0.03)" x="0" y="0" font-size="10.3" fill="#262626" font-weight="bold" textLength="11.7" lengthAdjust="spacingAndGlyphs">d)</text>
<text transform="translate(276.9,394.2) rotate(0.03)" x="0" y="0" font-size="10.3" fill="#262626" font-weight="bold" textLength="8.9" lengthAdjust="spacingAndGlyphs">f)</text>
<polygon points="193.4,154.2 200.9,154.2 197.2,161.5" fill="#f7fbff"/><rect x="193.4" y="133.33" width="7.5" height="21.02" fill="#deebf7"/><rect x="193.4" y="112.46" width="7.5" height="21.02" fill="#c6dbef"/><rect x="193.4" y="91.59" width="7.5" height="21.02" fill="#9dcae1"/><rect x="193.4" y="70.71" width="7.5" height="21.02" fill="#6aaed6"/><rect x="193.4" y="49.84" width="7.5" height="21.02" fill="#4292c6"/><rect x="193.4" y="28.97" width="7.5" height="21.02" fill="#2171b5"/><rect x="193.4" y="8.1" width="7.5" height="21.02" fill="#08519c"/><polygon points="193.4,8.1 200.9,8.1 197.2,0.8" fill="#08306b"/><polygon points="193.4,8.1 197.2,0.8 200.9,8.1 200.9,154.2 197.2,161.5 193.4,154.2" fill="none" stroke="#cfcfcf" stroke-width="0.8"/><line x1="197.5" y1="8.1" x2="200.9" y2="8.1" stroke="#4d4d4d" stroke-width="0.8"/><text transform="translate(204.5,11.6) rotate(0.03)" x="0" y="0" font-size="9.89" fill="#262626" stroke="#262626" stroke-width="0.22" textLength="33.7" lengthAdjust="spacingAndGlyphs">1000.0</text><line x1="197.5" y1="29" x2="200.9" y2="29" stroke="#4d4d4d" stroke-width="0.8"/><text transform="translate(204.5,32.4) rotate(0.03)" x="0" y="0" font-size="9.89" fill="#262626" stroke="#262626" stroke-width="0.22" textLength="27.6" lengthAdjust="spacingAndGlyphs">719.7</text><line x1="197.5" y1="49.8" x2="200.9" y2="49.8" stroke="#4d4d4d" stroke-width="0.8"/><text transform="translate(204.5,53.3) rotate(0.03)" x="0" y="0" font-size="9.89" fill="#262626" stroke="#262626" stroke-width="0.22" textLength="27.6" lengthAdjust="spacingAndGlyphs">517.9</text><line x1="197.5" y1="70.7" x2="200.9" y2="70.7" stroke="#4d4d4d" stroke-width="0.8"/><text transform="translate(204.5,74.2) rotate(0.03)" x="0" y="0" font-size="9.89" fill="#262626" stroke="#262626" stroke-width="0.22" textLength="27.6" lengthAdjust="spacingAndGlyphs">372.8</text><line x1="197.5" y1="91.6" x2="200.9" y2="91.6" stroke="#4d4d4d" stroke-width="0.8"/><text transform="translate(204.5,95) rotate(0.03)" x="0" y="0" font-size="9.89" fill="#262626" stroke="#262626" stroke-width="0.22" textLength="27.6" lengthAdjust="spacingAndGlyphs">268.3</text><line x1="197.5" y1="112.5" x2="200.9" y2="112.5" stroke="#4d4d4d" stroke-width="0.8"/><text transform="translate(204.5,115.9) rotate(0.03)" x="0" y="0" font-size="9.89" fill="#262626" stroke="#262626" stroke-width="0.22" textLength="27.6" lengthAdjust="spacingAndGlyphs">193.1</text><line x1="197.5" y1="133.3" x2="200.9" y2="133.3" stroke="#4d4d4d" stroke-width="0.8"/><text transform="translate(204.5,136.8) rotate(0.03)" x="0" y="0" font-size="9.89" fill="#262626" stroke="#262626" stroke-width="0.22" textLength="27.6" lengthAdjust="spacingAndGlyphs">138.9</text><line x1="197.5" y1="154.2" x2="200.9" y2="154.2" stroke="#4d4d4d" stroke-width="0.8"/><text transform="translate(204.5,157.6) rotate(0.03)" x="0" y="0" font-size="9.89" fill="#262626" stroke="#262626" stroke-width="0.22" textLength="27.6" lengthAdjust="spacingAndGlyphs">100.0</text><text transform="translate(250.8,81) rotate(-90)" x="-49.7" y="0" font-size="10.19" fill="#262626" stroke="#262626" stroke-width="0.22" textLength="99.4" lengthAdjust="spacingAndGlyphs">Observations/month</text>
<rect x="193.4" y="332.06" width="7.5" height="21.99" fill="#ffffe5"/><rect x="193.4" y="310.21" width="7.5" height="21.99" fill="#fff4b6"/><rect x="193.4" y="288.37" width="7.5" height="21.99" fill="#feda7e"/><rect x="193.4" y="266.53" width="7.5" height="21.99" fill="#feb23f"/><rect x="193.4" y="244.69" width="7.5" height="21.99" fill="#f4811d"/><rect x="193.4" y="222.84" width="7.5" height="21.99" fill="#d55607"/><rect x="193.4" y="201" width="7.5" height="21.99" fill="#a03704"/><polygon points="193.4,201 200.9,201 197.2,193.7" fill="#662506"/><polygon points="193.4,201 197.2,193.7 200.9,201 200.9,353.9 193.4,353.9" fill="none" stroke="#cfcfcf" stroke-width="0.8"/><line x1="197.5" y1="201" x2="200.9" y2="201" stroke="#4d4d4d" stroke-width="0.8"/><text transform="translate(204.5,204.4) rotate(0.03)" x="0" y="0" font-size="9.89" fill="#262626" stroke="#262626" stroke-width="0.22" textLength="18.4" lengthAdjust="spacingAndGlyphs">147</text><line x1="197.5" y1="222.8" x2="200.9" y2="222.8" stroke="#4d4d4d" stroke-width="0.8"/><text transform="translate(204.5,226.3) rotate(0.03)" x="0" y="0" font-size="9.89" fill="#262626" stroke="#262626" stroke-width="0.22" textLength="18.4" lengthAdjust="spacingAndGlyphs">126</text><line x1="197.5" y1="244.7" x2="200.9" y2="244.7" stroke="#4d4d4d" stroke-width="0.8"/><text transform="translate(204.5,248.1) rotate(0.03)" x="0" y="0" font-size="9.89" fill="#262626" stroke="#262626" stroke-width="0.22" textLength="18.4" lengthAdjust="spacingAndGlyphs">105</text><line x1="197.5" y1="266.5" x2="200.9" y2="266.5" stroke="#4d4d4d" stroke-width="0.8"/><text transform="translate(204.5,270) rotate(0.03)" x="0" y="0" font-size="9.89" fill="#262626" stroke="#262626" stroke-width="0.22" textLength="12.2" lengthAdjust="spacingAndGlyphs">84</text><line x1="197.5" y1="288.4" x2="200.9" y2="288.4" stroke="#4d4d4d" stroke-width="0.8"/><text transform="translate(204.5,291.8) rotate(0.03)" x="0" y="0" font-size="9.89" fill="#262626" stroke="#262626" stroke-width="0.22" textLength="12.2" lengthAdjust="spacingAndGlyphs">63</text><line x1="197.5" y1="310.2" x2="200.9" y2="310.2" stroke="#4d4d4d" stroke-width="0.8"/><text transform="translate(204.5,313.6) rotate(0.03)" x="0" y="0" font-size="9.89" fill="#262626" stroke="#262626" stroke-width="0.22" textLength="12.2" lengthAdjust="spacingAndGlyphs">42</text><line x1="197.5" y1="332" x2="200.9" y2="332" stroke="#4d4d4d" stroke-width="0.8"/><text transform="translate(204.5,335.5) rotate(0.03)" x="0" y="0" font-size="9.89" fill="#262626" stroke="#262626" stroke-width="0.22" textLength="12.2" lengthAdjust="spacingAndGlyphs">21</text><line x1="197.5" y1="353.9" x2="200.9" y2="353.9" stroke="#4d4d4d" stroke-width="0.8"/><text transform="translate(204.5,357.3) rotate(0.03)" x="0" y="0" font-size="9.89" fill="#262626" stroke="#262626" stroke-width="0.22" textLength="6.1" lengthAdjust="spacingAndGlyphs">0</text><text transform="translate(234,273.4) rotate(-90)" x="-89.5" y="0" font-size="10.19" fill="#262626" stroke="#262626" stroke-width="0.22" textLength="179.1" lengthAdjust="spacingAndGlyphs">Number of years with complete data</text>
<polygon points="193.4,539.2 200.9,539.2 197.2,546.5" fill="#ffffe5"/><rect x="193.4" y="528.81" width="7.5" height="10.54" fill="#fffbcf"/><rect x="193.4" y="518.41" width="7.5" height="10.54" fill="#fff6b9"/><rect x="193.4" y="508.02" width="7.5" height="10.54" fill="#feeba2"/><rect x="193.4" y="497.63" width="7.5" height="10.54" fill="#fedf88"/><rect x="193.4" y="487.24" width="7.5" height="10.54" fill="#fece65"/><rect x="193.4" y="476.84" width="7.5" height="10.54" fill="#febb47"/><rect x="193.4" y="466.45" width="7.5" height="10.54" fill="#fea433"/><rect x="193.4" y="456.06" width="7.5" height="10.54" fill="#f98e23"/><rect x="193.4" y="445.66" width="7.5" height="10.54" fill="#f07818"/><rect x="193.4" y="435.27" width="7.5" height="10.54" fill="#e1640e"/><rect x="193.4" y="424.88" width="7.5" height="10.54" fill="#d05104"/><rect x="193.4" y="414.49" width="7.5" height="10.54" fill="#b84203"/><rect x="193.4" y="404.09" width="7.5" height="10.54" fill="#9c3604"/><rect x="193.4" y="393.7" width="7.5" height="10.54" fill="#812d05"/><polygon points="193.4,393.7 200.9,393.7 197.2,386.4" fill="#662506"/><polygon points="193.4,393.7 197.2,386.4 200.9,393.7 200.9,539.2 197.2,546.5 193.4,539.2" fill="none" stroke="#cfcfcf" stroke-width="0.8"/><line x1="197.5" y1="393.7" x2="200.9" y2="393.7" stroke="#4d4d4d" stroke-width="0.8"/><text transform="translate(204.5,397.1) rotate(0.03)" x="0" y="0" font-size="9.89" fill="#262626" stroke="#262626" stroke-width="0.22" textLength="18.4" lengthAdjust="spacingAndGlyphs">170</text><line x1="197.5" y1="414.5" x2="200.9" y2="414.5" stroke="#4d4d4d" stroke-width="0.8"/><text transform="translate(204.5,417.9) rotate(0.03)" x="0" y="0" font-size="9.89" fill="#262626" stroke="#262626" stroke-width="0.22" textLength="18.4" lengthAdjust="spacingAndGlyphs">150</text><line x1="197.5" y1="435.3" x2="200.9" y2="435.3" stroke="#4d4d4d" stroke-width="0.8"/><text transform="translate(204.5,438.7) rotate(0.03)" x="0" y="0" font-size="9.89" fill="#262626" stroke="#262626" stroke-width="0.22" textLength="18.4" lengthAdjust="spacingAndGlyphs">130</text><line x1="197.5" y1="456.1" x2="200.9" y2="456.1" stroke="#4d4d4d" stroke-width="0.8"/><text transform="translate(204.5,459.5) rotate(0.03)" x="0" y="0" font-size="9.89" fill="#262626" stroke="#262626" stroke-width="0.22" textLength="18.4" lengthAdjust="spacingAndGlyphs">110</text><line x1="197.5" y1="476.9" x2="200.9" y2="476.9" stroke="#4d4d4d" stroke-width="0.8"/><text transform="translate(204.5,480.3) rotate(0.03)" x="0" y="0" font-size="9.89" fill="#262626" stroke="#262626" stroke-width="0.22" textLength="12.2" lengthAdjust="spacingAndGlyphs">90</text><line x1="197.5" y1="497.6" x2="200.9" y2="497.6" stroke="#4d4d4d" stroke-width="0.8"/><text transform="translate(204.5,501.1) rotate(0.03)" x="0" y="0" font-size="9.89" fill="#262626" stroke="#262626" stroke-width="0.22" textLength="12.2" lengthAdjust="spacingAndGlyphs">70</text><line x1="197.5" y1="518.4" x2="200.9" y2="518.4" stroke="#4d4d4d" stroke-width="0.8"/><text transform="translate(204.5,521.9) rotate(0.03)" x="0" y="0" font-size="9.89" fill="#262626" stroke="#262626" stroke-width="0.22" textLength="12.2" lengthAdjust="spacingAndGlyphs">50</text><line x1="197.5" y1="539.2" x2="200.9" y2="539.2" stroke="#4d4d4d" stroke-width="0.8"/><text transform="translate(204.5,542.7) rotate(0.03)" x="0" y="0" font-size="9.89" fill="#262626" stroke="#262626" stroke-width="0.22" textLength="12.2" lengthAdjust="spacingAndGlyphs">30</text><line x1="199" y1="404.1" x2="200.9" y2="404.1" stroke="#6d6d6d" stroke-width="0.6"/><line x1="199" y1="424.9" x2="200.9" y2="424.9" stroke="#6d6d6d" stroke-width="0.6"/><line x1="199" y1="445.7" x2="200.9" y2="445.7" stroke="#6d6d6d" stroke-width="0.6"/><line x1="199" y1="466.5" x2="200.9" y2="466.5" stroke="#6d6d6d" stroke-width="0.6"/><line x1="199" y1="487.3" x2="200.9" y2="487.3" stroke="#6d6d6d" stroke-width="0.6"/><line x1="199" y1="508" x2="200.9" y2="508" stroke="#6d6d6d" stroke-width="0.6"/><line x1="199" y1="528.8" x2="200.9" y2="528.8" stroke="#6d6d6d" stroke-width="0.6"/><text transform="translate(234,474) rotate(-90)" x="-89.5" y="0" font-size="10.19" fill="#262626" stroke="#262626" stroke-width="0.22" textLength="179.1" lengthAdjust="spacingAndGlyphs">Number of years with complete data</text>
<clipPath id="cb"><rect x="309.7" y="1.0" width="333.2" height="160.5"/></clipPath>
<path d="M309.7,161.5 V1.0 H642.9" fill="none" stroke="#cfcfcf" stroke-width="1"/><path d="M309.7,161.5 H642.9" fill="none" stroke="#cfcfcf" stroke-width="1"/><path d="M642.9,0.5 V162.0" fill="none" stroke="#1b9e77" stroke-width="1"/><line x1="324.6" y1="161.5" x2="324.6" y2="157.9" stroke="#7a7a7a" stroke-width="0.8"/><text transform="translate(324.6,172.5) rotate(0.03)" x="-12.2" y="0" font-size="9.89" fill="#262626" stroke="#262626" stroke-width="0.22" textLength="24.5" lengthAdjust="spacingAndGlyphs">1850</text><line x1="368.7" y1="161.5" x2="368.7" y2="157.9" stroke="#7a7a7a" stroke-width="0.8"/><text transform="translate(368.7,172.5) rotate(0.03)" x="-12.2" y="0" font-size="9.89" fill="#262626" stroke="#262626" stroke-width="0.22" textLength="24.5" lengthAdjust="spacingAndGlyphs">1875</text><line x1="412.9" y1="161.5" x2="412.9" y2="157.9" stroke="#7a7a7a" stroke-width="0.8"/><text transform="translate(412.9,172.5) rotate(0.03)" x="-12.2" y="0" font-size="9.89" fill="#262626" stroke="#262626" stroke-width="0.22" textLength="24.5" lengthAdjust="spacingAndGlyphs">1900</text><line x1="457" y1="161.5" x2="457" y2="157.9" stroke="#7a7a7a" stroke-width="0.8"/><text transform="translate(457,172.5) rotate(0.03)" x="-12.2" y="0" font-size="9.89" fill="#262626" stroke="#262626" stroke-width="0.22" textLength="24.5" lengthAdjust="spacingAndGlyphs">1925</text><line x1="501.2" y1="161.5" x2="501.2" y2="157.9" stroke="#7a7a7a" stroke-width="0.8"/><text transform="translate(501.2,172.5) rotate(0.03)" x="-12.2" y="0" font-size="9.89" fill="#262626" stroke="#262626" stroke-width="0.22" textLength="24.5" lengthAdjust="spacingAndGlyphs">1950</text><line x1="545.3" y1="161.5" x2="545.3" y2="157.9" stroke="#7a7a7a" stroke-width="0.8"/><text transform="translate(545.3,172.5) rotate(0.03)" x="-12.2" y="0" font-size="9.89" fill="#262626" stroke="#262626" stroke-width="0.22" textLength="24.5" lengthAdjust="spacingAndGlyphs">1975</text><line x1="589.5" y1="161.5" x2="589.5" y2="157.9" stroke="#7a7a7a" stroke-width="0.8"/><text transform="translate(589.5,172.5) rotate(0.03)" x="-12.2" y="0" font-size="9.89" fill="#262626" stroke="#262626" stroke-width="0.22" textLength="24.5" lengthAdjust="spacingAndGlyphs">2000</text><line x1="633.6" y1="161.5" x2="633.6" y2="157.9" stroke="#7a7a7a" stroke-width="0.8"/><text transform="translate(633.6,172.5) rotate(0.03)" x="-12.2" y="0" font-size="9.89" fill="#262626" stroke="#262626" stroke-width="0.22" textLength="24.5" lengthAdjust="spacingAndGlyphs">2025</text>
<line x1="309.7" y1="154.2" x2="311.8" y2="154.2" stroke="#b5b5b5" stroke-width="0.6"/>
<line x1="309.7" y1="148.8" x2="311.8" y2="148.8" stroke="#b5b5b5" stroke-width="0.6"/>
<line x1="309.7" y1="145" x2="311.8" y2="145" stroke="#b5b5b5" stroke-width="0.6"/>
<line x1="309.7" y1="142" x2="311.8" y2="142" stroke="#b5b5b5" stroke-width="0.6"/>
<line x1="309.7" y1="139.6" x2="311.8" y2="139.6" stroke="#b5b5b5" stroke-width="0.6"/>
<line x1="309.7" y1="137.5" x2="311.8" y2="137.5" stroke="#b5b5b5" stroke-width="0.6"/>
<line x1="309.7" y1="135.8" x2="311.8" y2="135.8" stroke="#b5b5b5" stroke-width="0.6"/>
<line x1="309.7" y1="134.2" x2="311.8" y2="134.2" stroke="#b5b5b5" stroke-width="0.6"/>
<line x1="309.7" y1="132.8" x2="313.8" y2="132.8" stroke="#7a7a7a" stroke-width="0.8"/>
<text transform="translate(288.9,135.9) rotate(0.03)" x="0" y="0" font-size="9.89" fill="#262626" stroke="#262626" stroke-width="0.22" textLength="12.2" lengthAdjust="spacingAndGlyphs">10</text>
<text transform="translate(301.2,132.4) rotate(0.03)" x="0" y="0" font-size="6.9" fill="#262626" stroke="#262626" stroke-width="0.22" textLength="4.3" lengthAdjust="spacingAndGlyphs">1</text>
<line x1="309.7" y1="123.6" x2="311.8" y2="123.6" stroke="#b5b5b5" stroke-width="0.6"/>
<line x1="309.7" y1="118.2" x2="311.8" y2="118.2" stroke="#b5b5b5" stroke-width="0.6"/>
<line x1="309.7" y1="114.4" x2="311.8" y2="114.4" stroke="#b5b5b5" stroke-width="0.6"/>
<line x1="309.7" y1="111.4" x2="311.8" y2="111.4" stroke="#b5b5b5" stroke-width="0.6"/>
<line x1="309.7" y1="109" x2="311.8" y2="109" stroke="#b5b5b5" stroke-width="0.6"/>
<line x1="309.7" y1="106.9" x2="311.8" y2="106.9" stroke="#b5b5b5" stroke-width="0.6"/>
<line x1="309.7" y1="105.2" x2="311.8" y2="105.2" stroke="#b5b5b5" stroke-width="0.6"/>
<line x1="309.7" y1="103.6" x2="311.8" y2="103.6" stroke="#b5b5b5" stroke-width="0.6"/>
<line x1="309.7" y1="102.2" x2="313.8" y2="102.2" stroke="#7a7a7a" stroke-width="0.8"/>
<text transform="translate(288.9,105.3) rotate(0.03)" x="0" y="0" font-size="9.89" fill="#262626" stroke="#262626" stroke-width="0.22" textLength="12.2" lengthAdjust="spacingAndGlyphs">10</text>
<text transform="translate(301.2,101.8) rotate(0.03)" x="0" y="0" font-size="6.9" fill="#262626" stroke="#262626" stroke-width="0.22" textLength="4.3" lengthAdjust="spacingAndGlyphs">2</text>
<line x1="309.7" y1="93" x2="311.8" y2="93" stroke="#b5b5b5" stroke-width="0.6"/>
<line x1="309.7" y1="87.6" x2="311.8" y2="87.6" stroke="#b5b5b5" stroke-width="0.6"/>
<line x1="309.7" y1="83.8" x2="311.8" y2="83.8" stroke="#b5b5b5" stroke-width="0.6"/>
<line x1="309.7" y1="80.8" x2="311.8" y2="80.8" stroke="#b5b5b5" stroke-width="0.6"/>
<line x1="309.7" y1="78.4" x2="311.8" y2="78.4" stroke="#b5b5b5" stroke-width="0.6"/>
<line x1="309.7" y1="76.3" x2="311.8" y2="76.3" stroke="#b5b5b5" stroke-width="0.6"/>
<line x1="309.7" y1="74.6" x2="311.8" y2="74.6" stroke="#b5b5b5" stroke-width="0.6"/>
<line x1="309.7" y1="73" x2="311.8" y2="73" stroke="#b5b5b5" stroke-width="0.6"/>
<line x1="309.7" y1="71.6" x2="313.8" y2="71.6" stroke="#7a7a7a" stroke-width="0.8"/>
<text transform="translate(288.9,74.7) rotate(0.03)" x="0" y="0" font-size="9.89" fill="#262626" stroke="#262626" stroke-width="0.22" textLength="12.2" lengthAdjust="spacingAndGlyphs">10</text>
<text transform="translate(301.2,71.2) rotate(0.03)" x="0" y="0" font-size="6.9" fill="#262626" stroke="#262626" stroke-width="0.22" textLength="4.3" lengthAdjust="spacingAndGlyphs">3</text>
<line x1="309.7" y1="62.4" x2="311.8" y2="62.4" stroke="#b5b5b5" stroke-width="0.6"/>
<line x1="309.7" y1="57" x2="311.8" y2="57" stroke="#b5b5b5" stroke-width="0.6"/>
<line x1="309.7" y1="53.2" x2="311.8" y2="53.2" stroke="#b5b5b5" stroke-width="0.6"/>
<line x1="309.7" y1="50.2" x2="311.8" y2="50.2" stroke="#b5b5b5" stroke-width="0.6"/>
<line x1="309.7" y1="47.8" x2="311.8" y2="47.8" stroke="#b5b5b5" stroke-width="0.6"/>
<line x1="309.7" y1="45.7" x2="311.8" y2="45.7" stroke="#b5b5b5" stroke-width="0.6"/>
<line x1="309.7" y1="44" x2="311.8" y2="44" stroke="#b5b5b5" stroke-width="0.6"/>
<line x1="309.7" y1="42.4" x2="311.8" y2="42.4" stroke="#b5b5b5" stroke-width="0.6"/>
<line x1="309.7" y1="41" x2="313.8" y2="41" stroke="#7a7a7a" stroke-width="0.8"/>
<text transform="translate(288.9,44.1) rotate(0.03)" x="0" y="0" font-size="9.89" fill="#262626" stroke="#262626" stroke-width="0.22" textLength="12.2" lengthAdjust="spacingAndGlyphs">10</text>
<text transform="translate(301.2,40.6) rotate(0.03)" x="0" y="0" font-size="6.9" fill="#262626" stroke="#262626" stroke-width="0.22" textLength="4.3" lengthAdjust="spacingAndGlyphs">4</text>
<line x1="309.7" y1="31.8" x2="311.8" y2="31.8" stroke="#b5b5b5" stroke-width="0.6"/>
<line x1="309.7" y1="26.4" x2="311.8" y2="26.4" stroke="#b5b5b5" stroke-width="0.6"/>
<line x1="309.7" y1="22.6" x2="311.8" y2="22.6" stroke="#b5b5b5" stroke-width="0.6"/>
<line x1="309.7" y1="19.6" x2="311.8" y2="19.6" stroke="#b5b5b5" stroke-width="0.6"/>
<line x1="309.7" y1="17.2" x2="311.8" y2="17.2" stroke="#b5b5b5" stroke-width="0.6"/>
<line x1="309.7" y1="15.1" x2="311.8" y2="15.1" stroke="#b5b5b5" stroke-width="0.6"/>
<line x1="309.7" y1="13.4" x2="311.8" y2="13.4" stroke="#b5b5b5" stroke-width="0.6"/>
<line x1="309.7" y1="11.8" x2="311.8" y2="11.8" stroke="#b5b5b5" stroke-width="0.6"/>
<line x1="309.7" y1="10.4" x2="313.8" y2="10.4" stroke="#7a7a7a" stroke-width="0.8"/>
<text transform="translate(288.9,13.5) rotate(0.03)" x="0" y="0" font-size="9.89" fill="#262626" stroke="#262626" stroke-width="0.22" textLength="12.2" lengthAdjust="spacingAndGlyphs">10</text>
<text transform="translate(301.2,10) rotate(0.03)" x="0" y="0" font-size="6.9" fill="#262626" stroke="#262626" stroke-width="0.22" textLength="4.3" lengthAdjust="spacingAndGlyphs">5</text>
<line x1="642.9" y1="147.6" x2="640.8" y2="147.6" stroke="#1b9e77" stroke-width="0.6" opacity="0.75"/>
<line x1="642.9" y1="139.5" x2="640.8" y2="139.5" stroke="#1b9e77" stroke-width="0.6" opacity="0.75"/>
<line x1="642.9" y1="133.7" x2="640.8" y2="133.7" stroke="#1b9e77" stroke-width="0.6" opacity="0.75"/>
<line x1="642.9" y1="129.2" x2="640.8" y2="129.2" stroke="#1b9e77" stroke-width="0.6" opacity="0.75"/>
<line x1="642.9" y1="125.5" x2="640.8" y2="125.5" stroke="#1b9e77" stroke-width="0.6" opacity="0.75"/>
<line x1="642.9" y1="122.5" x2="640.8" y2="122.5" stroke="#1b9e77" stroke-width="0.6" opacity="0.75"/>
<line x1="642.9" y1="119.8" x2="640.8" y2="119.8" stroke="#1b9e77" stroke-width="0.6" opacity="0.75"/>
<line x1="642.9" y1="117.4" x2="640.8" y2="117.4" stroke="#1b9e77" stroke-width="0.6" opacity="0.75"/>
<line x1="642.9" y1="115.3" x2="638.8" y2="115.3" stroke="#1b9e77" stroke-width="0.8"/>
<text transform="translate(646.1,118.4) rotate(0.03)" x="0" y="0" font-size="9.89" fill="#1b9e77" stroke="#1b9e77" stroke-width="0.22" textLength="12.2" lengthAdjust="spacingAndGlyphs">10</text>
<text transform="translate(658.9,114.9) rotate(0.03)" x="0" y="0" font-size="6.9" fill="#1b9e77" stroke="#1b9e77" stroke-width="0.22" textLength="4.3" lengthAdjust="spacingAndGlyphs">4</text>
<line x1="642.9" y1="101.4" x2="640.8" y2="101.4" stroke="#1b9e77" stroke-width="0.6" opacity="0.75"/>
<line x1="642.9" y1="93.3" x2="640.8" y2="93.3" stroke="#1b9e77" stroke-width="0.6" opacity="0.75"/>
<line x1="642.9" y1="87.5" x2="640.8" y2="87.5" stroke="#1b9e77" stroke-width="0.6" opacity="0.75"/>
<line x1="642.9" y1="83" x2="640.8" y2="83" stroke="#1b9e77" stroke-width="0.6" opacity="0.75"/>
<line x1="642.9" y1="79.3" x2="640.8" y2="79.3" stroke="#1b9e77" stroke-width="0.6" opacity="0.75"/>
<line x1="642.9" y1="76.3" x2="640.8" y2="76.3" stroke="#1b9e77" stroke-width="0.6" opacity="0.75"/>
<line x1="642.9" y1="73.6" x2="640.8" y2="73.6" stroke="#1b9e77" stroke-width="0.6" opacity="0.75"/>
<line x1="642.9" y1="71.2" x2="640.8" y2="71.2" stroke="#1b9e77" stroke-width="0.6" opacity="0.75"/>
<line x1="642.9" y1="69.1" x2="638.8" y2="69.1" stroke="#1b9e77" stroke-width="0.8"/>
<text transform="translate(646.1,72.2) rotate(0.03)" x="0" y="0" font-size="9.89" fill="#1b9e77" stroke="#1b9e77" stroke-width="0.22" textLength="12.2" lengthAdjust="spacingAndGlyphs">10</text>
<text transform="translate(658.9,68.7) rotate(0.03)" x="0" y="0" font-size="6.9" fill="#1b9e77" stroke="#1b9e77" stroke-width="0.22" textLength="4.3" lengthAdjust="spacingAndGlyphs">5</text>
<line x1="642.9" y1="55.2" x2="640.8" y2="55.2" stroke="#1b9e77" stroke-width="0.6" opacity="0.75"/>
<line x1="642.9" y1="47.1" x2="640.8" y2="47.1" stroke="#1b9e77" stroke-width="0.6" opacity="0.75"/>
<line x1="642.9" y1="41.3" x2="640.8" y2="41.3" stroke="#1b9e77" stroke-width="0.6" opacity="0.75"/>
<line x1="642.9" y1="36.8" x2="640.8" y2="36.8" stroke="#1b9e77" stroke-width="0.6" opacity="0.75"/>
<line x1="642.9" y1="33.1" x2="640.8" y2="33.1" stroke="#1b9e77" stroke-width="0.6" opacity="0.75"/>
<line x1="642.9" y1="30.1" x2="640.8" y2="30.1" stroke="#1b9e77" stroke-width="0.6" opacity="0.75"/>
<line x1="642.9" y1="27.4" x2="640.8" y2="27.4" stroke="#1b9e77" stroke-width="0.6" opacity="0.75"/>
<line x1="642.9" y1="25" x2="640.8" y2="25" stroke="#1b9e77" stroke-width="0.6" opacity="0.75"/>
<line x1="642.9" y1="22.9" x2="638.8" y2="22.9" stroke="#1b9e77" stroke-width="0.8"/>
<text transform="translate(646.1,26) rotate(0.03)" x="0" y="0" font-size="9.89" fill="#1b9e77" stroke="#1b9e77" stroke-width="0.22" textLength="12.2" lengthAdjust="spacingAndGlyphs">10</text>
<text transform="translate(658.9,22.5) rotate(0.03)" x="0" y="0" font-size="6.9" fill="#1b9e77" stroke="#1b9e77" stroke-width="0.22" textLength="4.3" lengthAdjust="spacingAndGlyphs">6</text>
<line x1="642.9" y1="9" x2="640.8" y2="9" stroke="#1b9e77" stroke-width="0.6" opacity="0.75"/>
<g clip-path="url(#cb)">
<polyline points="324.6,100.9 324.8,102.6 325,96 325.2,95.5 325.4,101.5 325.6,91.4 325.8,92 326,102.1 326.2,99.8 326.4,98.6 326.6,100.7 326.8,102.9 327,97.2 327.2,94.3 327.4,102.2 327.6,101.3 327.8,101.1 328,107.9 328.2,106.8 328.4,114.8 328.6,103 328.8,106.9 329,103.7 329.2,100.4 329.4,103.7 329.6,99 329.8,109.8 330,111.7 330.2,98.7 330.4,102.8 330.6,96.2 330.8,91.2 331,103.2 331.2,97.4 331.4,95 331.6,105.8 331.8,101.7 332,113.4 332.2,99.8 332.4,93.9 332.6,93.8 332.8,94.2 333,96 333.2,106.6 333.4,106.1 333.6,99.1 333.8,92.3 334,91.3 334.2,102 334.4,89.4 334.6,92.6 334.8,84 335,84.7 335.2,99.4 335.4,95.8 335.6,89.4 335.8,87.4 336,80.5 336.2,80.7 336.4,78.5 336.6,93.4 336.8,91.4 337,88.9 337.2,99.9 337.4,90.4 337.6,85.4 337.8,92 338,96.5 338.2,82.7 338.4,98.5 338.6,91 338.8,91.2 339,89.8 339.2,93.3 339.4,98.3 339.6,91.4 339.8,95.4 340,85 340.2,88.3 340.4,90.3 340.6,105 340.8,105.5 341,90 341.2,88.1 341.4,83.3 341.6,90.7 341.8,77.2 342,82 342.2,91.9 342.4,91.9 342.6,104 342.8,102.1 343,95.3 343.2,94.8 343.4,93.9 343.6,99.4 343.8,105.6 344,93.1 344.2,106.4 344.4,97.5 344.6,99.1 344.8,105 345,106.1 345.2,102.8 345.4,86.7 345.6,103.3 345.8,103.8 346,178 346.2,101.7 346.4,102 346.6,178 346.8,178 347,111.8 347.2,108.7 347.4,98.2 347.6,109.1 347.8,101.3 348,114.7 348.2,100.5 348.4,93.8 348.6,92.8 348.8,102.5 349,108.1 349.2,106.3 349.4,117.5 349.6,109.8 349.8,102.8 350,105.4 350.2,103.5 350.4,118.1 350.6,99.4 350.8,102.9 351,119.5 351.2,134.1 351.4,134.6 351.6,178 351.8,99.5 352,116.6 352.2,111.6 352.4,97.8 352.6,178 352.8,104.5 353,128.1 353.2,124.6 353.4,126.3 353.6,121.6 353.8,101.9 354,116.6 354.2,178 354.4,103.1 354.6,113.9 354.8,118 355,107.8 355.2,113.5 355.4,108.6 355.6,95.1 355.8,178 356,99.6 356.2,178 356.4,107.7 356.6,123.5 356.8,111.5 357,109.8 357.2,110.1 357.4,103.3 357.6,97.1 357.8,119.3 358,99.3 358.2,109.7 358.4,115.2 358.6,102.1 358.8,101.1 359,112.1 359.2,109.4 359.4,106 359.6,116.2 359.8,113.5 360,103.8 360.2,115.5 360.4,104.8 360.6,111.9 360.8,98.1 361,178 361.2,106.6 361.4,107.2 361.6,113.3 361.8,112.8 362,116.1 362.2,104.3 362.4,102.5 362.6,86.1 362.8,100.3 363,110 363.2,109.2 363.4,117.2 363.6,112.6 363.8,178 364,102.7 364.2,119.9 364.4,103.4 364.6,94.6 364.8,178 365,113.3 365.2,114.3 365.4,178 365.6,105.3 365.8,110.4 366,101.3 366.2,100.6 366.4,98.2 366.6,89.8 366.8,105.8 367,117.9 367.2,101.5 367.4,95.5 367.6,95.2 367.8,99.7 368,108.2 368.2,88.6 368.4,112.2 368.6,104.6 368.8,100.6 369,108.1 369.2,101.9 369.4,106.8 369.6,99.3 369.8,91.8 370,90.9 370.2,105.4 370.4,104.7 370.6,99.3 370.8,98.4 371,101.5 371.2,102.7 371.4,82.9 371.6,84 371.8,89.9 372,96.8 372.2,91.7 372.4,92.6 372.6,95.3 372.8,95.2 373,98.3 373.2,93.3 373.4,83.1 373.6,84.6 373.8,89.7 374,99.3 374.2,100.8 374.4,90.8 374.6,96.7 374.8,94 375,83.8 375.2,88.6 375.4,81.8 375.6,81.9 375.8,89.4 376,81.3 376.2,88.9 376.4,87.5 376.6,86.1 376.8,75.8 377,69.1 377.2,82.2 377.4,84.9 377.6,87.9 377.8,84.5 378,83.8 378.2,77.8 378.4,72.3 378.6,73.8 378.8,79.9 379,75.3 379.2,80.9 379.4,81.6 379.6,80.9 379.8,87.2 380,75 380.2,77 380.4,71.3 380.6,81.5 380.8,79.4 381,81.5 381.2,79.8 381.4,85.2 381.6,82.6 381.8,78.2 382,74.7 382.2,78.5 382.4,82.2 382.6,81.7 382.8,87.1 383,88.9 383.2,89.2 383.4,85.3 383.6,78.5 383.8,78.2 384,76.3 384.2,76.8 384.4,74.8 384.6,84.8 384.8,79.8 385,76.8 385.2,81.2 385.4,81.5 385.6,76.5 385.8,75.8 386,80.8 386.2,76.3 386.4,76.9 386.6,84.1 386.8,81.8 387,83.1 387.2,76.3 387.4,80 387.6,69.1 387.8,69.2 388,78.6 388.2,75.5 388.4,74.3 388.6,74 388.8,76.2 389,72.8 389.2,73.7 389.4,76.6 389.6,71.7 389.8,71.1 390,77.7 390.2,70.5 390.4,75.2 390.6,71.7 390.8,70 391,66.7 391.2,75.1 391.4,78.1 391.6,82.3 391.8,85.5 392,78.5 392.2,80.3 392.4,76.6 392.6,73.4 392.8,79.8 393,79.4 393.2,83.2 393.4,83.6 393.6,86.4 393.8,75.9 394,72.8 394.2,71.8 394.4,72.4 394.6,74.7 394.8,70.8 395,73.7 395.2,79.6 395.4,70.9 395.6,78.3 395.8,68.4 396,68.1 396.2,72.1 396.4,71.4 396.6,69.5 396.8,70.4 397,78.9 397.2,72.8 397.4,69.3 397.6,70.9 397.8,66.4 398,76.2 398.2,67.4 398.4,81.1 398.6,73.6 398.8,76.8 399,81.4 399.2,77 399.4,75.8 399.6,70.4 399.8,72.5 400,67.7 400.2,73.3 400.4,85 400.6,78.5 400.8,80.1 401,84.4 401.2,85 401.4,73.8 401.6,75 401.8,80.3 402,82.4 402.2,82 402.4,76.5 402.6,76 402.8,83.1 403,78.8 403.2,79.2 403.4,76.3 403.6,72.4 403.8,70.9 404,85.6 404.2,84.9 404.4,82.6 404.6,82.5 404.8,77.4 405,75.6 405.2,77.1 405.4,76.7 405.6,82 405.8,87 406,85.1 406.2,79.1 406.4,76.5 406.6,81.6 406.8,72.2 407,78.7 407.2,71 407.4,78.2 407.6,80.4 407.8,86.2 408,85.2 408.2,73.3 408.4,76.5 408.6,75.4 408.8,69.8 409,79.1 409.2,76.6 409.4,83.2 409.6,74.4 409.8,78.7 410,74.8 410.2,78.3 410.4,76.8 410.6,75.7 410.8,74.6 411,79.9 411.2,80.6 411.4,85.8 411.6,78.3 411.8,75.6 412,71.2 412.2,71.8 412.4,82.1 412.6,78.9 412.8,86.9 413,84.1 413.2,89.5 413.4,81.3 413.6,88 413.8,84.8 414,81.9 414.2,83.3 414.4,84.7 414.6,84.5 414.8,88.2 415,83.4 415.2,79.5 415.4,85.4 415.6,81.4 415.8,84.7 416,78.9 416.2,86.4 416.4,88.9 416.6,88.3 416.8,88 417,78.1 417.2,74.9 417.4,74.6 417.6,76 417.8,74 418,75.3 418.2,75.4 418.4,83.9 418.6,77.6 418.8,77.2 419,74.2 419.2,76.6 419.4,77 419.6,73.8 419.8,76 420,72.7 420.2,74.5 420.4,72.7 420.6,72.3 420.8,70.1 421,70.2 421.2,67.8 421.4,67.7 421.6,74.1 421.8,67.4 422,66.7 422.2,66.1 422.4,71.4 422.6,68 422.8,68.3 423,70.3 423.2,64.8 423.4,71.2 423.6,66.4 423.8,69.6 424,69.2 424.2,68.7 424.4,62.8 424.6,63.9 424.8,61.1 425,65.5 425.2,72.3 425.4,72.8 425.6,69.1 425.8,70 426,69.4 426.2,63.1 426.4,68.6 426.6,65.2 426.8,64.5 427,69.4 427.2,69.8 427.4,70.8 427.6,68.8 427.8,62.1 428,66.6 428.2,68.9 428.4,66.8 428.6,69.6 428.8,67.2 429,70.1 429.2,62.9 429.4,68 429.6,62.6 429.8,65.7 430,60.8 430.2,65.2 430.4,69.1 430.6,68.6 430.8,68.5 431,71.1 431.2,62.6 431.4,61.1 431.6,63.4 431.8,67.2 432,65.2 432.2,63.2 432.4,61.8 432.6,64.3 432.8,63.5 433,62.1 433.2,62.1 433.4,58.7 433.6,64.6 433.8,59.8 434,59.1 434.2,61.1 434.4,66 434.6,58.5 434.8,57.7 435,62 435.2,56.1 435.4,60.9 435.6,56.4 435.8,65.2 436,60.7 436.2,60 436.4,63.2 436.6,63.3 436.8,61.8 437,60.4 437.2,62.3 437.4,65.4 437.6,63.3 437.8,61 438,67.3 438.2,63.1 438.4,61.7 438.6,62.8 438.8,59.4 439,60.9 439.2,64.1 439.4,69.5 439.6,72 439.8,73.6 440,72 440.2,72.2 440.4,70.4 440.6,71.4 440.8,71.7 441,69.7 441.2,71.6 441.4,79.6 441.6,73.3 441.8,78.4 442,73.5 442.2,67 442.4,74.9 442.6,75.7 442.8,73.7 443,77.2 443.2,78.4 443.4,79 443.6,80.8 443.8,73.6 444,76.2 444.2,77.6 444.4,84.3 444.6,76.2 444.8,76.8 445,77.1 445.2,75.4 445.4,72.7 445.6,69 445.8,70.4 446,71.4 446.2,74.7 446.4,77 446.6,74.2 446.8,72.1 447,69.5 447.2,68.7 447.4,66.3 447.6,69.3 447.8,74.3 448,74.1 448.2,70.5 448.4,67.8 448.6,67.2 448.8,67.8 449,65.2 449.2,66.8 449.4,59.2 449.6,61.5 449.8,66.5 450,66 450.2,65.3 450.4,67.6 450.6,60.5 450.8,59.9 451,63 451.2,64.1 451.4,68.9 451.6,70.6 451.8,68.1 452,69.8 452.2,68.6 452.4,62.3 452.6,65.4 452.8,62.1 453,62.6 453.2,61.9 453.4,61.5 453.6,69.4 453.8,68.3 454,67.9 454.2,62.5 454.4,61.8 454.6,59.2 454.8,62.7 455,65.6 455.2,65.7 455.4,67.9 455.6,62.7 455.8,64.9 456,59.6 456.2,61.2 456.4,58.6 456.6,62.6 456.8,63.9 457,63.7 457.2,64.4 457.4,67 457.6,64.2 457.8,62.4 458,60.3 458.2,60.6 458.4,64.9 458.6,67.3 458.8,64.7 459,68.5 459.2,68.6 459.4,63 459.6,62 459.8,63.9 460,61.1 460.2,66.9 460.4,63.4 460.6,66.7 460.8,66.8 461,62 461.2,65.6 461.4,60.8 461.6,58.7 461.8,58.5 462,62.4 462.2,64.7 462.4,63.1 462.6,67.7 462.8,62.2 463,65.2 463.2,59 463.4,59.3 463.6,59.2 463.8,61.6 464,62.3 464.2,64 464.4,67.4 464.6,64.9 464.8,63.4 465,59.3 465.2,62.7 465.4,60.3 465.6,63.7 465.8,66.1 466,64.2 466.2,62.7 466.4,61.2 466.6,64.8 466.8,63.9 467,63.2 467.2,60.5 467.4,63.2 467.6,67.4 467.8,63.7 468,67.2 468.2,64.7 468.4,62.2 468.6,62 468.8,61.4 469,65.6 469.2,67.7 469.4,64.6 469.6,66.9 469.8,69.8 470,66.1 470.2,67.2 470.4,68.6 470.6,67.7 470.8,66.1 471,71.2 471.2,71.3 471.4,70.1 471.6,67.5 471.8,67.1 472,65.1 472.2,63.1 472.4,62.8 472.6,63.1 472.8,64.3 473,65.3 473.2,67.8 473.4,67.1 473.6,66.6 473.8,66.5 474,61.7 474.2,63.3 474.4,61.6 474.6,64.8 474.8,62.8 475,62.2 475.2,61.5 475.4,61.8 475.6,63.1 475.8,59.9 476,62.9 476.2,61.1 476.4,61.7 476.6,62.5 476.8,60 477,61.2 477.2,60.5 477.4,60.6 477.6,56.1 477.8,60.4 478,60.2 478.2,61.3 478.4,59.1 478.6,63.4 478.8,58.9 479,59.6 479.2,59 479.4,60.5 479.6,58.9 479.8,61.3 480,57.3 480.2,60.3 480.4,59.9 480.6,59.6 480.8,59.8 481,59.1 481.2,58.4 481.4,61.7 481.6,59.8 481.8,63.4 482,63.5 482.2,61.4 482.4,68.1 482.6,73.5 482.8,75.3 483,83.2 483.2,89.9 483.4,101.7 483.6,106.5 483.8,115.7 484,124.1 484.2,123.1 484.4,109.8 484.6,108.8 484.8,95.3 485,90.4 485.2,81.2 485.4,77.5 485.6,71.4 485.8,71.3 486,72.1 486.2,74.1 486.4,74.8 486.6,79 486.8,78.9 487,80 487.2,83.2 487.4,86.7 487.6,91.2 487.8,88.1 488,86.5 488.2,85.6 488.4,90.4 488.6,87.1 488.8,93.7 489,96.5 489.2,94.6 489.4,87.6 489.6,88.1 489.8,91.5 490,81 490.2,86.2 490.4,84 490.6,85.7 490.8,83.1 491,78.7 491.2,80.3 491.4,73.4 491.6,78 491.8,76.8 492,74.5 492.2,76.7 492.4,76.9 492.6,79.5 492.8,72.1 493,72.1 493.2,70.7 493.4,72.7 493.6,72.5 493.8,70.9 494,68.9 494.2,73.4 494.4,72.2 494.6,69.3 494.8,71.3 495,69 495.2,66.6 495.4,66.5 495.6,68.3 495.8,67.4 496,68.4 496.2,70.7 496.4,66.2 496.6,62.9 496.8,63.6 497,65.8 497.2,65.8 497.4,65.8 497.6,67.5 497.8,66.6 498,66.4 498.2,64.2 498.4,61.4 498.6,63.5 498.8,62.2 499,64.5 499.2,60.7 499.4,65.6 499.6,61.8 499.8,65.4 500,64 500.2,56.6 500.4,57.8 500.6,61.7 500.8,61.8 501,61 501.2,58 501.4,57.5 501.6,57.8 501.8,61 502,59.3 502.2,56.9 502.4,58.8 502.6,60.1 502.8,57.1 503,60.8 503.2,57.2 503.4,57 503.6,54.1 503.8,53.6 504,54.8 504.2,51.7 504.4,55.1 504.6,53.8 504.8,57.6 505,54.4 505.2,54.3 505.4,53.6 505.6,55 505.8,55.8 506,56.1 506.2,56.5 506.4,57 506.6,56.5 506.8,55.1 507,53.5 507.2,56.5 507.4,52.8 507.6,53.5 507.8,50.8 508,53.2 508.2,52.8 508.4,54.2 508.6,55.9 508.8,52.9 509,53.5 509.2,49.4 509.4,50.9 509.6,50.6 509.8,52 510,51.2 510.2,54.2 510.4,55 510.6,53.9 510.8,49.1 511,51.6 511.2,50.5 511.4,52.6 511.6,50.7 511.8,54.6 512,53 512.2,54.5 512.4,49.2 512.6,49.9 512.8,49.1 513,51.5 513.2,51.8 513.4,49.9 513.6,51.2 513.8,53.4 514,51.9 514.2,50.2 514.4,52.7 514.6,51.6 514.8,48.8 515,50.6 515.2,53.1 515.4,50.1 515.6,53.8 515.8,52.7 516,50.8 516.2,49.6 516.4,49.5 516.6,49 516.8,49.2 517,47.5 517.2,49.6 517.4,49.8 517.6,48 517.8,47.6 518,45.7 518.2,47.4 518.4,47.4 518.6,45.2 518.8,50.3 519,47.8 519.2,46.5 519.4,46.1 519.6,46.1 519.8,46.7 520,45 520.2,44.5 520.4,48.2 520.6,46.5 520.8,49.4 521,45.8 521.2,47 521.4,45.1 521.6,47.3 521.8,46.7 522,47.7 522.2,45.6 522.4,49.4 522.6,47.6 522.8,49.1 523,49 523.2,43.7 523.4,42.9 523.6,46.3 523.8,47.9 524,48.6 524.2,46.8 524.4,48.6 524.6,43.6 524.8,42.5 525,44.3 525.2,43 525.4,45.1 525.6,42.7 525.8,44.7 526,48.4 526.2,45.1 526.4,45.4 526.6,45.8 526.8,47.3 527,43.3 527.2,46 527.4,45.4 527.6,45.7 527.8,45.3 528,46.1 528.2,46.1 528.4,44.4 528.6,44.7 528.8,45.1 529,46.1 529.2,45.5 529.4,45.5 529.6,48.4 529.8,44.9 530,43.7 530.2,47.2 530.4,43.3 530.6,42.5 530.8,44.6 531,45 531.2,45.4 531.4,48.1 531.6,45.3 531.8,43.8 532,43.4 532.2,46.7 532.4,43.9 532.6,43.9 532.8,47.5 533,49.2 533.2,47.9 533.4,48.8 533.6,45.1 533.8,44.6 534,45.3 534.2,43.8 534.4,45.3 534.6,46.2 534.8,47.1 535,50.1 535.2,49.6 535.4,44.7 535.6,45.1 535.8,46.8 536,47.3 536.2,46.2 536.4,47.6 536.6,45.7 536.8,48.9 537,48.4 537.2,45.9 537.4,44.3 537.6,43.2 537.8,47.6 538,48.5 538.2,45.7 538.4,49.4 538.6,51.6 538.8,45.1 539,44.3 539.2,43.2 539.4,45.3 539.6,45.5 539.8,49.6 540,44.9 540.2,46.6 540.4,51.3 540.6,44.9 540.8,45.6 541,45.5 541.2,43.1 541.4,45.7 541.6,48.9 541.8,50.6 542,50.8 542.2,51.1 542.4,49.7 542.6,44.5 542.8,47.9 543,47.4 543.2,46.7 543.4,48.9 543.6,48.2 543.8,52.3 544,47.1 544.2,45.4 544.4,48.8 544.6,47.8 544.8,48.4 545,46.9 545.2,46.5 545.4,48.2 545.6,49.3 545.8,49.8 546,51 546.2,45.4 546.4,48.6 546.6,44.4 546.8,46.7 547,52.8 547.2,49.7 547.4,51.1 547.6,52.9 547.8,50.3 548,48.1 548.2,49.5 548.4,51.8 548.6,53.2 548.8,49.4 549,49.5 549.2,49.8 549.4,48.1 549.6,51.1 549.8,51.1 550,45.7 550.2,45.6 550.4,48.7 550.6,52 550.8,52.7 551,50.7 551.2,50.8 551.4,51.6 551.6,49.8 551.8,44.4 552,49.4 552.2,50.8 552.4,53.1 552.6,49.8 552.8,48.2 553,49.3 553.2,47.5 553.4,47.5 553.6,50.5 553.8,50.7 554,51.7 554.2,51.9 554.4,49.2 554.6,48 554.8,48.7 555,50.4 555.2,48.6 555.4,50.5 555.6,50.5 555.8,52.8 556,55.1 556.2,53.1 556.4,53.2 556.6,53.1 556.8,50.8 557,50.6 557.2,44.6 557.4,44.1 557.6,51.3 557.8,47.4 558,46.9 558.2,44 558.4,46.3 558.6,39.9 558.8,45.2 559,43.3 559.2,46.9 559.4,49.2 559.6,48 559.8,47 560,48 560.2,48.3 560.4,47.5 560.6,44.3 560.8,43 561,50.9 561.2,49.6 561.4,46.5 561.6,49.1 561.8,48.9 562,45.8 562.2,49 562.4,44.3 562.6,44.5 562.8,46.7 563,48.1 563.2,52.5 563.4,51 563.6,45.7 563.8,46.2 564,44 564.2,48.1 564.4,50.6 564.6,46.7 564.8,50.8 565,48.4 565.2,47.6 565.4,50.1 565.6,51.1 565.8,45.4 566,48.4 566.2,47.2 566.4,46.7 566.6,50.6 566.8,48 567,51.3 567.2,50.1 567.4,45 567.6,47.5 567.8,45 568,49.5 568.2,47.7 568.4,51.5 568.6,51 568.8,49.6 569,46.6 569.2,49.5 569.4,46.5 569.6,50.5 569.8,49.5 570,50.4 570.2,52.2 570.4,49.8 570.6,51.4 570.8,48.1 571,49.9 571.2,49.4 571.4,51.3 571.6,49.2 571.8,49.7 572,55.3 572.2,51.6 572.4,50.6 572.6,51.5 572.8,47.9 573,53.8 573.2,52.8 573.4,53.9 573.6,52.5 573.8,57.3 574,58.3 574.2,56.5 574.4,56.3 574.6,50.5 574.8,55.4 575,57.9 575.2,56.7 575.4,55.6 575.6,58.9 575.8,56.6 576,54.2 576.2,59.2 576.4,57.2 576.6,55.5 576.8,57.1 577,57.3 577.2,55.9 577.4,52.9 577.6,52.6 577.8,52.2 578,51.6 578.2,48.5 578.4,47.2 578.6,49.3 578.8,47.9 579,53.5 579.2,47.6 579.4,47.4 579.6,46.5 579.8,42.2 580,43.7 580.2,44.3 580.4,41.2 580.6,49.5 580.8,47.5 581,44.3 581.2,49.5 581.4,42.3 581.6,45.6 581.8,43.1 582,42 582.2,44.1 582.4,44.9 582.6,43.9 582.8,42 583,42.4 583.2,40.7 583.4,41.8 583.6,37.4 583.8,37.2 584,44.3 584.2,39.6 584.4,44.7 584.6,43.2 584.8,44.9 585,38.5 585.2,42.7 585.4,37.2 585.6,37.9 585.8,43 586,39.7 586.2,43 586.4,43.2 586.6,36.6 586.8,39.1 587,35.2 587.2,39.7 587.4,33.8 587.6,35.4 587.8,40.7 588,37.1 588.2,37.5 588.4,39.9 588.6,34.7 588.8,32.4 589,32.8 589.2,37.4 589.4,40.1 589.6,41.1 589.8,39.3 590,35.7 590.2,33.6 590.4,32.7 590.6,31.7 590.8,39 591,35.6 591.2,34.9 591.4,39.7 591.6,37.5 591.8,33.1 592,40.3 592.2,39.4 592.4,33.8 592.6,40 592.8,38 593,41.4 593.2,41.6 593.4,42 593.6,38.9 593.8,35.3 594,40.4 594.2,37.6 594.4,38.9 594.6,43.5 594.8,43.5 595,46 595.2,41.2 595.4,42.2 595.6,35.9 595.8,34.9 596,36.8 596.2,36.9 596.4,39 596.6,38.2 596.8,44.5 597,38.6 597.2,35.8 597.4,38.6 597.6,36.2 597.8,35.4 598,37.7 598.2,37.6 598.4,34.9 598.6,39.4 598.8,31.5 599,37 599.2,31.2 599.4,30.6 599.6,31.1 599.8,30.4 600,35.1 600.2,35.4 600.4,34.3 600.6,29.1 600.8,29.1 601,26.2 601.2,30.3 601.4,26.3 601.6,30.4 601.8,29.3 602,34.6 602.2,34.8 602.4,29.6 602.6,32.2 602.8,26.1 603,29.9 603.2,27.3 603.4,30.4 603.6,32.5 603.8,30.7 604,29.3 604.2,30.4 604.4,31.2 604.6,32.3 604.8,28.1 605,28.5 605.2,28 605.4,30.5 605.6,29.7 605.8,31.1 606,34.2 606.2,28.1 606.4,31.4 606.6,29 606.8,29.9 607,33.2 607.2,33.1 607.4,33.1 607.6,29.8 607.8,30.9 608,32.6 608.2,24.9 608.4,25.9 608.6,29.6 608.8,28.4 609,28.4 609.2,33 609.4,27.5 609.6,30.3 609.8,26.6 610,22.8 610.2,24.4 610.4,23.9 610.6,27.2 610.8,30.3 611,24.9 611.2,24.2 611.4,23 611.6,24 611.8,23.6 612,29 612.2,29.1 612.4,31.1 612.6,28.6 612.8,29.2 613,27.7 613.2,23.8 613.4,25.4 613.6,22.8 613.8,24.6 614,28.4 614.2,25.6 614.4,25.4 614.6,30.8 614.8,26.4 615,23.2 615.2,23.3 615.4,23 615.6,28.4 615.8,26.7 616,30.9 616.2,28.5 616.4,30.7 616.6,30 616.8,25.9 617,27.4 617.2,24.2 617.4,23.5 617.6,28.6 617.8,25.4 618,27.9 618.2,28.1 618.4,27.4 618.6,27.3 618.8,20.7 619,25.6 619.2,24 619.4,26.3 619.6,25.7 619.8,28.8 620,23.6 620.2,18.6 620.4,23 620.6,20.3 620.8,21.2 621,16.4 621.2,17.4 621.4,21 621.6,20.5 621.8,17.6 622,18.4 622.2,21 622.4,19.3 622.6,24.6 622.8,28.2 623,35 623.2,35.9 623.4,40.3 623.6,36.8 623.8,34.7 624,30.6 624.2,23 624.4,25.6 624.6,22.2 624.8,18.9 625,19.4 625.2,18.2 625.4,14.4 625.6,8.9 625.8,8.6 626,11.2 626.2,13.2 626.4,8.4 626.6,9.2 626.8,12.4 627,11.3 627.2,11.4 627.4,7.1 627.6,8.6 627.8,10.7 628,9.2" fill="none" stroke="#242424" stroke-width="0.72" stroke-linejoin="round"/>
<polyline points="324.6,147.3 324.8,146.1 325,147.1 325.2,150 325.4,148.9 325.6,148.7 325.8,146.9 326,147.3 326.2,152.9 326.4,151.3 326.6,152 326.8,150.6 327,150.7 327.2,153.6 327.4,148 327.6,147.2 327.8,147.3 328,147.5 328.2,145.7 328.4,144.7 328.6,144.5 328.8,142.7 329,140.6 329.2,139.8 329.4,139.4 329.6,139.5 329.8,139.4 330,137.1 330.2,138.5 330.4,137.4 330.6,134.6 330.8,131.5 331,132.3 331.2,132.3 331.4,133.7 331.6,129.2 331.8,132.2 332,129.1 332.2,128.2 332.4,126.4 332.6,122.6 332.8,121.8 333,122.7 333.2,123.9 333.4,122.3 333.6,120.2 333.8,120.4 334,120 334.2,118.6 334.4,115 334.6,115 334.8,114.7 335,114.9 335.2,113.8 335.4,114.1 335.6,115.6 335.8,114.4 336,113.3 336.2,111.7 336.4,111.8 336.6,112.3 336.8,115.9 337,117.2 337.2,115.6 337.4,116.8 337.6,112.5 337.8,113.4 338,111.2 338.2,113.4 338.4,113 338.6,114.3 338.8,116.3 339,116.1 339.2,114 339.4,115.6 339.6,115.8 339.8,115.3 340,117.5 340.2,117 340.4,117.8 340.6,121.4 340.8,120 341,117.6 341.2,116.5 341.4,117.5 341.6,118.9 341.8,120.5 342,123.5 342.2,122.1 342.4,123.5 342.6,122.7 342.8,122.6 343,121.9 343.2,121 343.4,125.5 343.6,124.8 343.8,128 344,127.2 344.2,129 344.4,129.4 344.6,125.6 344.8,125.1 345,127 345.2,126.3 345.4,123.8 345.6,126.9 345.8,126.2 346,126 346.2,128.7 346.4,124.8 346.6,127.8 346.8,124 347,123.1 347.2,127.9 347.4,128.5 347.6,129.7 347.8,130.6 348,128.6 348.2,127.2 348.4,122.1 348.6,122.6 348.8,124.8 349,125.2 349.2,127 349.4,126.4 349.6,129.7 349.8,130.6 350,128.1 350.2,128.2 350.4,127.5 350.6,129.4 350.8,129.2 351,128.6 351.2,129.8 351.4,130.3 351.6,127 351.8,129.1 352,127.7 352.2,128.3 352.4,127.9 352.6,131 352.8,131.9 353,131.2 353.2,133.1 353.4,133.2 353.6,132 353.8,129.8 354,129.3 354.2,131.7 354.4,130.6 354.6,136 354.8,130.9 355,130.3 355.2,131.8 355.4,130.4 355.6,127.3 355.8,131.7 356,131 356.2,132.5 356.4,131.2 356.6,131.7 356.8,131.7 357,130.7 357.2,127 357.4,126.4 357.6,125.5 357.8,128 358,127.9 358.2,126.2 358.4,127.9 358.6,124.9 358.8,125 359,123.3 359.2,124.3 359.4,124.3 359.6,125.4 359.8,126.8 360,126.9 360.2,126.4 360.4,125.5 360.6,122.3 360.8,123.4 361,120.6 361.2,121.7 361.4,125.5 361.6,126.1 361.8,129.6 362,129.4 362.2,129.1 362.4,126 362.6,126.3 362.8,127.8 363,128.9 363.2,129.1 363.4,129.5 363.6,129.3 363.8,129 364,128.2 364.2,129.7 364.4,128 364.6,127.6 364.8,130.3 365,129.2 365.2,132 365.4,133.3 365.6,130.6 365.8,127.8 366,125.3 366.2,129.5 366.4,127.2 366.6,126 366.8,129.6 367,126.3 367.2,127.2 367.4,127.9 367.6,126.3 367.8,123.8 368,128.1 368.2,124.5 368.4,126.2 368.6,128.3 368.8,125.6 369,126.9 369.2,128.6 369.4,129.2 369.6,126 369.8,127.9 370,126.8 370.2,129.9 370.4,126.3 370.6,130.7 370.8,129.2 371,129.1 371.2,123.8 371.4,125.6 371.6,128 371.8,131.3 372,128.9 372.2,129.2 372.4,130.9 372.6,129.9 372.8,127.1 373,125.8 373.2,124.7 373.4,125.1 373.6,125.9 373.8,126.7 374,126.3 374.2,125.9 374.4,123.8 374.6,123.2 374.8,118.5 375,121.7 375.2,119 375.4,120.9 375.6,117.6 375.8,121.3 376,120.1 376.2,119.1 376.4,116.8 376.6,115.1 376.8,118 377,117 377.2,114.7 377.4,115.2 377.6,113.3 377.8,111.2 378,110.3 378.2,110.2 378.4,109.8 378.6,107.4 378.8,110.7 379,110.6 379.2,111.1 379.4,108.3 379.6,110.6 379.8,109.9 380,107.7 380.2,105 380.4,109.6 380.6,107.9 380.8,106.8 381,110.5 381.2,110 381.4,107.8 381.6,106.4 381.8,106.6 382,105.7 382.2,103.5 382.4,102.9 382.6,104.1 382.8,99.8 383,104.4 383.2,102.9 383.4,102.7 383.6,101.4 383.8,101 384,100.8 384.2,100.1 384.4,99.1 384.6,100.8 384.8,98.7 385,100.3 385.2,94.9 385.4,95.2 385.6,95.5 385.8,93.4 386,93.9 386.2,97.1 386.4,94.1 386.6,92.3 386.8,88.8 387,91.9 387.2,89.6 387.4,89.5 387.6,92.3 387.8,89.9 388,90.4 388.2,90 388.4,90.7 388.6,89.5 388.8,90.2 389,87.9 389.2,85.6 389.4,87 389.6,90.9 389.8,90 390,93.5 390.2,94.2 390.4,93.1 390.6,92.7 390.8,94 391,92.6 391.2,91.4 391.4,92.6 391.6,96.3 391.8,96.9 392,98.1 392.2,95.5 392.4,95.4 392.6,95.3 392.8,96.5 393,95.7 393.2,99.7 393.4,100.3 393.6,98.7 393.8,95.9 394,97 394.2,101.4 394.4,98.3 394.6,97.6 394.8,97.9 395,100.5 395.2,98.5 395.4,99.4 395.6,99.1 395.8,101.7 396,102.1 396.2,100.9 396.4,100.5 396.6,99.6 396.8,103.1 397,103.3 397.2,103.6 397.4,104.1 397.6,104.3 397.8,103.3 398,104 398.2,104 398.4,106.4 398.6,106.9 398.8,109.1 399,104.3 399.2,108.1 399.4,105.8 399.6,105.2 399.8,105 400,106.5 400.2,106.5 400.4,111.4 400.6,110.4 400.8,111.5 401,110.7 401.2,108.1 401.4,106.9 401.6,106.7 401.8,108.6 402,107.6 402.2,107.7 402.4,108.4 402.6,106.7 402.8,109 403,104.2 403.2,106.5 403.4,107.1 403.6,104.5 403.8,107.8 404,107.2 404.2,108.2 404.4,105.1 404.6,105.7 404.8,102.8 405,103 405.2,104.6 405.4,103.6 405.6,101.6 405.8,103.2 406,103.6 406.2,106.1 406.4,103.5 406.6,103.1 406.8,106.5 407,105.7 407.2,106.5 407.4,105.7 407.6,108.7 407.8,106.1 408,102.5 408.2,102.6 408.4,102.2 408.6,102.8 408.8,104.4 409,103.5 409.2,104.6 409.4,107.9 409.6,104.7 409.8,102.9 410,101.8 410.2,99.1 410.4,99.8 410.6,100.8 410.8,100.8 411,103.6 411.2,103.1 411.4,104.7 411.6,103.1 411.8,102.7 412,101.9 412.2,103.9 412.4,103.7 412.6,104.1 412.8,104.3 413,104.9 413.2,106.4 413.4,106.6 413.6,104.9 413.8,103.2 414,103.5 414.2,104.3 414.4,102.2 414.6,104.4 414.8,102.2 415,102.7 415.2,99.1 415.4,100.7 415.6,97 415.8,99.2 416,98.7 416.2,97.2 416.4,98.2 416.6,101.3 416.8,99.9 417,100.2 417.2,97.2 417.4,92.7 417.6,96.5 417.8,95.6 418,95.7 418.2,96.1 418.4,94.8 418.6,93.8 418.8,94.9 419,93 419.2,91.3 419.4,91.8 419.6,93.1 419.8,93.2 420,93.4 420.2,91.8 420.4,91.7 420.6,89.5 420.8,87.3 421,90.4 421.2,89.2 421.4,88.9 421.6,88.6 421.8,90.5 422,91.8 422.2,88.9 422.4,88.6 422.6,85.5 422.8,87 423,87.1 423.2,89.8 423.4,89 423.6,88.5 423.8,89.2 424,87.6 424.2,89.2 424.4,87.9 424.6,87.4 424.8,87 425,88 425.2,86.3 425.4,85.6 425.6,84.1 425.8,86.4 426,84.5 426.2,83.4 426.4,82.5 426.6,85.3 426.8,83.2 427,86.3 427.2,84.5 427.4,84.1 427.6,82.4 427.8,83.4 428,81.9 428.2,82.3 428.4,80.8 428.6,80.2 428.8,83.3 429,83.9 429.2,81.7 429.4,80.1 429.6,79.8 429.8,77.7 430,79.4 430.2,81.4 430.4,81.2 430.6,80.3 430.8,81.9 431,79.6 431.2,79.1 431.4,75.2 431.6,75.3 431.8,76.1 432,77 432.2,77.8 432.4,78 432.6,78.2 432.8,78.3 433,78.6 433.2,75.5 433.4,75.9 433.6,76.5 433.8,77.2 434,78.5 434.2,75.9 434.4,77.4 434.6,74.4 434.8,74.9 435,74.2 435.2,74.3 435.4,73.6 435.6,74 435.8,75 436,74.7 436.2,72.7 436.4,72.2 436.6,71.7 436.8,72.3 437,73.6 437.2,77.9 437.4,77.6 437.6,79.2 437.8,82.9 438,85.5 438.2,86.3 438.4,87.6 438.6,90.6 438.8,93.6 439,94.2 439.2,94.5 439.4,97.9 439.6,93.7 439.8,94.4 440,93 440.2,93.3 440.4,92 440.6,90.5 440.8,93.1 441,91.8 441.2,96 441.4,96.5 441.6,95 441.8,95.7 442,94.2 442.2,92.7 442.4,95.9 442.6,96 442.8,96.9 443,97.4 443.2,98.7 443.4,98.7 443.6,97.7 443.8,97.8 444,98.9 444.2,100.8 444.4,102.5 444.6,106.1 444.8,105.8 445,108.6 445.2,106 445.4,106.9 445.6,105 445.8,104.3 446,104.5 446.2,104.6 446.4,103.3 446.6,105.4 446.8,103.3 447,100.1 447.2,98.7 447.4,98.2 447.6,97 447.8,95.8 448,97.4 448.2,94.7 448.4,95.2 448.6,96.5 448.8,90.3 449,91.9 449.2,91.5 449.4,89.8 449.6,88.6 449.8,88.5 450,87 450.2,87.4 450.4,87.4 450.6,85.1 450.8,84.2 451,83.5 451.2,83.2 451.4,81.9 451.6,82.7 451.8,83.4 452,83.7 452.2,82.5 452.4,79.5 452.6,82.2 452.8,81.5 453,84.1 453.2,82.1 453.4,83 453.6,82 453.8,80.8 454,80.4 454.2,77 454.4,77.6 454.6,76.9 454.8,76.5 455,79.3 455.2,79.4 455.4,79.2 455.6,80 455.8,80.4 456,77.9 456.2,75.8 456.4,76.5 456.6,78.8 456.8,78.8 457,77.6 457.2,80.7 457.4,79.5 457.6,80.8 457.8,79.9 458,78.4 458.2,78.8 458.4,77.7 458.6,78.1 458.8,78.7 459,79.3 459.2,79.5 459.4,75.5 459.6,76.7 459.8,76.1 460,75.7 460.2,78.1 460.4,77.2 460.6,79.4 460.8,79 461,78 461.2,78.6 461.4,75.4 461.6,74.8 461.8,76 462,76.4 462.2,76 462.4,74.5 462.6,75.9 462.8,78.1 463,78.3 463.2,75.8 463.4,77 463.6,76.9 463.8,78.3 464,76.8 464.2,78.9 464.4,76.6 464.6,78.8 464.8,77.8 465,75.4 465.2,76 465.4,77.1 465.6,79.2 465.8,77.6 466,78.6 466.2,79.9 466.4,79.7 466.6,78.4 466.8,78.3 467,80.3 467.2,79.5 467.4,81.5 467.6,82.8 467.8,82.7 468,79.8 468.2,83.6 468.4,83.1 468.6,83.6 468.8,83.9 469,82.2 469.2,86.8 469.4,86.8 469.6,87.8 469.8,87.1 470,87 470.2,86.4 470.4,87.7 470.6,85.8 470.8,85.1 471,84.4 471.2,85.4 471.4,84.2 471.6,83.4 471.8,83.8 472,82.8 472.2,82 472.4,82.7 472.6,83.3 472.8,84.7 473,85 473.2,83.8 473.4,81.6 473.6,81.9 473.8,80.9 474,78.4 474.2,79.3 474.4,78.7 474.6,76.8 474.8,79 475,79.2 475.2,76.5 475.4,75.9 475.6,77.2 475.8,74.5 476,75.1 476.2,77 476.4,78.4 476.6,78.2 476.8,76.3 477,76.2 477.2,75.9 477.4,75.1 477.6,73.8 477.8,74.2 478,76.3 478.2,76.1 478.4,78.9 478.6,76.5 478.8,74.7 479,75.1 479.2,75.7 479.4,76.2 479.6,76.5 479.8,77.3 480,77.9 480.2,78.8 480.4,79.7 480.6,76.4 480.8,76.1 481,77.4 481.2,78.4 481.4,78 481.6,79.3 481.8,79.3 482,79.6 482.2,80.9 482.4,80.5 482.6,81.9 482.8,83.1 483,81.2 483.2,85.6 483.4,86.5 483.6,86.8 483.8,90.3 484,91.3 484.2,91.7 484.4,91.5 484.6,92.5 484.8,93.7 485,93.6 485.2,97 485.4,98 485.6,98.6 485.8,99.3 486,99.6 486.2,99.5 486.4,100.7 486.6,103.3 486.8,106.1 487,107 487.2,107.2 487.4,107.6 487.6,106.6 487.8,108 488,109.2 488.2,111 488.4,109.8 488.6,109.8 488.8,109.1 489,108.5 489.2,108 489.4,104.7 489.6,103.2 489.8,103.6 490,105.2 490.2,103.8 490.4,104.5 490.6,103.8 490.8,100.4 491,99.3 491.2,96.4 491.4,96.8 491.6,94.8 491.8,93.6 492,92.9 492.2,92.6 492.4,91.7 492.6,92.8 492.8,94.6 493,93.2 493.2,93.6 493.4,95.7 493.6,97.6 493.8,98 494,98.9 494.2,101.3 494.4,100.6 494.6,98 494.8,98.2 495,96.4 495.2,98.3 495.4,98.2 495.6,99.7 495.8,102.3 496,99.4 496.2,100.1 496.4,99 496.6,95.7 496.8,96.3 497,95.9 497.2,96.9 497.4,94.7 497.6,94 497.8,95.6 498,93.7 498.2,91.6 498.4,90.4 498.6,90 498.8,91.2 499,91.7 499.2,88.8 499.4,91.7 499.6,90.7 499.8,90.9 500,90.4 500.2,87.1 500.4,88.3 500.6,85.3 500.8,85.7 501,85.9 501.2,87.4 501.4,86.5 501.6,85.3 501.8,84 502,82.1 502.2,84.1 502.4,83.3 502.6,83.3 502.8,83 503,81.9 503.2,81.9 503.4,82.7 503.6,79.2 503.8,79.4 504,80.7 504.2,79.6 504.4,81.5 504.6,80.3 504.8,80.1 505,80.7 505.2,79.3 505.4,78.4 505.6,77.1 505.8,75.4 506,78.3 506.2,77.2 506.4,77.3 506.6,79 506.8,76.1 507,74.9 507.2,74.8 507.4,75 507.6,74 507.8,73.7 508,74.5 508.2,73.8 508.4,74.2 508.6,73.1 508.8,71.8 509,72.6 509.2,72.2 509.4,73.6 509.6,72.8 509.8,71.5 510,72.6 510.2,72.3 510.4,73.7 510.6,69.8 510.8,69.4 511,68.7 511.2,69.7 511.4,70.3 511.6,68.7 511.8,68.6 512,70.7 512.2,72.2 512.4,71.5 512.6,68.9 512.8,68.8 513,67.1 513.2,66.7 513.4,69.9 513.6,69.3 513.8,68.7 514,68.1 514.2,69.3 514.4,68.5 514.6,68 514.8,68.3 515,68.9 515.2,68.5 515.4,67.9 515.6,68.9 515.8,66.5 516,65.4 516.2,68.2 516.4,67.4 516.6,67.5 516.8,67.7 517,68.1 517.2,66.7 517.4,67.5 517.6,66.2 517.8,64.5 518,64.2 518.2,62.9 518.4,64.5 518.6,63.3 518.8,65.5 519,66.2 519.2,65.1 519.4,64.9 519.6,64.8 519.8,64 520,65.7 520.2,64.2 520.4,65.9 520.6,66.7 520.8,66.1 521,67.6 521.2,64 521.4,65 521.6,64.6 521.8,65.2 522,63.3 522.2,63.9 522.4,64.8 522.6,66.2 522.8,65.6 523,64.3 523.2,63.4 523.4,62.7 523.6,61.7 523.8,62.3 524,62.9 524.2,63.6 524.4,62 524.6,62.9 524.8,60 525,61.1 525.2,59.4 525.4,60.8 525.6,60.6 525.8,61 526,61.3 526.2,62.3 526.4,60 526.6,60.4 526.8,59.5 527,59 527.2,59 527.4,59.4 527.6,58.6 527.8,59.8 528,60.3 528.2,58.9 528.4,59.1 528.6,57.8 528.8,59.2 529,58.4 529.2,59.2 529.4,60.4 529.6,60.5 529.8,58.6 530,57.3 530.2,58.4 530.4,54.6 530.6,58 530.8,58.5 531,57.1 531.2,59.3 531.4,59.5 531.6,59.1 531.8,56.4 532,57 532.2,57 532.4,56.9 532.6,57.5 532.8,57.7 533,55.6 533.2,57.7 533.4,57.6 533.6,57.1 533.8,56 534,56 534.2,56.3 534.4,58.4 534.6,56.6 534.8,58.7 535,56.9 535.2,56.2 535.4,55.7 535.6,57 535.8,54.6 536,57.2 536.2,56.9 536.4,56.8 536.6,56.7 536.8,57.4 537,56.7 537.2,56.4 537.4,54.6 537.6,54.5 537.8,55.5 538,54.4 538.2,56 538.4,55.2 538.6,54.1 538.8,53.8 539,53.7 539.2,52.1 539.4,54.5 539.6,54.9 539.8,53.6 540,55.3 540.2,57 540.4,56.4 540.6,55.2 540.8,53.9 541,53.9 541.2,56.9 541.4,56.7 541.6,56 541.8,57.6 542,56.9 542.2,56.8 542.4,56.3 542.6,55.9 542.8,57.2 543,55.1 543.2,56.2 543.4,58.4 543.6,59.1 543.8,57.4 544,59.4 544.2,58.5 544.4,55.9 544.6,58.6 544.8,55.8 545,58 545.2,57.2 545.4,57.1 545.6,59.4 545.8,59.1 546,58.3 546.2,58.2 546.4,58.1 546.6,58.2 546.8,58.5 547,60.2 547.2,60.2 547.4,60 547.6,59.4 547.8,58.8 548,57.7 548.2,58.5 548.4,58.4 548.6,60.7 548.8,59.4 549,59.9 549.2,60.2 549.4,60.5 549.6,59.8 549.8,59.5 550,61.7 550.2,60.5 550.4,61.8 550.6,64.3 550.8,61.2 551,62.1 551.2,60.1 551.4,57.7 551.6,57.7 551.8,58.7 552,56.9 552.2,58.4 552.4,59.9 552.6,59.4 552.8,59.1 553,57.6 553.2,57.2 553.4,57.2 553.6,57 553.8,57.9 554,57.5 554.2,59.2 554.4,58.2 554.6,57.2 554.8,57.5 555,55 555.2,54.2 555.4,55.1 555.6,54.1 555.8,55.2 556,56.3 556.2,55.4 556.4,54.1 556.6,53.3 556.8,53.2 557,54 557.2,52.6 557.4,52.7 557.6,54.1 557.8,53.4 558,53.6 558.2,53.4 558.4,52 558.6,52.4 558.8,53.3 559,52.6 559.2,53 559.4,53.4 559.6,53.7 559.8,54.6 560,50.9 560.2,50.9 560.4,51.9 560.6,50.2 560.8,50.8 561,49.5 561.2,52.2 561.4,52 561.6,51.7 561.8,50.8 562,50.8 562.2,50.3 562.4,51 562.6,50.7 562.8,52.5 563,51.6 563.2,52.7 563.4,50 563.6,51.9 563.8,52.3 564,50.7 564.2,52.9 564.4,50.2 564.6,50.2 564.8,50.4 565,50.3 565.2,50.3 565.4,49.2 565.6,49.1 565.8,51.5 566,50.3 566.2,52 566.4,50.6 566.6,51.4 566.8,51.6 567,50.8 567.2,49.6 567.4,49.8 567.6,49.7 567.8,51.1 568,52.3 568.2,51.2 568.4,50.7 568.6,52 568.8,51.3 569,51.3 569.2,51 569.4,49.1 569.6,51.3 569.8,50.3 570,49.3 570.2,52 570.4,50.8 570.6,50.6 570.8,48.3 571,49.2 571.2,49.9 571.4,50.1 571.6,51.7 571.8,52.8 572,53.5 572.2,53.8 572.4,52.4 572.6,53.6 572.8,52.6 573,52.8 573.2,52.4 573.4,51.6 573.6,51.3 573.8,53.6 574,52 574.2,51.5 574.4,52.2 574.6,50.1 574.8,50.1 575,52.1 575.2,52.8 575.4,52.3 575.6,51.8 575.8,49.6 576,49.9 576.2,48.9 576.4,49.4 576.6,49.3 576.8,48.2 577,49.4 577.2,49.5 577.4,49.2 577.6,49.1 577.8,47.9 578,47.8 578.2,48.1 578.4,47 578.6,47.8 578.8,48.7 579,49.7 579.2,49.4 579.4,49.2 579.6,45.2 579.8,45.6 580,44.1 580.2,45.2 580.4,44.4 580.6,47.2 580.8,47.5 581,45.6 581.2,46.3 581.4,46.1 581.6,46.6 581.8,46.1 582,45.3 582.2,45.1 582.4,46.4 582.6,46.5 582.8,45.4 583,43.9 583.2,44.7 583.4,42.9 583.6,43.6 583.8,44.9 584,44.5 584.2,45.7 584.4,44 584.6,45.4 584.8,43 585,42.2 585.2,41.8 585.4,42.6 585.6,42 585.8,42.1 586,44.4 586.2,42.5 586.4,42.2 586.6,42.3 586.8,40.9 587,41.1 587.2,40.9 587.4,40.5 587.6,41.6 587.8,40.3 588,39.6 588.2,39.9 588.4,38.2 588.6,39.2 588.8,38.3 589,37.7 589.2,39.2 589.4,38.8 589.6,35.7 589.8,37.6 590,37.1 590.2,36.9 590.4,35.7 590.6,35.1 590.8,36.8 591,38.2 591.2,35.8 591.4,36.1 591.6,36.5 591.8,34.2 592,35 592.2,35.6 592.4,33.8 592.6,35.2 592.8,34.7 593,36 593.2,35.8 593.4,35.9 593.6,33.6 593.8,33.5 594,32.1 594.2,31 594.4,32.9 594.6,31.4 594.8,31.9 595,34.4 595.2,32.7 595.4,30.9 595.6,31.3 595.8,29.9 596,30.1 596.2,29.6 596.4,31.3 596.6,29.5 596.8,30.9 597,30.5 597.2,30.1 597.4,30.4 597.6,25.5 597.8,25.1 598,24.6 598.2,24.5 598.4,24.7 598.6,22.9 598.8,21.8 599,20.2 599.2,18.8 599.4,18.5 599.6,18.9 599.8,18.6 600,20.1 600.2,20.7 600.4,20.1 600.6,18.8 600.8,20.2 601,19.7 601.2,19 601.4,18 601.6,18.2 601.8,20 602,19.1 602.2,17.7 602.4,19.1 602.6,18.6 602.8,18 603,18.2 603.2,18 603.4,16.5 603.6,19.5 603.8,18.7 604,18.4 604.2,18.6 604.4,17.4 604.6,18 604.8,16.2 605,16.3 605.2,16.2 605.4,17.2 605.6,15.4 605.8,15.9 606,15.7 606.2,15 606.4,12.4 606.6,12.8 606.8,15.7 607,14.7 607.2,17.5 607.4,14.6 607.6,15.3 607.8,13.8 608,14.7 608.2,15.5 608.4,16.8 608.6,18.3 608.8,19.3 609,17.4 609.2,18.9 609.4,18.4 609.6,17.8 609.8,19.2 610,20.9 610.2,19.2 610.4,22.7 610.6,24.4 610.8,21.9 611,24.5 611.2,23.2 611.4,21.3 611.6,22.4 611.8,20.2 612,21.2 612.2,21.4 612.4,20.2 612.6,21.2 612.8,20.1 613,19 613.2,17.4 613.4,16.4 613.6,15.5 613.8,18.5 614,16.7 614.2,19.5 614.4,18.6 614.6,18 614.8,19 615,16.4 615.2,18.2 615.4,16.9 615.6,17.7 615.8,17.4 616,17.5 616.2,18.3 616.4,16.4 616.6,15.1 616.8,16.3 617,13.6 617.2,16.2 617.4,14.9 617.6,15.3 617.8,14.3 618,15 618.2,13.6 618.4,13.2 618.6,13.8 618.8,12.7 619,12.5 619.2,11.9 619.4,12.5 619.6,11 619.8,11.1 620,13.9 620.2,10.9 620.4,8.8 620.6,11.2 620.8,12.3 621,10.9 621.2,12.3 621.4,11.5 621.6,10.8 621.8,14.3 622,15 622.2,10.7 622.4,9.2 622.6,13.2 622.8,13.7 623,13.6 623.2,14.4 623.4,12.9 623.6,12.4 623.8,13 624,11.8 624.2,12.3 624.4,12.2 624.6,13.2 624.8,13 625,11.2 625.2,13.2 625.4,10.6 625.6,10.7 625.8,9.5 626,12.8 626.2,12.1 626.4,12.9 626.6,15.1 626.8,14.4 627,12.8 627.2,10.5 627.4,13.6 627.6,12.2 627.8,11.7 628,13.4" fill="none" stroke="#1b9e77" stroke-width="0.95" stroke-linejoin="round"/>
</g>
<text transform="translate(273.3,80.9) rotate(-90)" x="-58.8" y="0" font-size="10.19" fill="#262626" stroke="#262626" stroke-width="0.22" textLength="117.5" lengthAdjust="spacingAndGlyphs">Number of observations</text>
<text transform="translate(284.4,80.9) rotate(-90)" x="-15.8" y="0" font-size="10.19" fill="#262626" stroke="#262626" stroke-width="0.22" textLength="31.6" lengthAdjust="spacingAndGlyphs">in SPG</text>
<text transform="translate(674.3,80.9) rotate(-90)" x="-75.2" y="0" font-size="10.19" fill="#1b9e77" stroke="#1b9e77" stroke-width="0.22" textLength="150.3" lengthAdjust="spacingAndGlyphs">Number of global observations</text>
<clipPath id="cd"><rect x="309.7" y="193.45" width="333.2" height="160.35000000000002"/></clipPath><path d="M309.7,353.8 V193.45 H642.9" fill="none" stroke="#cfcfcf" stroke-width="1"/><path d="M309.7,353.8 H642.9" fill="none" stroke="#cfcfcf" stroke-width="1"/><path d="M642.9,192.95 V354.3" fill="none" stroke="#d95f02" stroke-width="1"/><line x1="324.6" y1="353.8" x2="324.6" y2="350.2" stroke="#7a7a7a" stroke-width="0.8"/><text transform="translate(324.6,364.8) rotate(0.03)" x="-12.2" y="0" font-size="9.89" fill="#262626" stroke="#262626" stroke-width="0.22" textLength="24.5" lengthAdjust="spacingAndGlyphs">1850</text><line x1="368.7" y1="353.8" x2="368.7" y2="350.2" stroke="#7a7a7a" stroke-width="0.8"/><text transform="translate(368.7,364.8) rotate(0.03)" x="-12.2" y="0" font-size="9.89" fill="#262626" stroke="#262626" stroke-width="0.22" textLength="24.5" lengthAdjust="spacingAndGlyphs">1875</text><line x1="412.9" y1="353.8" x2="412.9" y2="350.2" stroke="#7a7a7a" stroke-width="0.8"/><text transform="translate(412.9,364.8) rotate(0.03)" x="-12.2" y="0" font-size="9.89" fill="#262626" stroke="#262626" stroke-width="0.22" textLength="24.5" lengthAdjust="spacingAndGlyphs">1900</text><line x1="457" y1="353.8" x2="457" y2="350.2" stroke="#7a7a7a" stroke-width="0.8"/><text transform="translate(457,364.8) rotate(0.03)" x="-12.2" y="0" font-size="9.89" fill="#262626" stroke="#262626" stroke-width="0.22" textLength="24.5" lengthAdjust="spacingAndGlyphs">1925</text><line x1="501.2" y1="353.8" x2="501.2" y2="350.2" stroke="#7a7a7a" stroke-width="0.8"/><text transform="translate(501.2,364.8) rotate(0.03)" x="-12.2" y="0" font-size="9.89" fill="#262626" stroke="#262626" stroke-width="0.22" textLength="24.5" lengthAdjust="spacingAndGlyphs">1950</text><line x1="545.3" y1="353.8" x2="545.3" y2="350.2" stroke="#7a7a7a" stroke-width="0.8"/><text transform="translate(545.3,364.8) rotate(0.03)" x="-12.2" y="0" font-size="9.89" fill="#262626" stroke="#262626" stroke-width="0.22" textLength="24.5" lengthAdjust="spacingAndGlyphs">1975</text><line x1="589.5" y1="353.8" x2="589.5" y2="350.2" stroke="#7a7a7a" stroke-width="0.8"/><text transform="translate(589.5,364.8) rotate(0.03)" x="-12.2" y="0" font-size="9.89" fill="#262626" stroke="#262626" stroke-width="0.22" textLength="24.5" lengthAdjust="spacingAndGlyphs">2000</text><line x1="633.6" y1="353.8" x2="633.6" y2="350.2" stroke="#7a7a7a" stroke-width="0.8"/><text transform="translate(633.6,364.8) rotate(0.03)" x="-12.2" y="0" font-size="9.89" fill="#262626" stroke="#262626" stroke-width="0.22" textLength="24.5" lengthAdjust="spacingAndGlyphs">2025</text><text transform="translate(306.2,357.3) rotate(0.03)" x="-15.3" y="0" font-size="9.89" fill="#262626" stroke="#262626" stroke-width="0.22" textLength="15.3" lengthAdjust="spacingAndGlyphs">0.0</text><text transform="translate(646.2,357.3) rotate(0.03)" x="0" y="0" font-size="9.89" fill="#d95f02" stroke="#d95f02" stroke-width="0.22" textLength="15.3" lengthAdjust="spacingAndGlyphs">0.0</text><line x1="309.7" y1="324.7" x2="313.8" y2="324.7" stroke="#7a7a7a" stroke-width="0.8"/><text transform="translate(306.2,328.2) rotate(0.03)" x="-15.3" y="0" font-size="9.89" fill="#262626" stroke="#262626" stroke-width="0.22" textLength="15.3" lengthAdjust="spacingAndGlyphs">0.2</text><line x1="642.9" y1="324.7" x2="638.8" y2="324.7" stroke="#d95f02" stroke-width="0.8"/><text transform="translate(646.2,328.2) rotate(0.03)" x="0" y="0" font-size="9.89" fill="#d95f02" stroke="#d95f02" stroke-width="0.22" textLength="15.3" lengthAdjust="spacingAndGlyphs">0.2</text><line x1="309.7" y1="295.6" x2="313.8" y2="295.6" stroke="#7a7a7a" stroke-width="0.8"/><text transform="translate(306.2,299.1) rotate(0.03)" x="-15.3" y="0" font-size="9.89" fill="#262626" stroke="#262626" stroke-width="0.22" textLength="15.3" lengthAdjust="spacingAndGlyphs">0.4</text><line x1="642.9" y1="295.6" x2="638.8" y2="295.6" stroke="#d95f02" stroke-width="0.8"/><text transform="translate(646.2,299.1) rotate(0.03)" x="0" y="0" font-size="9.89" fill="#d95f02" stroke="#d95f02" stroke-width="0.22" textLength="15.3" lengthAdjust="spacingAndGlyphs">0.4</text><line x1="309.7" y1="266.4" x2="313.8" y2="266.4" stroke="#7a7a7a" stroke-width="0.8"/><text transform="translate(306.2,269.9) rotate(0.03)" x="-15.3" y="0" font-size="9.89" fill="#262626" stroke="#262626" stroke-width="0.22" textLength="15.3" lengthAdjust="spacingAndGlyphs">0.6</text><line x1="642.9" y1="266.4" x2="638.8" y2="266.4" stroke="#d95f02" stroke-width="0.8"/><text transform="translate(646.2,269.9) rotate(0.03)" x="0" y="0" font-size="9.89" fill="#d95f02" stroke="#d95f02" stroke-width="0.22" textLength="15.3" lengthAdjust="spacingAndGlyphs">0.6</text><line x1="309.7" y1="237.3" x2="313.8" y2="237.3" stroke="#7a7a7a" stroke-width="0.8"/><text transform="translate(306.2,240.8) rotate(0.03)" x="-15.3" y="0" font-size="9.89" fill="#262626" stroke="#262626" stroke-width="0.22" textLength="15.3" lengthAdjust="spacingAndGlyphs">0.8</text><line x1="642.9" y1="237.3" x2="638.8" y2="237.3" stroke="#d95f02" stroke-width="0.8"/><text transform="translate(646.2,240.8) rotate(0.03)" x="0" y="0" font-size="9.89" fill="#d95f02" stroke="#d95f02" stroke-width="0.22" textLength="15.3" lengthAdjust="spacingAndGlyphs">0.8</text><line x1="309.7" y1="208.2" x2="313.8" y2="208.2" stroke="#7a7a7a" stroke-width="0.8"/><text transform="translate(306.2,211.7) rotate(0.03)" x="-15.3" y="0" font-size="9.89" fill="#262626" stroke="#262626" stroke-width="0.22" textLength="15.3" lengthAdjust="spacingAndGlyphs">1.0</text><line x1="642.9" y1="208.2" x2="638.8" y2="208.2" stroke="#d95f02" stroke-width="0.8"/><text transform="translate(646.2,211.7) rotate(0.03)" x="0" y="0" font-size="9.89" fill="#d95f02" stroke="#d95f02" stroke-width="0.22" textLength="15.3" lengthAdjust="spacingAndGlyphs">1.0</text><g clip-path="url(#cd)"><polyline points="325,291.4 326.8,319.1 328.6,326.1 330.3,298.3 332.1,312.2 333.9,319.1 335.6,326.1 337.4,312.2 339.2,312.2 340.9,319.1 342.7,305.3 344.5,346.9 346.2,353.8 348,346.9 349.8,346.9 351.5,353.8 353.3,346.9 355.1,353.8 356.8,353.8 358.6,346.9 360.4,346.9 362.1,353.8 363.9,353.8 365.7,353.8 367.4,312.2 369.2,319.1 370.9,326.1 372.7,319.1 374.5,312.2 376.2,284.5 378,291.4 379.8,284.5 381.5,312.2 383.3,312.2 385.1,319.1 386.8,319.1 388.6,305.3 390.4,291.4 392.1,305.3 393.9,277.5 395.7,291.4 397.4,291.4 399.2,291.4 401,305.3 402.7,291.4 404.5,298.3 406.3,291.4 408,298.3 409.8,291.4 411.6,284.5 413.3,326.1 415.1,319.1 416.9,319.1 418.6,326.1 420.4,305.3 422.2,291.4 423.9,291.4 425.7,305.3 427.5,284.5 429.2,277.5 431,270.6 432.7,263.7 434.5,284.5 436.3,256.7 438,263.7 439.8,263.7 441.6,263.7 443.3,242.9 445.1,263.7 446.9,263.7 448.6,263.7 450.4,270.6 452.2,263.7 453.9,270.6 455.7,249.8 457.5,249.8 459.2,256.7 461,242.9 462.8,249.8 464.5,249.8 466.3,242.9 468.1,235.9 469.8,256.7 471.6,249.8 473.4,242.9 475.1,249.8 476.9,242.9 478.7,249.8 480.4,249.8 482.2,242.9 484,346.9 485.7,312.2 487.5,277.5 489.3,333 491,305.3 492.8,305.3 494.5,270.6 496.3,235.9 498.1,242.9 499.8,215.1 501.6,222.1 503.4,215.1 505.1,208.2 506.9,208.2 508.7,208.2 510.4,222.1 512.2,222.1 514,208.2 515.7,208.2 517.5,208.2 519.3,208.2 521,208.2 522.8,208.2 524.6,208.2 526.3,208.2 528.1,208.2 529.9,208.2 531.6,208.2 533.4,208.2 535.2,208.2 536.9,208.2 538.7,208.2 540.5,208.2 542.2,208.2 544,208.2 545.8,208.2 547.5,208.2 549.3,208.2 551.1,215.1 552.8,215.1 554.6,215.1 556.3,215.1 558.1,215.1 559.9,215.1 561.6,222.1 563.4,229 565.2,215.1 566.9,215.1 568.7,215.1 570.5,222.1 572.2,222.1 574,222.1 575.8,215.1 577.5,229 579.3,235.9 581.1,215.1 582.8,215.1 584.6,208.2 586.4,208.2 588.1,215.1 589.9,215.1 591.7,222.1 593.4,215.1 595.2,222.1 597,215.1 598.7,215.1 600.5,215.1 602.3,208.2 604,215.1 605.8,222.1 607.6,215.1 609.3,222.1 611.1,222.1 612.9,215.1 614.6,235.9 616.4,208.2 618.1,229 619.9,222.1 621.7,215.1 623.4,222.1 625.2,222.1 627,208.2" fill="none" stroke="#262626" stroke-width="0.7" stroke-linejoin="round"/><polyline points="325,349.9 326.8,348.8 328.6,348.3 330.3,347.2 332.1,345.6 333.9,344.6 335.6,342.7 337.4,341.8 339.2,344.7 340.9,346.8 342.7,348.5 344.5,350.7 346.2,351 348,351.7 349.8,351.3 351.5,351 353.3,352.2 355.1,351.8 356.8,352.2 358.6,351.5 360.4,351.4 362.1,350.7 363.9,351.3 365.7,350.6 367.4,350.7 369.2,350.8 370.9,350.9 372.7,348.8 374.5,348.6 376.2,346.5 378,345.3 379.8,343.9 381.5,343.2 383.3,340.5 385.1,337 386.8,336.7 388.6,335.2 390.4,335.7 392.1,338.1 393.9,338.1 395.7,338.3 397.4,340.2 399.2,342.8 401,342.7 402.7,341.5 404.5,342.4 406.3,340.8 408,340.9 409.8,339 411.6,338.2 413.3,341.2 415.1,341 416.9,335.1 418.6,333 420.4,331.5 422.2,330 423.9,329.4 425.7,327.5 427.5,325.7 429.2,326.3 431,325.5 432.7,323.9 434.5,321.7 436.3,318.6 438,325.8 439.8,331.5 441.6,329.5 443.3,332.8 445.1,337.3 446.9,333.2 448.6,328.9 450.4,326.6 452.2,322.4 453.9,318.9 455.7,317.9 457.5,317.9 459.2,316.2 461,313.9 462.8,315 464.5,315.2 466.3,316.6 468.1,317 469.8,317.7 471.6,318.9 473.4,317.1 475.1,315.8 476.9,310.1 478.7,312.5 480.4,313.2 482.2,320.9 484,328.5 485.7,335.4 487.5,342.3 489.3,339.6 491,337.2 492.8,339.8 494.5,339.3 496.3,332.7 498.1,329.3 499.8,320.8 501.6,317 503.4,316.4 505.1,313.7 506.9,311.9 508.7,312.7 510.4,311.2 512.2,309.3 514,307 515.7,305.1 517.5,303.7 519.3,301.8 521,300.8 522.8,300.6 524.6,298.4 526.3,297.7 528.1,297.7 529.9,296.3 531.6,296.1 533.4,294.5 535.2,294.2 536.9,293.8 538.7,293.7 540.5,293.1 542.2,293.8 544,293.7 545.8,293.2 547.5,294.9 549.3,293.8 551.1,294.3 552.8,289.8 554.6,293.8 556.3,292.8 558.1,293 559.9,293.3 561.6,291.3 563.4,290.9 565.2,291.4 566.9,291.5 568.7,291.4 570.5,292.4 572.2,291.9 574,293.9 575.8,294.9 577.5,295.2 579.3,295.2 581.1,295.2 582.8,293.6 584.6,293.5 586.4,295.8 588.1,296.6 589.9,297.2 591.7,297.5 593.4,298 595.2,297.2 597,298.5 598.7,296.4 600.5,296 602.3,294.7 604,292.5 605.8,294.6 607.6,293.3 609.3,294.7 611.1,298.5 612.9,303.7 614.6,300.2 616.4,296.6 618.1,295.7 619.9,295.3 621.7,296.9 623.4,296.8 625.2,296.7 627,301.2" fill="none" stroke="#d95f02" stroke-width="0.85" stroke-linejoin="round"/></g><text transform="translate(274.9,273.6) rotate(-90)" x="-57.2" y="0" font-size="10.19" fill="#262626" stroke="#262626" stroke-width="0.22" textLength="114.3" lengthAdjust="spacingAndGlyphs">Fraction of full gridcells</text><text transform="translate(286,273.6) rotate(-90)" x="-42.7" y="0" font-size="10.19" fill="#262626" stroke="#262626" stroke-width="0.22" textLength="85.4" lengthAdjust="spacingAndGlyphs">in SPG - HadSST4</text><text transform="translate(671.9,273.6) rotate(-90)" x="-51.5" y="0" font-size="10.19" fill="#d95f02" stroke="#d95f02" stroke-width="0.22" textLength="103.1" lengthAdjust="spacingAndGlyphs">Fraction of global full</text><text transform="translate(683.1,273.6) rotate(-90)" x="-47.4" y="0" font-size="10.19" fill="#d95f02" stroke="#d95f02" stroke-width="0.22" textLength="94.7" lengthAdjust="spacingAndGlyphs">gridcells - HadSST4</text>
<clipPath id="cf"><rect x="309.7" y="386.5" width="333.2" height="160.0"/></clipPath><path d="M309.7,546.5 V386.5 H642.9" fill="none" stroke="#cfcfcf" stroke-width="1"/><path d="M309.7,546.5 H642.9" fill="none" stroke="#cfcfcf" stroke-width="1"/><path d="M642.9,386.0 V547.0" fill="none" stroke="#d95f02" stroke-width="1"/><line x1="324.6" y1="546.5" x2="324.6" y2="542.9" stroke="#7a7a7a" stroke-width="0.8"/><text transform="translate(324.6,557.5) rotate(0.03)" x="-12.2" y="0" font-size="9.89" fill="#262626" stroke="#262626" stroke-width="0.22" textLength="24.5" lengthAdjust="spacingAndGlyphs">1850</text><line x1="368.7" y1="546.5" x2="368.7" y2="542.9" stroke="#7a7a7a" stroke-width="0.8"/><text transform="translate(368.7,557.5) rotate(0.03)" x="-12.2" y="0" font-size="9.89" fill="#262626" stroke="#262626" stroke-width="0.22" textLength="24.5" lengthAdjust="spacingAndGlyphs">1875</text><line x1="412.9" y1="546.5" x2="412.9" y2="542.9" stroke="#7a7a7a" stroke-width="0.8"/><text transform="translate(412.9,557.5) rotate(0.03)" x="-12.2" y="0" font-size="9.89" fill="#262626" stroke="#262626" stroke-width="0.22" textLength="24.5" lengthAdjust="spacingAndGlyphs">1900</text><line x1="457" y1="546.5" x2="457" y2="542.9" stroke="#7a7a7a" stroke-width="0.8"/><text transform="translate(457,557.5) rotate(0.03)" x="-12.2" y="0" font-size="9.89" fill="#262626" stroke="#262626" stroke-width="0.22" textLength="24.5" lengthAdjust="spacingAndGlyphs">1925</text><line x1="501.2" y1="546.5" x2="501.2" y2="542.9" stroke="#7a7a7a" stroke-width="0.8"/><text transform="translate(501.2,557.5) rotate(0.03)" x="-12.2" y="0" font-size="9.89" fill="#262626" stroke="#262626" stroke-width="0.22" textLength="24.5" lengthAdjust="spacingAndGlyphs">1950</text><line x1="545.3" y1="546.5" x2="545.3" y2="542.9" stroke="#7a7a7a" stroke-width="0.8"/><text transform="translate(545.3,557.5) rotate(0.03)" x="-12.2" y="0" font-size="9.89" fill="#262626" stroke="#262626" stroke-width="0.22" textLength="24.5" lengthAdjust="spacingAndGlyphs">1975</text><line x1="589.5" y1="546.5" x2="589.5" y2="542.9" stroke="#7a7a7a" stroke-width="0.8"/><text transform="translate(589.5,557.5) rotate(0.03)" x="-12.2" y="0" font-size="9.89" fill="#262626" stroke="#262626" stroke-width="0.22" textLength="24.5" lengthAdjust="spacingAndGlyphs">2000</text><line x1="633.6" y1="546.5" x2="633.6" y2="542.9" stroke="#7a7a7a" stroke-width="0.8"/><text transform="translate(633.6,557.5) rotate(0.03)" x="-12.2" y="0" font-size="9.89" fill="#262626" stroke="#262626" stroke-width="0.22" textLength="24.5" lengthAdjust="spacingAndGlyphs">2025</text><text transform="translate(306.2,550) rotate(0.03)" x="-15.3" y="0" font-size="9.89" fill="#262626" stroke="#262626" stroke-width="0.22" textLength="15.3" lengthAdjust="spacingAndGlyphs">0.0</text><text transform="translate(646.2,550) rotate(0.03)" x="0" y="0" font-size="9.89" fill="#d95f02" stroke="#d95f02" stroke-width="0.22" textLength="15.3" lengthAdjust="spacingAndGlyphs">0.0</text><line x1="309.7" y1="517.3" x2="313.8" y2="517.3" stroke="#7a7a7a" stroke-width="0.8"/><text transform="translate(306.2,520.8) rotate(0.03)" x="-15.3" y="0" font-size="9.89" fill="#262626" stroke="#262626" stroke-width="0.22" textLength="15.3" lengthAdjust="spacingAndGlyphs">0.2</text><line x1="642.9" y1="517.3" x2="638.8" y2="517.3" stroke="#d95f02" stroke-width="0.8"/><text transform="translate(646.2,520.8) rotate(0.03)" x="0" y="0" font-size="9.89" fill="#d95f02" stroke="#d95f02" stroke-width="0.22" textLength="15.3" lengthAdjust="spacingAndGlyphs">0.2</text><line x1="309.7" y1="488" x2="313.8" y2="488" stroke="#7a7a7a" stroke-width="0.8"/><text transform="translate(306.2,491.5) rotate(0.03)" x="-15.3" y="0" font-size="9.89" fill="#262626" stroke="#262626" stroke-width="0.22" textLength="15.3" lengthAdjust="spacingAndGlyphs">0.4</text><line x1="642.9" y1="488" x2="638.8" y2="488" stroke="#d95f02" stroke-width="0.8"/><text transform="translate(646.2,491.5) rotate(0.03)" x="0" y="0" font-size="9.89" fill="#d95f02" stroke="#d95f02" stroke-width="0.22" textLength="15.3" lengthAdjust="spacingAndGlyphs">0.4</text><line x1="309.7" y1="458.8" x2="313.8" y2="458.8" stroke="#7a7a7a" stroke-width="0.8"/><text transform="translate(306.2,462.3) rotate(0.03)" x="-15.3" y="0" font-size="9.89" fill="#262626" stroke="#262626" stroke-width="0.22" textLength="15.3" lengthAdjust="spacingAndGlyphs">0.6</text><line x1="642.9" y1="458.8" x2="638.8" y2="458.8" stroke="#d95f02" stroke-width="0.8"/><text transform="translate(646.2,462.3) rotate(0.03)" x="0" y="0" font-size="9.89" fill="#d95f02" stroke="#d95f02" stroke-width="0.22" textLength="15.3" lengthAdjust="spacingAndGlyphs">0.6</text><line x1="309.7" y1="429.5" x2="313.8" y2="429.5" stroke="#7a7a7a" stroke-width="0.8"/><text transform="translate(306.2,433) rotate(0.03)" x="-15.3" y="0" font-size="9.89" fill="#262626" stroke="#262626" stroke-width="0.22" textLength="15.3" lengthAdjust="spacingAndGlyphs">0.8</text><line x1="642.9" y1="429.5" x2="638.8" y2="429.5" stroke="#d95f02" stroke-width="0.8"/><text transform="translate(646.2,433) rotate(0.03)" x="0" y="0" font-size="9.89" fill="#d95f02" stroke="#d95f02" stroke-width="0.22" textLength="15.3" lengthAdjust="spacingAndGlyphs">0.8</text><line x1="309.7" y1="400.3" x2="313.8" y2="400.3" stroke="#7a7a7a" stroke-width="0.8"/><text transform="translate(306.2,403.8) rotate(0.03)" x="-15.3" y="0" font-size="9.89" fill="#262626" stroke="#262626" stroke-width="0.22" textLength="15.3" lengthAdjust="spacingAndGlyphs">1.0</text><line x1="642.9" y1="400.3" x2="638.8" y2="400.3" stroke="#d95f02" stroke-width="0.8"/><text transform="translate(646.2,403.8) rotate(0.03)" x="0" y="0" font-size="9.89" fill="#d95f02" stroke="#d95f02" stroke-width="0.22" textLength="15.3" lengthAdjust="spacingAndGlyphs">1.0</text><g clip-path="url(#cf)"><polyline points="325,400.3 326.8,400.3 328.6,407.3 330.3,407.3 332.1,407.3 333.9,407.3 335.6,400.3 337.4,407.3 339.2,407.3 340.9,407.3 342.7,407.3 344.5,456 346.2,497.8 348,476.9 349.8,483.8 351.5,497.8 353.3,497.8 355.1,483.8 356.8,483.8 358.6,469.9 360.4,456 362.1,469.9 363.9,483.8 365.7,442.1 367.4,407.3 369.2,400.3 370.9,407.3 372.7,407.3 374.5,400.3 376.2,400.3 378,400.3 379.8,400.3 381.5,400.3 383.3,400.3 385.1,400.3 386.8,400.3 388.6,400.3 390.4,400.3 392.1,400.3 393.9,400.3 395.7,400.3 397.4,400.3 399.2,400.3 401,400.3 402.7,400.3 404.5,400.3 406.3,400.3 408,400.3 409.8,400.3 411.6,400.3 413.3,407.3 415.1,407.3 416.9,400.3 418.6,407.3 420.4,400.3 422.2,407.3 423.9,400.3 425.7,400.3 427.5,400.3 429.2,400.3 431,400.3 432.7,400.3 434.5,400.3 436.3,400.3 438,400.3 439.8,400.3 441.6,400.3 443.3,400.3 445.1,400.3 446.9,400.3 448.6,400.3 450.4,400.3 452.2,400.3 453.9,400.3 455.7,400.3 457.5,400.3 459.2,400.3 461,400.3 462.8,400.3 464.5,400.3 466.3,400.3 468.1,400.3 469.8,400.3 471.6,400.3 473.4,400.3 475.1,400.3 476.9,400.3 478.7,400.3 480.4,400.3 482.2,400.3 484,407.3 485.7,400.3 487.5,400.3 489.3,400.3 491,400.3 492.8,400.3 494.5,400.3 496.3,400.3 498.1,400.3 499.8,400.3 501.6,400.3 503.4,400.3 505.1,400.3 506.9,400.3 508.7,400.3 510.4,400.3 512.2,400.3 514,400.3 515.7,400.3 517.5,400.3 519.3,400.3 521,400.3 522.8,400.3 524.6,400.3 526.3,400.3 528.1,400.3 529.9,400.3 531.6,400.3 533.4,400.3 535.2,400.3 536.9,400.3 538.7,400.3 540.5,400.3 542.2,400.3 544,400.3 545.8,400.3 547.5,400.3 549.3,400.3 551.1,400.3 552.8,400.3 554.6,400.3 556.3,400.3 558.1,400.3 559.9,400.3 561.6,400.3 563.4,400.3 565.2,400.3 566.9,400.3 568.7,400.3 570.5,400.3 572.2,400.3 574,400.3 575.8,400.3 577.5,400.3 579.3,400.3 581.1,400.3 582.8,400.3 584.6,400.3 586.4,400.3 588.1,400.3 589.9,400.3 591.7,400.3 593.4,400.3 595.2,400.3 597,400.3 598.7,400.3 600.5,400.3 602.3,400.3 604,400.3 605.8,400.3 607.6,400.3 609.3,400.3 611.1,400.3 612.9,400.3 614.6,400.3 616.4,400.3 618.1,400.3 619.9,400.3 621.7,400.3 623.4,400.3 625.2,400.3 627,400.3" fill="none" stroke="#262626" stroke-width="0.7" stroke-linejoin="round"/><polyline points="325,509.6 326.8,505.8 328.6,502.5 330.3,498.9 332.1,494 333.9,492.1 335.6,489.1 337.4,491.3 339.2,494.8 340.9,497.2 342.7,499 344.5,511.5 346.2,508.1 348,507.5 349.8,506.5 351.5,506.7 353.3,506.9 355.1,509.6 356.8,507.1 358.6,503.2 360.4,498.9 362.1,501.4 363.9,497.7 365.7,495 367.4,495 369.2,494.9 370.9,493.8 372.7,489.5 374.5,489.7 376.2,485.2 378,481.7 379.8,477.3 381.5,472.6 383.3,468.5 385.1,465.4 386.8,460.6 388.6,454.5 390.4,458.6 392.1,461.6 393.9,464.6 395.7,467.4 397.4,471.8 399.2,474.9 401,471 402.7,469.8 404.5,468.3 406.3,468.7 408,465.9 409.8,462.4 411.6,458.6 413.3,462.3 415.1,454.6 416.9,452.4 418.6,449.7 420.4,451.1 422.2,451.8 423.9,449.4 425.7,446.9 427.5,449.8 429.2,448.5 431,446.3 432.7,448.7 434.5,443.9 436.3,443.6 438,449.5 439.8,456.6 441.6,458.8 443.3,461.6 445.1,461.8 446.9,459.6 448.6,452.2 450.4,447.6 452.2,443.1 453.9,440.1 455.7,443.7 457.5,443 459.2,440.7 461,440.4 462.8,440.2 464.5,439.4 466.3,439 468.1,438.6 469.8,438.1 471.6,435.1 473.4,435.3 475.1,433.6 476.9,431.6 478.7,433.9 480.4,435.4 482.2,444.4 484,449.6 485.7,448 487.5,451.2 489.3,452 491,454.4 492.8,455.4 494.5,450.4 496.3,444.2 498.1,441.4 499.8,437.9 501.6,434.6 503.4,435.6 505.1,435.9 506.9,434.8 508.7,434.5 510.4,435.1 512.2,431.2 514,417.9 515.7,415 517.5,414.9 519.3,413.9 521,413.3 522.8,412.2 524.6,413.1 526.3,413.8 528.1,412.6 529.9,413 531.6,412.5 533.4,412.8 535.2,410.8 536.9,410.5 538.7,409.8 540.5,409.1 542.2,410.5 544,411.6 545.8,411.4 547.5,411.1 549.3,411.4 551.1,403.6 552.8,405.8 554.6,407.6 556.3,407.1 558.1,406.3 559.9,404.1 561.6,403.4 563.4,403.6 565.2,403.8 566.9,404.8 568.7,405 570.5,404.2 572.2,404.4 574,405.4 575.8,406.4 577.5,405.6 579.3,405.7 581.1,404.7 582.8,404.6 584.6,403.9 586.4,404.6 588.1,404 589.9,403.6 591.7,404.4 593.4,404.5 595.2,404.2 597,404.2 598.7,404.7 600.5,403.9 602.3,403.1 604,404 605.8,403.9 607.6,404.1 609.3,403.5 611.1,404.2 612.9,404.1 614.6,403.1 616.4,404.1 618.1,403.3 619.9,403.2 621.7,403.8 623.4,403.8 625.2,403.3 627,404.3" fill="none" stroke="#d95f02" stroke-width="0.85" stroke-linejoin="round"/></g><text transform="translate(274.9,466.5) rotate(-90)" x="-57.2" y="0" font-size="10.19" fill="#262626" stroke="#262626" stroke-width="0.22" textLength="114.3" lengthAdjust="spacingAndGlyphs">Fraction of full gridcells</text><text transform="translate(286,466.5) rotate(-90)" x="-46.9" y="0" font-size="10.19" fill="#262626" stroke="#262626" stroke-width="0.22" textLength="93.7" lengthAdjust="spacingAndGlyphs">in SPG - HadCRUT5</text><text transform="translate(671.9,466.5) rotate(-90)" x="-51.5" y="0" font-size="10.19" fill="#d95f02" stroke="#d95f02" stroke-width="0.22" textLength="103.1" lengthAdjust="spacingAndGlyphs">Fraction of global full</text><text transform="translate(683.1,466.5) rotate(-90)" x="-51.5" y="0" font-size="10.19" fill="#d95f02" stroke="#d95f02" stroke-width="0.22" textLength="103" lengthAdjust="spacingAndGlyphs">gridcells - HadCRUT5</text>
</svg>
</body></html>
